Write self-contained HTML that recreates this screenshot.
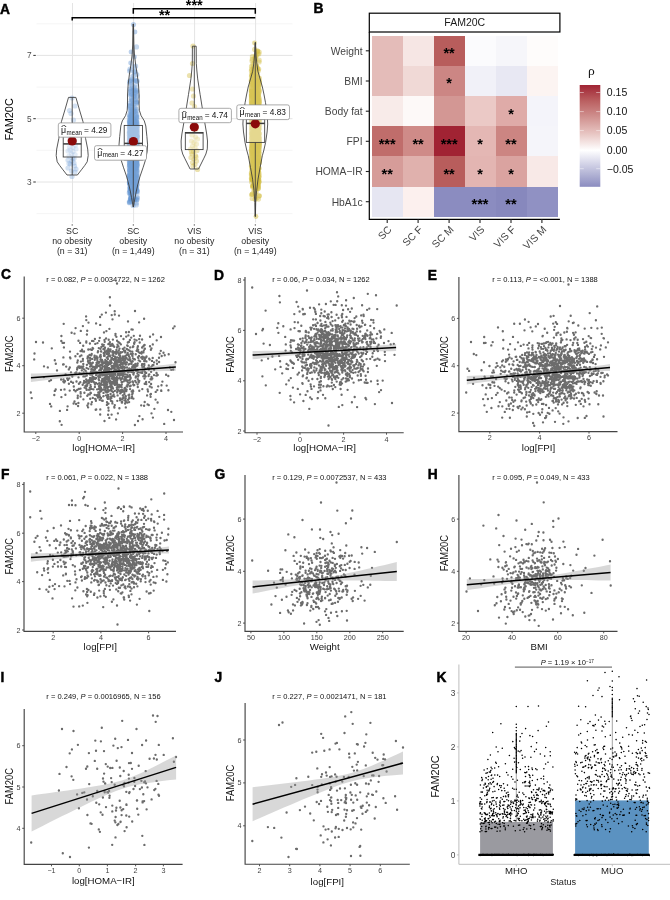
<!DOCTYPE html>
<html lang="en"><head><meta charset="utf-8"><title>FAM20C figure</title>
<style>html,body{margin:0;padding:0;background:#fff}svg{display:block;font-family:'Liberation Sans', sans-serif}</style></head>
<body><svg width="670" height="900" viewBox="0 0 670 900">
<rect width="670" height="900" fill="#fff"/>
<g id="panelA">
<text x="0" y="13.9" font-size="13.8" font-weight="bold" stroke="#000" stroke-width="0.45">A</text>
<line x1="36.5" y1="23.8" x2="292.5" y2="23.8" stroke="#f0f0f0" stroke-width="0.7"/>
<line x1="36.5" y1="87.1" x2="292.5" y2="87.1" stroke="#f0f0f0" stroke-width="0.7"/>
<line x1="36.5" y1="150.3" x2="292.5" y2="150.3" stroke="#f0f0f0" stroke-width="0.7"/>
<line x1="36.5" y1="213.6" x2="292.5" y2="213.6" stroke="#f0f0f0" stroke-width="0.7"/>
<line x1="36.5" y1="55.4" x2="292.5" y2="55.4" stroke="#e4e4e4" stroke-width="1"/>
<line x1="36.5" y1="118.7" x2="292.5" y2="118.7" stroke="#e4e4e4" stroke-width="1"/>
<line x1="36.5" y1="182" x2="292.5" y2="182" stroke="#e4e4e4" stroke-width="1"/>
<line x1="72.5" y1="3" x2="72.5" y2="222.6" stroke="#e4e4e4" stroke-width="1"/>
<line x1="133.6" y1="3" x2="133.6" y2="222.6" stroke="#e4e4e4" stroke-width="1"/>
<line x1="194.6" y1="3" x2="194.6" y2="222.6" stroke="#e4e4e4" stroke-width="1"/>
<line x1="255.6" y1="3" x2="255.6" y2="222.6" stroke="#e4e4e4" stroke-width="1"/>
<line x1="33.3" y1="55.4" x2="35.8" y2="55.4" stroke="#333" stroke-width="1"/>
<text x="31.7" y="58.4" font-size="8.3" fill="#4d4d4d" text-anchor="end">7</text>
<line x1="33.3" y1="118.7" x2="35.8" y2="118.7" stroke="#333" stroke-width="1"/>
<text x="31.7" y="121.7" font-size="8.3" fill="#4d4d4d" text-anchor="end">5</text>
<line x1="33.3" y1="182" x2="35.8" y2="182" stroke="#333" stroke-width="1"/>
<text x="31.7" y="185" font-size="8.3" fill="#4d4d4d" text-anchor="end">3</text>
<text x="13.2" y="119.4" font-size="10.9" text-anchor="middle" transform="rotate(-90 13.2 119.4)">FAM20C</text>
<line x1="72.2" y1="224.3" x2="72.2" y2="225.6" stroke="#333" stroke-width="0.9"/>
<text x="72.2" y="234.2" font-size="8.8" fill="#262626" text-anchor="middle">SC</text>
<text x="72.2" y="244.3" font-size="8.8" fill="#262626" text-anchor="middle">no obesity</text>
<text x="72.2" y="254.3" font-size="8.8" fill="#262626" text-anchor="middle">(n = 31)</text>
<line x1="133.3" y1="224.3" x2="133.3" y2="225.6" stroke="#333" stroke-width="0.9"/>
<text x="133.3" y="234.2" font-size="8.8" fill="#262626" text-anchor="middle">SC</text>
<text x="133.3" y="244.3" font-size="8.8" fill="#262626" text-anchor="middle">obesity</text>
<text x="133.3" y="254.3" font-size="8.8" fill="#262626" text-anchor="middle">(n = 1,449)</text>
<line x1="194.3" y1="224.3" x2="194.3" y2="225.6" stroke="#333" stroke-width="0.9"/>
<text x="194.3" y="234.2" font-size="8.8" fill="#262626" text-anchor="middle">VIS</text>
<text x="194.3" y="244.3" font-size="8.8" fill="#262626" text-anchor="middle">no obesity</text>
<text x="194.3" y="254.3" font-size="8.8" fill="#262626" text-anchor="middle">(n = 31)</text>
<line x1="255.3" y1="224.3" x2="255.3" y2="225.6" stroke="#333" stroke-width="0.9"/>
<text x="255.3" y="234.2" font-size="8.8" fill="#262626" text-anchor="middle">VIS</text>
<text x="255.3" y="244.3" font-size="8.8" fill="#262626" text-anchor="middle">obesity</text>
<text x="255.3" y="254.3" font-size="8.8" fill="#262626" text-anchor="middle">(n = 1,449)</text>
<g fill="#5b8fd0" fill-opacity="0.3">
<circle cx="72" cy="98" r="2.6"/>
<circle cx="69.5" cy="110.5" r="2.6"/>
<circle cx="71" cy="113.5" r="2.6"/>
<circle cx="75" cy="106" r="2.6"/>
<circle cx="73.5" cy="120" r="2.6"/>
<circle cx="70" cy="139" r="2.6"/>
<circle cx="74.5" cy="140.5" r="2.6"/>
<circle cx="68" cy="151" r="2.6"/>
<circle cx="76" cy="149" r="2.6"/>
<circle cx="71.5" cy="154" r="2.6"/>
<circle cx="75" cy="154.5" r="2.6"/>
<circle cx="73" cy="151.5" r="2.6"/>
<circle cx="69" cy="156" r="2.6"/>
<circle cx="72.5" cy="158" r="2.6"/>
<circle cx="68" cy="160" r="2.6"/>
<circle cx="74" cy="163" r="2.6"/>
<circle cx="70.5" cy="164" r="2.6"/>
<circle cx="68" cy="168" r="2.6"/>
<circle cx="76" cy="169" r="2.6"/>
<circle cx="71.5" cy="171" r="2.6"/>
<circle cx="72" cy="176.5" r="2.6"/>
<circle cx="74.5" cy="166" r="2.6"/>
<circle cx="69.5" cy="147" r="2.6"/>
<circle cx="75.5" cy="145" r="2.6"/>
<circle cx="71" cy="143" r="2.6"/>
<circle cx="73" cy="147.5" r="2.6"/>
<circle cx="70" cy="150" r="2.6"/>
<circle cx="74" cy="158.5" r="2.6"/>
<circle cx="72" cy="161" r="2.6"/>
<circle cx="69" cy="163.5" r="2.6"/>
<circle cx="75" cy="172" r="2.6"/>
</g>
<path d="M129.8 156.1h0M132.6 136.1h0M134.7 128.3h0M130.9 148.7h0M136.2 133h0M134.5 138.1h0M133.9 155h0M130.9 159h0M134.1 128h0M130.7 95.1h0M132.7 191.7h0M132.5 164.8h0M137.2 81h0M131.6 187.4h0M130.4 165h0M133.2 132.8h0M135.3 128.1h0M129.3 146.5h0M133.6 181.4h0M133.6 127.7h0M131.1 169.4h0M129.4 137.8h0M132.7 177.1h0M136.6 137.1h0M136.1 140.4h0M133.3 139.8h0M134.6 111.1h0M136.2 155.2h0M135.7 159.4h0M135.9 121.9h0M129.4 157.2h0M134.7 150.1h0M136.9 199.7h0M130.7 153.5h0M133 136.6h0M133.1 129.1h0M129.3 133.2h0M135.8 121.3h0M135.9 95.4h0M133.2 162h0M135.1 136.7h0M135.9 161.1h0M135.3 151.2h0M134.7 163.8h0M133.4 153.4h0M136 145.8h0M133 146.2h0M136.2 92.5h0M129.3 134.8h0M134.5 141.8h0M131.3 143.3h0M132.5 160.7h0M134.3 141h0M130.7 131.9h0M132.1 182.5h0M131.6 143.5h0M131.5 146.8h0M132.6 170.5h0M134.6 188.6h0M137.2 159.5h0M129.5 174.6h0M132.5 180.2h0M130 128.9h0M135.9 151.4h0M136.4 135h0M131.3 161.8h0M130 129.9h0M132.4 149.5h0M134.3 71.5h0M137.1 137.1h0M133.9 151.4h0M130.2 171.9h0M131.7 119.1h0M133.9 127.4h0M133 138.6h0M134.5 144.9h0M136.3 139.3h0M132.1 177.7h0M136.9 160.9h0M131.8 186.4h0M129.4 201.6h0M132.9 186.6h0M133.1 122.1h0M129.4 165.4h0M131.2 91.7h0M136.4 191.4h0M129.8 149.2h0M133 137.5h0M133.1 178.9h0M130.5 122.1h0M135.9 132.1h0M131.2 160.6h0M130.5 143.4h0M132.2 135.7h0M135.9 147.9h0M129.8 151.9h0M131.4 143.5h0M134 124.8h0M129.7 137.9h0M134.6 154.8h0M131.4 174.2h0M129.4 182.2h0M130.9 158.6h0M135.1 148.3h0M135.8 125h0M133.9 122.5h0M136.5 163.2h0M135.8 149.4h0M135.1 187h0M130.2 135.4h0M136.3 175.7h0M134.1 123.6h0M130.9 165.7h0M130.2 132.8h0M136.6 148.4h0M129.7 142.5h0M129.7 170.5h0M129.4 114.8h0M130.4 148.2h0M131.7 114.5h0M129.7 114.2h0M134.6 166.1h0M133 163.5h0M129.8 139.8h0M136.4 96.7h0M134.7 178.9h0M136.2 163.3h0M136 155.6h0M133.6 130.6h0M136.9 150.8h0M134.3 136.2h0M133.3 135.9h0M136.9 165.3h0M131.6 161h0M131.7 138.3h0M132.3 179.8h0M134.9 137.3h0M133 170.1h0M134.7 157.9h0M136.6 167.7h0M131.6 147.2h0M136.3 164h0M132.2 138.5h0M130.2 188.2h0M131.9 136.2h0" stroke="#5b8fd0" stroke-width="5.2" stroke-linecap="round" fill="none" stroke-opacity="0.34"/>
<path d="M132.3 178.8h0M135.9 134h0M130.1 124.4h0M132.3 130.7h0M136.4 176.2h0M131.9 153.4h0M135.1 157.2h0M135.8 134.7h0M134 184.2h0M131.7 176.9h0M134.9 158.5h0M135.5 181.2h0M134.7 155.8h0M137.2 150.7h0M136.6 153h0M132.8 169.5h0M135.9 182.1h0M129.7 156.2h0M131.8 169h0M129.8 152.1h0M136.6 158.4h0M130 136h0M134.7 127.2h0M131 163.6h0M131.1 131.8h0M134.3 150h0M137.1 165.1h0M134.5 125.9h0M132.8 138.9h0M129.6 127.3h0M130.4 126.8h0M134.6 141.6h0M134.3 123.3h0M133.1 144.1h0M135.8 137.2h0M133 121h0M135.5 150.2h0M134.2 119h0M130.1 135.6h0M135.1 173.1h0M135.5 185.9h0M130.9 156.6h0M136.9 165.7h0M136.6 114.4h0M134.3 130.8h0M137.2 156.8h0M135.6 164.3h0M130.8 141.6h0M134.4 134.6h0M133.6 133.7h0M136.6 172.5h0M131.4 166.1h0M129.4 155.7h0M132.1 108.3h0M136 158.7h0M131.7 157.4h0M130.9 80.4h0M136.6 124.9h0M131.2 177.9h0M130 152.7h0M134.8 166h0M133.6 158.8h0M131.9 132.5h0M136.9 173.4h0M134 166.3h0M129.8 128h0M134.5 134.4h0M131.7 110.8h0M131.9 149.8h0M133.7 95.9h0M135.6 165.4h0M134.4 121.8h0M132.7 171.1h0M129.5 146.3h0M131.6 195.9h0M132 157.8h0M130.2 154.3h0M131.6 182.1h0M132 146.7h0M132.9 90.7h0M129.8 125.2h0M135.3 140.1h0M130.8 105.7h0M134.2 140.5h0M134.2 141h0M135 127.4h0M129.6 154h0M136.3 109.2h0M130.2 157.1h0M134.9 179.9h0M131.3 152.7h0M134.6 169.5h0M129.9 136.3h0M134.5 133.6h0M133.3 144.1h0M133.6 129.8h0M131.4 158.7h0M135.8 181.3h0M129.8 154.4h0M129.4 117.7h0M132.2 176.8h0M136.4 122.9h0M134.4 134.9h0M136.5 175.7h0M130 129.4h0M136.6 150.7h0M136.9 132.4h0M131.2 176.8h0M130.5 91.3h0M131.1 153.9h0M133.7 158.4h0M132.8 147.8h0M130.5 117.3h0M130.6 136.5h0M136.8 165.3h0M134.9 153.4h0M134 147.9h0M134.5 167.2h0M135.1 130.8h0M136.9 149h0M133.7 162h0M131.5 105.8h0M131.4 123.6h0M131.5 136.6h0M135.8 117.5h0M131.3 121.1h0M131.7 137.7h0M130.9 198.6h0M134.8 123.9h0M129.6 145.8h0M136.5 162h0M131.2 157.2h0M133.2 140h0M129.8 140.7h0M131.2 154.6h0M134.8 139.7h0M129.5 132.9h0M130.8 164.6h0M136 128.8h0M131.1 130.1h0M130.3 131.2h0M136.1 160.1h0M130 142.5h0M131.8 114.7h0M130.3 135.6h0" stroke="#5b8fd0" stroke-width="5.2" stroke-linecap="round" fill="none" stroke-opacity="0.34"/>
<path d="M135.5 166.1h0M129.4 132.2h0M135.2 155.3h0M132.2 79.2h0M129.4 148.3h0M131 105.3h0M134.9 158.7h0M135.1 175.7h0M129.9 152h0M136.3 146.5h0M131.5 142.9h0M132 125.7h0M133.7 167.8h0M132.5 137.9h0M135.7 142.7h0M136.5 158.4h0M133.2 172.3h0M130.1 155.8h0M129.3 176.7h0M132.1 94.4h0M133.4 154.5h0M134.4 120h0M131.2 153.6h0M131.2 175.5h0M131 144.9h0M129.7 128.8h0M135.7 121.4h0M134.8 143.4h0M135.4 107.5h0M133.8 168.5h0M132.2 165.6h0M129.3 149.9h0M136.1 161.2h0M131.3 164.4h0M135.9 162.5h0M136.6 91.4h0M135.2 133.9h0M130.4 194.5h0M132.5 155.2h0M131.8 159.3h0M130.4 124.6h0M130.2 187.8h0M129.6 107.2h0M136.3 152.6h0M135.1 127.4h0M137.2 170.5h0M136.4 148.2h0M136.1 175.7h0M134.7 143.6h0M135.3 177.8h0M132.7 170.7h0M136.6 102.3h0M132.4 132.4h0M133.2 143.1h0M133.8 156.3h0M130.5 121.7h0M137.2 145.6h0M137.1 184.6h0M131 119.3h0M136.2 188.2h0M134 138.1h0M131.9 173.2h0M132.7 185.8h0M131.4 114.7h0M132.8 156h0M136.8 162.5h0M135.6 125.1h0M135.4 119.9h0M137.2 140h0M131.6 141h0M136.4 153.8h0M135.9 150.6h0M130.3 183.4h0M137 182.8h0M132.6 164.4h0M136.8 147.8h0M133.3 134.2h0M132.8 136.9h0M134.4 123.2h0M131.8 182.3h0M130.1 171.3h0M130 184.6h0M130.9 166.2h0M131.4 137.4h0M132.6 152.2h0M130.7 132.1h0M130.9 160.5h0M135.4 90.2h0M136.2 116.5h0M132.7 136.7h0M131.1 188.7h0M135 167.2h0M133.6 148.6h0M131.4 184.8h0M133.6 188.5h0M130.5 171.1h0M129.4 103.3h0M134.3 189.1h0M135.6 183.7h0M136.3 158.8h0M130.6 155h0M131.2 80.1h0M136.8 142h0M131.5 159.5h0M133.5 114.4h0M132.3 154.8h0M130.6 199.4h0M133.6 146.1h0M130.5 201.3h0M135.5 169.5h0M130.9 135h0M130.4 134.4h0M129.4 175.7h0M133.3 154.2h0M133.9 158.6h0M131.1 152.5h0M135.2 190.6h0M135.2 107.9h0M133 142.2h0M130.7 181.7h0M132.8 133.9h0M130.5 161.7h0M136.6 141.2h0M134 122.1h0M131.9 147.5h0M129.7 149.9h0M133.5 110.9h0M133.2 160.4h0M135.2 144.2h0M129.9 156.9h0M130.2 132.4h0M132.8 113.6h0M131 115.3h0M136.1 136.4h0M132.2 145.2h0M136.5 118h0M134.9 161.2h0M130.4 121.9h0M134.8 140.1h0M130 158.1h0M135.2 168.5h0M136.3 171h0M129.8 174.4h0M130.8 165.2h0M130.4 198.7h0" stroke="#5b8fd0" stroke-width="5.2" stroke-linecap="round" fill="none" stroke-opacity="0.34"/>
<path d="M133.7 129h0M129.4 145h0M133.6 96h0M136.5 126.7h0M133.1 173.8h0M136.6 140.5h0M133.2 123.4h0M136.5 157.6h0M134.1 126.6h0M130.3 151.7h0M130.6 150.8h0M136 183.7h0M136.1 148.8h0M131.1 132.7h0M131.3 176.6h0M133.8 161.9h0M131.1 120.1h0M136.4 126.6h0M134 148.9h0M134.2 153.8h0M130.7 127.1h0M132.8 156.5h0M131.4 156.6h0M136.4 178.8h0M135.3 158h0M130.8 132.3h0M134.5 121.9h0M131.5 177h0M130.6 148.9h0M132.7 158.1h0M130.7 164.1h0M136.3 163.1h0M133.1 172h0M136.4 126.2h0M130.9 144.4h0M136.6 148.4h0M132.4 148.6h0M132.6 185.9h0M130.8 107.1h0M130.6 164.7h0M135.4 148.4h0M132.1 143.9h0M133.9 163.8h0M132.8 151.9h0M133.9 177.3h0M133.3 160.1h0M132.3 137.7h0M131.5 152.5h0M136.3 204.9h0M135.8 147.8h0M133.2 146.9h0M136.1 163.2h0M134.9 146.2h0M136.5 165.4h0M134 165.9h0M134.1 122.5h0M130 125.2h0M136.6 179h0M130.4 136.5h0M131.7 154.7h0M131.5 112.9h0M131.3 142.2h0M131.4 132.3h0M130.7 134.2h0M137.1 164h0M137.3 133h0M129.8 106.1h0M136 177.5h0M130.8 165.2h0M130.4 123.8h0M135.4 168.8h0M129.9 163.4h0M131.9 117.5h0M130.9 110.4h0M132.4 119.2h0M130.1 124.1h0M135.4 92.1h0M136 163.2h0M134.6 192.3h0M132 155.2h0M136.6 143h0M136.7 142.3h0M136.2 152.1h0M131.3 157.3h0M131.8 132.9h0M136.9 127.8h0M133.9 137.6h0M133.3 183.9h0M133.7 136h0M134.7 137.6h0M132.1 170.4h0M132.4 146.1h0M136.8 74.6h0M129.9 148.8h0M135 187.9h0M136.1 80.6h0M134.7 131.8h0M133.4 147.8h0M136.8 101.5h0M131.3 190.1h0M132 150h0M130.1 133.6h0M130 145.7h0M136.7 117.2h0M131 146.1h0M130.8 143.3h0M133.9 162.9h0M134 146.8h0M135.2 153.6h0M131.4 185.5h0M130.4 166.4h0M133.1 150.7h0M136 153.9h0M131.6 156.4h0M137.2 135.6h0M136.4 188.7h0M130.2 134.4h0M132.6 190.9h0M133.4 156.9h0M133.5 142.4h0M132.5 179.8h0M129.9 181.6h0M129.4 202.7h0M131.5 182h0M133.9 99.9h0M132.7 100.5h0M132.8 161.2h0M133.7 140.6h0M131.1 134.4h0M130.9 191h0M135.9 148.8h0M129.8 158.5h0M137.1 150.1h0M133.2 146.1h0M135.2 152.2h0M131.3 156.7h0M131.1 197.9h0M133.2 133.8h0M133.3 156.5h0M133.4 159.5h0M133.1 169.8h0M131.1 135.1h0M135.5 160.4h0M129.8 175.7h0M132.6 136.8h0" stroke="#5b8fd0" stroke-width="5.2" stroke-linecap="round" fill="none" stroke-opacity="0.34"/>
<path d="M130.6 136h0M133.5 147.9h0M134.8 92.7h0M133.5 158.8h0M130.3 157h0M129.6 137.3h0M131.8 144.4h0M136.7 121.4h0M131.2 178.5h0M136.9 136.6h0M132.8 176.9h0M135 71.3h0M132.7 162.4h0M133.7 187.7h0M133.1 143.1h0M132.7 156.4h0M134.4 155.3h0M132.4 105.3h0M131.4 182h0M131.5 125.9h0M133.9 153h0M130 168.1h0M136.3 154.3h0M131.5 123.9h0M135.9 118.3h0M130.2 136.8h0M132.3 121.3h0M131.2 140.1h0M134.5 164.9h0M134.2 162.3h0M131.2 162.6h0M130.6 140.4h0M129.9 183.6h0M130.7 180.8h0M136.5 103.4h0M132.1 120.8h0M131.3 156.5h0M133.2 130.4h0M136.4 130.8h0M132.2 135.4h0M136.9 115.8h0M134.3 142.1h0M130.8 81.7h0M134.8 184.8h0M132.2 127.4h0M132.3 156.2h0M133.4 169.9h0M133.6 151.9h0M130.9 138.2h0M129.3 161.3h0M134.9 165.7h0M135 170.3h0M132.2 149.9h0M135.4 162.1h0M131.3 163.8h0M135.5 126.1h0M132 133.2h0M132.6 157.4h0M136.8 91.1h0M136.9 137.2h0M129.4 121.7h0M135.6 66.2h0M136 160.4h0M135.6 165.8h0M134.6 140.4h0M134.1 147.1h0M131.8 146.6h0M136.3 146.4h0M133.8 110.9h0M135.7 113.8h0M133.2 151.7h0M134.2 142.2h0M130.4 131.1h0M132.1 126h0M131.6 169.2h0M135.7 122.2h0M130 136.5h0M133.4 131.8h0M130 161h0M133.2 107.8h0M132.6 167.8h0M133.1 140.2h0M133.9 158.7h0M133.3 126h0M133.3 139.5h0M131.3 199h0M132.7 137.4h0M132.2 144.3h0M130.1 88.9h0M133.1 115.6h0M135.6 157.4h0M130.5 126h0M129.7 143.8h0M130.8 117.8h0M136.1 121.5h0M130.1 160.2h0M129.9 83.2h0M131.8 146.3h0M129.7 169.6h0M133.7 195.2h0M134.9 127.8h0M134.5 122.5h0M132.4 180.4h0M135.3 122.6h0M135.4 153.2h0M131.6 175h0M134.7 143.6h0M131.9 134.3h0M132.4 111.1h0M133.7 138.4h0M131.9 135.1h0M136.6 163.7h0M129.3 178.3h0M132.9 184h0M131.2 114.7h0M131 137.6h0M132.7 120.7h0M133.3 175.7h0M131.7 182.1h0M133.6 131.7h0M133.6 179.2h0M131.4 192h0M131.9 151.2h0M129.7 126.9h0M131.4 148.8h0M130.9 187.6h0M129.9 192.3h0M135.6 163.6h0M132.8 172.7h0M131.6 121.9h0M129.3 159.8h0M132.2 152.6h0M133.1 154.5h0M134.1 149.3h0M130.6 82.7h0M135.8 121.3h0M132.9 140.1h0M133 170.4h0M130.4 183h0M135.7 145.9h0M134.5 186.3h0M133.8 159h0M129.3 159.7h0M136.6 148.9h0M136 129.8h0" stroke="#5b8fd0" stroke-width="5.2" stroke-linecap="round" fill="none" stroke-opacity="0.34"/>
<path d="M135.8 177.6h0M131.7 151.2h0M135.2 148.1h0M129.8 129.5h0M133.5 164.8h0M131.3 123.4h0M129.4 131.1h0M131.2 172.8h0M132.4 156.7h0M132.7 165.2h0M130 138.8h0M129.6 165.2h0M129.4 130.7h0M132.1 145.6h0M134.3 183.6h0M137.1 193.3h0M136.6 147.3h0M134.8 141.2h0M131.5 97.4h0M137.2 158.2h0M135.1 94.6h0M136.3 135.9h0M130.9 116.8h0M131.9 88.2h0M131.1 139.8h0M131.5 146.5h0M132.5 113.6h0M131.1 162.1h0M129.6 127.3h0M136.4 202.9h0M134.7 145h0M130.7 172.2h0M129.4 120.3h0M137 129.9h0M129.6 202.3h0M131.6 126.8h0M133.6 149.4h0M136.9 191.1h0M133.7 146.1h0M130.6 125.3h0M133.8 191.2h0M132.2 160.8h0M135.7 190.2h0M130.8 95.3h0M136.1 144.9h0M135.2 142.6h0M133.4 140.9h0M135 158.5h0M130.3 144.3h0M136.8 111h0M134.8 146.6h0M130.6 144.4h0M135.8 155.8h0M129.3 127.7h0M135.5 137.9h0M130.3 134.8h0M134.2 169.2h0M135.3 99.1h0M130.3 171.4h0M135.3 149.5h0M136.8 126.5h0M131.5 166.2h0M132.1 121.9h0M131.8 155.7h0M136.9 162.2h0M130.5 174.1h0M131.7 129.1h0M130.7 170.2h0M134.7 132.9h0M136.1 152.8h0M130.7 127.9h0M131.4 133.3h0M131.4 125.4h0M133.5 147.9h0M134.1 135.7h0M132.7 134.3h0M133.6 164.1h0M134 122.1h0M129.9 121.8h0M134.8 152.4h0M136.1 177.6h0M132.2 165h0M132.7 168.8h0M134.1 119.6h0M134.9 155.4h0M134.8 134.5h0M130 69.2h0M131 127.7h0M131.9 128.8h0M133.3 168.7h0M136.1 149h0M134.2 92.6h0M134.4 127.2h0M131.5 99.9h0M134 124h0M134.6 127.6h0M130.9 150.2h0M133.4 173.9h0M129.5 150.1h0M132.1 178.4h0M137.2 148.7h0M135 127.2h0M132.1 131.1h0M134.5 200.2h0M133.9 136.1h0M131.3 141.1h0M130.5 142.9h0M136.7 181.3h0M136.2 147.6h0M136 151.2h0M130.4 178.6h0M134 174.5h0M131.3 167.7h0M134.8 79.9h0M131.7 146.5h0M131.7 142.2h0M129.8 171.5h0M131.3 135h0M130.6 168.6h0M133.3 151.5h0M134.3 185.4h0M130.3 161.7h0M133.9 148.3h0M133.9 75.8h0M130.9 164.2h0M134.8 126.2h0M129.5 81.5h0M129.5 146.7h0M131.7 172.9h0M136.2 191.5h0M135.2 128.3h0M132.6 154.8h0M132.8 182.3h0M136.4 159.9h0M137.3 147.2h0M131.8 178.3h0M134.7 168.8h0M134.5 200.8h0M136.2 134.7h0M132.5 126.6h0M131.2 171.6h0M130 149.8h0M137.2 197h0M136.6 168.1h0M129.9 184.3h0" stroke="#5b8fd0" stroke-width="5.2" stroke-linecap="round" fill="none" stroke-opacity="0.34"/>
<path d="M129.6 71h0M132.5 200.9h0M137.2 146.4h0M135 140.6h0M130 116.3h0M131.9 169.7h0M133.6 142.6h0M136.7 187h0M132.3 152.7h0M132.4 86.8h0M132.9 153.4h0M132.4 169.8h0M131.5 127.4h0M130.2 194.5h0M131.8 108.6h0M132.1 137.3h0M131.8 153.7h0M134.9 165.7h0M136.3 89.9h0M135.7 84.6h0M134.1 169.1h0M132.2 175.6h0M132.4 158.1h0M136.4 157.7h0M130.9 121.5h0M130.8 114h0M131.7 179h0M136.6 117.5h0M137 133.5h0M135.1 185.1h0M137 140.1h0M133.4 182h0M134.4 115.2h0M136.2 165.9h0M129.3 177.7h0M134.5 175.3h0M131.7 140.2h0M131.9 128.9h0M131 178h0M136.1 166.7h0M134.5 152.8h0M137 172.1h0M131.2 145.8h0M130.1 145.3h0M132.3 165.7h0M137 151.8h0M130.1 173.4h0M130.5 159.5h0M135.8 140.1h0M136.3 175.3h0M134.8 139.9h0M129.7 105.4h0M136.6 127.9h0M129.8 122.4h0M131 131.7h0M133.6 190h0M132.5 127.4h0M136.1 158.2h0M136.6 180.8h0M131.4 84h0M130.3 135.6h0M132 132h0M132.7 170h0M131.1 135.5h0M134.8 160.2h0M130.3 145.6h0M133.6 164.8h0M130.9 107.5h0M135.8 169.4h0M133.9 188.6h0M134.9 151.5h0M137.3 140.9h0M133.9 173.5h0M134.3 149.9h0M133.4 167.5h0M132.5 100.8h0M137.2 131h0M130.2 144.7h0M132.8 179.6h0M129.6 146.1h0M134.9 199.6h0M134.9 145.6h0M135.5 130.8h0M132.8 160.7h0M136.6 154.4h0M134.9 154.4h0M130.9 93.5h0M131.6 162.1h0M131.3 87.9h0M131.8 158.8h0M133.8 81.1h0M131 174.8h0M129.5 162h0M130.6 199.8h0M129.6 142.8h0M134.9 145.9h0M130 141.1h0M137.2 134.2h0M129.4 140.6h0M132 170.9h0M130.9 134.6h0M136.5 153.9h0M129.9 161h0M130.9 90.7h0M136.9 118.9h0M130.5 148.4h0M133.6 167.2h0M132 137.3h0M131.2 100.7h0M134.2 72.3h0M135.5 112.9h0M133 104.7h0M134 175h0M131.9 127.3h0M132.9 177.1h0M130.4 153.2h0M129.4 135.8h0M131.3 122.7h0M135.7 124.1h0M135.5 136.4h0M134.9 132.7h0M134.8 174h0M130.7 188.4h0M131.7 179.1h0M130.9 158.6h0M131.1 142.8h0M136 165.9h0M132.2 142.7h0M132.4 138.5h0M136 157.9h0M133.2 104.3h0M129.3 144.3h0M132.3 177.7h0M133.3 156.4h0M131.2 129.3h0M132.6 120.6h0M130.7 121.9h0M136.2 154.7h0M131.6 142h0M136 142h0M135.2 156.8h0M132.7 137.5h0M136.5 129.1h0M135.4 145.2h0M132.7 123.3h0" stroke="#5b8fd0" stroke-width="5.2" stroke-linecap="round" fill="none" stroke-opacity="0.34"/>
<path d="M136.7 170.4h0M133.6 167.8h0M130.2 183.1h0M133.3 66.9h0M136.4 151.9h0M134 140.4h0M134.3 118.7h0M132.5 180h0M137.1 141.8h0M133.4 139.7h0M133.3 159.9h0M135.4 123.4h0M134.1 140.2h0M135 148.1h0M130.2 143.8h0M135.1 141.5h0M129.5 159.5h0M132.8 170.2h0M132.2 85.5h0M133.3 135.5h0M129.7 190.8h0M136.4 168.3h0M135.3 156.8h0M131.9 128.7h0M131.2 158.4h0M136.8 164.7h0M135.7 133.2h0M135.7 162.5h0M136.3 150.3h0M131 172.9h0M133 143.3h0M134 140.7h0M132.7 198.6h0M132.4 109.5h0M133.2 181.6h0M130.9 146h0M135.9 168.7h0M132.9 147.5h0M130 165.1h0M130.1 125.5h0M131.9 168.4h0M135.6 137h0M135.2 141.7h0M135 156.5h0M136.5 161.2h0M134.3 142.6h0M129.3 167.4h0M136.9 153.2h0M131.4 152.9h0M136.8 136.3h0M134.3 150.9h0M136.7 159.3h0M130.4 189.6h0M137.3 137.1h0M130.4 143.2h0M133.6 87.8h0M129.4 155.2h0M130.9 153.4h0M130.6 198.3h0M133.4 162.8h0M131.9 144.9h0M133.2 123.1h0M133.1 120h0M129.9 155.8h0M134.9 141.1h0M132.9 134.6h0M134.1 182.7h0M133 153.7h0M135.8 146.7h0M132.4 153.4h0M136 147.4h0M132.2 149.9h0M131.7 181.9h0M132 165.6h0M132.6 78.3h0M136 128.5h0M131.2 142.4h0M129.8 153.5h0M130.3 118.3h0M137.3 152h0M130 132.4h0M131.5 145.8h0M136.6 130.1h0M135 164.9h0M136.8 123.6h0M136.6 199.8h0M133.9 149.9h0M132.1 76.7h0M130.5 121.3h0M132.7 150.9h0M132.2 178.4h0M132.2 194.9h0M133.7 148.5h0M130.9 152.4h0M133 173h0M131.5 193.9h0M135.7 148.1h0M133.9 168.7h0M133.9 139.1h0M132.5 126h0M136.2 121.3h0M133.3 143.9h0M134.1 135.7h0M131.5 134.4h0M135.1 169h0M132.1 120.4h0M130.9 126h0M131.9 160.5h0M131.2 150.3h0M135.3 139.8h0M133.8 121.5h0M134.2 153.4h0M133.3 103.7h0M134.6 139h0M133.4 154.3h0M131.7 178.6h0M132.3 173.8h0M129.7 176.7h0M130.3 147.1h0M129.7 182.8h0M136.5 46.9h0M134.8 174.2h0M136.1 135.2h0M136.1 154.4h0M130.2 154.5h0M133.8 150.4h0M132 126.4h0M133.1 139h0M132.2 155.2h0M136.8 167.8h0M136.6 169.1h0M133.1 130.7h0M136.4 103h0M131.5 159.4h0M131.5 142.2h0M130.3 139.6h0M133.5 153.4h0M135 175.8h0M132.5 86.5h0M132.5 163.9h0M137.2 126.2h0M133.9 137.6h0M137.2 148h0M131.3 138.9h0M132.1 190h0" stroke="#5b8fd0" stroke-width="5.2" stroke-linecap="round" fill="none" stroke-opacity="0.34"/>
<path d="M134.5 169h0M129.7 154.6h0M137.3 156.4h0M135.8 171.8h0M130.8 147.8h0M132.3 194.4h0M132.8 192.1h0M134.7 152.2h0M134.4 141.7h0M132.8 90.1h0M135.6 139.1h0M133.5 142.1h0M136.9 125.4h0M134.8 150h0M136 149.1h0M131.2 128h0M130.8 136h0M135.2 162.9h0M130.1 131.6h0M136.6 185h0M129.6 174.2h0M134.2 121.8h0M131.9 170.9h0M137.3 150.6h0M130.4 171.8h0M132.3 153.2h0M135.7 134.8h0M136.5 166.3h0M130.6 165.1h0M133.7 167.2h0M134.5 90.4h0M135.3 123.9h0M132.8 121h0M135.5 146.5h0M131.7 132.2h0M132.5 126.8h0M134 175.8h0M137.1 147.2h0M132.7 172.3h0M135.2 182.1h0M130.7 134.2h0M136.6 157.8h0M132 162.9h0M136.6 151.1h0M135.7 150.6h0M129.5 163.6h0M133.5 143.8h0M137 143.3h0M129.8 187.4h0M135.4 148h0M133.4 128.5h0M136.8 131.1h0M134.8 135.1h0M133.8 167h0M134.1 147.4h0M130.2 126.1h0M136.2 142.3h0M137.1 165.8h0M131.9 155.4h0M130.6 159.4h0M129.5 183h0M131.5 168.3h0M135.9 150.2h0M134.2 144.3h0M134.9 87.2h0M132.4 135.4h0M132.6 133.7h0M137 175.7h0M132.4 144.3h0M134.6 156.9h0M137 124.4h0M130 160.9h0M134.6 96.5h0M132.8 143.1h0M135 176.6h0M134.5 121.5h0M130.2 164.5h0M136.9 184.6h0M131.7 116.1h0M132.7 163.8h0M132.2 144.7h0M135 140.3h0M130.6 134.7h0M136.9 135.2h0M135.9 161.3h0M134.6 188h0M132.5 111.5h0M132.2 130.8h0M133.1 156.4h0M133.1 155.4h0M134.5 107.9h0M133.7 131.4h0M130.3 175.6h0M133.7 101.7h0M129.6 155.3h0M134 150.4h0M133.5 135.3h0M133.1 133.8h0M130.4 109h0M129.3 192.7h0M134.2 121.3h0M131.8 144.7h0M137.2 177.7h0M130.1 190.4h0M130.1 168.4h0M131.3 151.8h0M132.2 157.4h0M134.8 141.7h0M136.2 125.3h0M137.1 191.6h0M129.7 164.3h0M133.7 196.8h0M136.5 161.8h0M129.5 170.4h0M135.9 101.9h0M134.1 161.8h0M131.6 153.8h0M136.5 147h0M131.7 148h0M133.7 114.6h0M134.6 140.1h0M134.2 139.4h0M133.1 205.4h0M134.8 159.5h0M131.2 98.5h0M130.7 161.9h0M134.8 145.6h0M134 147.6h0M136.9 179.3h0M132.4 156.5h0M136.3 169.8h0M136.5 162.5h0M130.3 166.5h0M133.5 140.3h0M130.3 110.4h0M136.4 147.8h0M136 144h0M132 197h0M136.4 160.2h0M135.8 127h0M129.9 171.3h0M131.4 124.5h0M135.6 115.8h0M136.1 148.3h0M136.4 174.4h0" stroke="#5b8fd0" stroke-width="5.2" stroke-linecap="round" fill="none" stroke-opacity="0.34"/>
<path d="M133.7 145.8h0M137.2 198.2h0M133.1 148.5h0M129.7 123.8h0M134.6 176.4h0M130.2 153.4h0M137 128.8h0M136.9 122.3h0M135.1 131.8h0M133.1 120.6h0M130.2 149.4h0M134.7 170.5h0M134.2 138.7h0M137.1 179h0M130.6 187.6h0M135.4 99.4h0M136.8 190h0M133 118.8h0M134.3 131.2h0M129.6 150h0M132.6 100h0M134.3 165.2h0M132.2 170.2h0M135.9 187.1h0M132.7 140.4h0M130.4 134.3h0M133.2 171.3h0M135.9 170.7h0M135.4 179h0M133.8 140.7h0M135.4 173.5h0M131.6 164.9h0M131.9 126.6h0M133.9 91h0M132.7 141.6h0M135 159.2h0M131.8 126h0M132.7 182h0M130.1 165h0M132 154.6h0M135.3 167.8h0M134.1 127.7h0M134.5 149.8h0M135.3 111.4h0M135.6 169h0M129.6 140.9h0M133.3 162.7h0M137.1 127.3h0M130 177.7h0M132.4 128.3h0M135.4 137.3h0M131.5 157.1h0M132.3 135.7h0M134.2 146.7h0M136 122.2h0M133.5 125.8h0M131.2 142.1h0M130.1 128.6h0M131 157.7h0M132.6 142.7h0M132.4 134.4h0M135.1 161.3h0M131 93.3h0M136.8 174.7h0M130.3 190.7h0M130.9 111.5h0M136.2 151.6h0M134.3 176.3h0M131.5 192.7h0M137.1 137.1h0M130.5 156.1h0M135.6 150.9h0M136.5 137.7h0M134.3 123.8h0M135.8 125h0M137.1 145.5h0M131.6 142.4h0M132.1 122.6h0M130.9 137h0M136.7 159.9h0M132 186.7h0M132.6 143.1h0M137.3 136.5h0M130.7 156.2h0M132.1 113.2h0M137.2 96.2h0M135.4 127.7h0M130.7 190.7h0M130.8 117.7h0M132 117.7h0M135.9 122.1h0M137 175.1h0M134.6 178.7h0M132.8 146.6h0M134.1 162.9h0M131.9 103.5h0M133 157.5h0M136.4 161.5h0M133.8 132.2h0M132.7 128.2h0M130.1 169h0M131.8 129.1h0M131.5 141.5h0M136.5 81.3h0M132.3 152.2h0M133.4 165.9h0M131.9 162.8h0M133.2 184.7h0M132.2 139.7h0M131.7 120.5h0M136.3 144.3h0M134.3 145.9h0M131 127.9h0M133.7 150.5h0M132.9 144.4h0M131.4 146.5h0M136.3 148.9h0M129.5 121.6h0M135.3 199h0M135.6 128.4h0M137.3 190.4h0M132.4 118h0M132.3 181.3h0M135.1 162.4h0M131.1 130h0M133.2 184.6h0M132.6 149.8h0M130.4 132.7h0M129.4 139.5h0M129.4 176.2h0M129.7 158.4h0M129.8 145.2h0M131 132.8h0M133.3 158.9h0M132.4 158.4h0M132.3 120.2h0M130.6 135.3h0M133.2 164.6h0M131 143.1h0M130.2 115.4h0M131.9 162.9h0M132.7 147.4h0M129.3 142.1h0M135.9 128.4h0" stroke="#5b8fd0" stroke-width="5.2" stroke-linecap="round" fill="none" stroke-opacity="0.34"/>
<g fill="#d2bb3d" fill-opacity="0.42">
<circle cx="193" cy="46" r="2.6"/>
<circle cx="192.5" cy="63.5" r="2.6"/>
<circle cx="189.5" cy="75.5" r="2.6"/>
<circle cx="192.5" cy="89" r="2.6"/>
<circle cx="193.5" cy="96" r="2.6"/>
<circle cx="192" cy="103" r="2.6"/>
<circle cx="194.5" cy="106.5" r="2.6"/>
<circle cx="193" cy="126" r="2.6"/>
<circle cx="196" cy="129" r="2.6"/>
<circle cx="192" cy="135" r="2.6"/>
<circle cx="195.5" cy="137" r="2.6"/>
<circle cx="197.5" cy="139" r="2.6"/>
<circle cx="191.5" cy="141" r="2.6"/>
<circle cx="194" cy="142.5" r="2.6"/>
<circle cx="196.5" cy="144" r="2.6"/>
<circle cx="192.5" cy="146" r="2.6"/>
<circle cx="195" cy="147.5" r="2.6"/>
<circle cx="190.5" cy="149" r="2.6"/>
<circle cx="197" cy="150.5" r="2.6"/>
<circle cx="193.5" cy="151.5" r="2.6"/>
<circle cx="192" cy="154" r="2.6"/>
<circle cx="195.5" cy="155.5" r="2.6"/>
<circle cx="191" cy="157.5" r="2.6"/>
<circle cx="194" cy="159" r="2.6"/>
<circle cx="196.5" cy="161" r="2.6"/>
<circle cx="192.5" cy="162.5" r="2.6"/>
<circle cx="195" cy="164.5" r="2.6"/>
<circle cx="193" cy="166" r="2.6"/>
<circle cx="197.5" cy="169.5" r="2.6"/>
<circle cx="191.5" cy="152" r="2.6"/>
<circle cx="196" cy="157" r="2.6"/>
</g>
<path d="M257.2 94.4h0M252.8 104.1h0M255 154.1h0M257.3 90.8h0M255.1 174.2h0M252.8 84.7h0M258.2 107.7h0M253 129.7h0M254 109.6h0M253.9 154h0M257.3 133.1h0M259.1 181.8h0M255.9 187h0M259.1 109h0M258.5 185h0M252.9 162.8h0M257.7 112h0M258.8 141h0M258.5 158.6h0M252 128.2h0M252.2 127.8h0M254.4 111.4h0M254.3 128.2h0M255.5 151h0M257.6 146.1h0M257.3 156.9h0M258.7 152.8h0M252.3 100.5h0M253.4 91.1h0M256.6 73.5h0M259.1 113.1h0M258.6 161.7h0M256 102.3h0M258.6 179.4h0M257.6 81.2h0M256.1 72h0M256.1 91h0M255.8 109.9h0M255.1 144h0M252.2 168.6h0M255.4 95h0M254.2 120.2h0M254.9 106.4h0M257.3 168.8h0M258.9 132.5h0M251.5 82.1h0M258.3 149.8h0M256 120.7h0M255.1 124.6h0M258.5 80.1h0M258.7 69.1h0M252.4 166.1h0M258.5 82.7h0M253.5 89.6h0M255.1 199.3h0M258.9 127.5h0M251.8 148.6h0M253.9 95.8h0M258.4 80.8h0M256.1 82.6h0M257.3 143.1h0M256.6 146.4h0M255 118.9h0M252.8 122.4h0M253.8 85.6h0M253.3 88.5h0M255.6 164.5h0M256.2 186.5h0M253.5 107.9h0M253.5 138.4h0M253.3 126.3h0M255.8 160.3h0M254.6 136.6h0M255.7 127.1h0M254.1 70.3h0M255.8 139.5h0M256.5 150.7h0M258.9 156.5h0M252.4 136h0M257.2 99.6h0M257.1 118.2h0M255.1 156.4h0M256.9 162.4h0M251.5 133.8h0M255.3 91h0M255.2 108.7h0M253 101.8h0M258.2 188.4h0M256.4 125.1h0M255.2 134.2h0M252.1 87.2h0M256.7 112.1h0M252.6 111.6h0M251.7 95.6h0M253.8 155.2h0M251.4 166.2h0M251.9 164.7h0M254.6 49.4h0M255.3 115.7h0M254.4 145.1h0M259.2 128.4h0M254.3 142.2h0M259.1 81.9h0M251.3 90.6h0M255.2 142.4h0M256.7 153.3h0M259.3 78.2h0M257.6 106.9h0M252.2 166.1h0M252.9 138.4h0M252.9 133.6h0M252.6 75.2h0M251.9 165.8h0M256.9 154.2h0M258.3 86.3h0M257.5 97.3h0M253.4 151.9h0M259.3 106.8h0M251.9 149.6h0M257.8 107.1h0M254.8 105.3h0M252.5 100.9h0M252.7 94.8h0M258.7 121.8h0M251.3 108.9h0M254.3 159.6h0M255.1 170.7h0M253.3 173.9h0M257.5 93.2h0M257.9 158.4h0M252.9 138.1h0M251.6 179.7h0M258.5 157h0M259.3 90.2h0M255.2 123h0M254.8 138.7h0M257.4 95.6h0M257.2 127.2h0M258.2 162.9h0M258.9 143.5h0M259.3 133.4h0M253.6 142.3h0M254.1 135.9h0M254.3 97.2h0M255.4 186h0" stroke="#d2bb3d" stroke-width="5.2" stroke-linecap="round" fill="none" stroke-opacity="0.4"/>
<path d="M253.7 137.6h0M258.5 90.3h0M256.1 107.6h0M257.6 81.8h0M255.8 77.4h0M256 163.4h0M252.9 85.1h0M259.2 101.8h0M254.9 106.7h0M253.8 77.7h0M256.6 98h0M251.7 112h0M256.6 135.2h0M255.1 114.3h0M257.3 95.1h0M259.2 107.6h0M256.9 173.2h0M255.6 115.4h0M257.2 171.9h0M253.8 144.4h0M252.3 144.5h0M259.3 160.8h0M257.5 112.4h0M256.9 164.3h0M255.6 160.4h0M255.3 138.9h0M251.3 108.9h0M254.5 78.9h0M257.7 105.6h0M252.4 128h0M257.6 142.9h0M254.1 105.8h0M256.1 112h0M256.9 101h0M257.9 183.5h0M259 86.1h0M256.7 92.3h0M253.7 112.8h0M253.4 147.2h0M257.5 160.4h0M252.7 150.7h0M252.8 137.5h0M253.4 185.6h0M256.4 122h0M256.1 134.9h0M254.7 89.8h0M254.9 103.6h0M252.6 136.2h0M257.9 170.7h0M252 118.7h0M258.3 100.1h0M258.8 120.8h0M258.4 138.8h0M252.3 138.1h0M256.8 149h0M257.2 138.6h0M255.7 159.5h0M251.3 158h0M257 51.5h0M257.8 135.8h0M257.6 134.5h0M256.9 91.3h0M256 129.2h0M257.7 137.1h0M253.4 169.9h0M254.6 91.4h0M256.7 145.8h0M258.9 159.4h0M257.9 180.7h0M254 96.6h0M252.7 161.1h0M251.9 89.4h0M252.8 137.1h0M254.1 89.6h0M259.1 162.9h0M254.5 94.5h0M254 150.2h0M252.9 75.5h0M256.3 85h0M252.1 156.1h0M257.1 86.8h0M253.7 142.1h0M254 121.9h0M258.9 158.8h0M253.1 71.3h0M252.3 59.3h0M256.3 186.6h0M253.2 114h0M258.9 157.2h0M258.6 78h0M258 145h0M259.3 153.3h0M256.5 81.5h0M258.9 116.3h0M254.5 136.3h0M253.9 120.6h0M256.9 158.2h0M257.2 85h0M253.6 148.4h0M259.1 157.3h0M258.3 80.6h0M257.5 91.8h0M256.1 126.8h0M253.8 177.7h0M252.9 115.3h0M251.4 174.7h0M258.7 140.1h0M257.6 118.3h0M252.3 150.8h0M253.2 71.9h0M253.6 174.9h0M258.2 147h0M257.8 131.7h0M258 85.4h0M256.3 100.1h0M255 77.4h0M252.8 137.2h0M252.1 95h0M255.8 107.5h0M257.5 117.7h0M258.2 102.8h0M254.8 150.4h0M258.5 87.7h0M255.6 135.4h0M251.8 153.5h0M253 102.9h0M256.8 173.7h0M253.2 113.6h0M258.9 138.9h0M252.8 179.8h0M255.7 130.6h0M258.5 155.3h0M253 109h0M257.7 155.4h0M258.3 159.7h0M256.8 85.7h0M258.2 166.8h0M251.5 74.9h0M254.5 112.9h0M253.6 70h0M253.9 147h0M251.3 115.7h0M252.5 125.6h0M252.2 140.4h0M253.2 117.5h0" stroke="#d2bb3d" stroke-width="5.2" stroke-linecap="round" fill="none" stroke-opacity="0.4"/>
<path d="M253.6 111.6h0M257.3 150.1h0M252.2 149.6h0M255 113h0M255.8 123.1h0M254.7 152.7h0M256.7 137.3h0M258.8 137.5h0M251.3 91.3h0M256.7 97.1h0M253.1 126.8h0M254.9 150.4h0M258.5 130.4h0M253.5 84.4h0M251.4 105.6h0M255.8 127.4h0M253.2 122.1h0M257 156.1h0M254.4 112.2h0M259.1 163h0M256.4 155.7h0M253.8 116h0M257.4 124.1h0M258.9 85.2h0M254.4 108.4h0M254.3 156.7h0M257.5 90h0M255.8 94.1h0M253 139h0M253.5 134.9h0M258.9 114.8h0M253.9 120h0M256.1 83.8h0M255.4 154.4h0M251.7 104.5h0M253 77h0M258.4 154.4h0M255.6 171.6h0M251.9 149.3h0M255.5 147.1h0M257 164.9h0M258.5 144.8h0M254.4 66.3h0M258.5 153.4h0M253.8 171.8h0M253.6 144.7h0M254.2 183.5h0M258.6 129.2h0M255 106.8h0M255.2 140.8h0M257.7 104.9h0M251.7 110.1h0M259.2 109.9h0M252.2 164.7h0M258.7 89.8h0M257.2 182.1h0M258.7 168.4h0M256.6 165.1h0M251.4 103h0M255 193.2h0M257.7 117.7h0M256.7 77.8h0M256.9 167.7h0M254.4 129.9h0M256.4 154.5h0M257.6 117h0M252.9 65.4h0M257.4 80.4h0M256.2 102.4h0M255 160.9h0M257 83.7h0M259.1 62h0M252.7 161h0M257.3 119.5h0M251.6 118.6h0M256.8 68h0M258.1 135.4h0M258.5 120.2h0M254 158.1h0M256.8 112.1h0M254.1 123.1h0M253.3 103.1h0M258.8 138.8h0M257.1 155.5h0M258.5 199.1h0M252.3 75.1h0M256.9 177.4h0M259.2 81h0M252.2 133.6h0M251.4 172.8h0M257.5 166.5h0M255.1 137.2h0M254.6 118.7h0M256.8 113.8h0M258.8 141h0M255.1 116.8h0M253.6 113.1h0M256 120.1h0M255.8 55.5h0M257.6 180.3h0M254.6 128h0M251.4 116.7h0M252.2 152.7h0M254 162.2h0M257.6 158.2h0M252.6 146.9h0M258.4 86.3h0M258.7 149.8h0M253.1 116h0M251.4 118.6h0M252.4 173.9h0M252.9 64.2h0M258.5 161.4h0M254 91.3h0M256 64.2h0M258.6 97.9h0M252.2 106.4h0M258.7 93h0M251.6 121.6h0M255.8 90.3h0M253.3 134.9h0M254.2 159h0M252.6 146.3h0M255.6 99.1h0M252.9 115h0M251.9 104.1h0M254.2 105.5h0M255.5 67h0M255.6 116.1h0M259.1 143.3h0M258.3 152.4h0M252.7 122.5h0M258.5 159.7h0M253 97.4h0M252 93h0M252.8 94.7h0M253.8 169.8h0M258 112.8h0M253.5 147.7h0M254.1 106.5h0M256.8 125.6h0M257.1 125.5h0M252 96.2h0M256 136.1h0M253 135.8h0" stroke="#d2bb3d" stroke-width="5.2" stroke-linecap="round" fill="none" stroke-opacity="0.4"/>
<path d="M251.8 137.1h0M252.2 77.7h0M257.7 68.8h0M258.3 129.1h0M258.8 102.7h0M254.5 106h0M253.4 99.6h0M255.1 115.3h0M253.6 108.5h0M255.2 176.9h0M256.9 121.2h0M252 103.8h0M254.8 134.5h0M253.9 170.9h0M259 146h0M251.8 116.9h0M252 133.6h0M256.1 127.6h0M254.1 82.3h0M256.5 131.6h0M256.4 131h0M253.2 146.1h0M252.5 179.8h0M256.2 170.4h0M255.4 89.3h0M253.2 150.5h0M255 145.4h0M255.1 112.6h0M251.8 118.2h0M254.6 104.1h0M255.7 117.5h0M253.5 131.2h0M253.7 168.5h0M257 105.9h0M259.3 112.6h0M256 110.6h0M258 103.6h0M257.3 167.8h0M257.9 116.3h0M254.9 131.6h0M252.8 94.2h0M251.6 141.4h0M254.4 164.2h0M255.7 131.4h0M257.8 119.5h0M254.1 113.5h0M251.4 107.2h0M255.3 138.3h0M259.1 168.3h0M253.8 107.6h0M254.5 140.6h0M259.1 100.8h0M254.2 137.8h0M251.5 66.3h0M258.2 117.4h0M258 186.6h0M259.2 107.3h0M252.9 148h0M253.7 153.4h0M254.6 82.3h0M258.1 150.1h0M253.2 73.7h0M253.1 132.6h0M254 129.7h0M252.8 186.1h0M255.3 127.7h0M259.1 136.4h0M253.8 137.1h0M257.3 118.6h0M254.7 132.8h0M253.5 139.3h0M252.4 108.6h0M258.2 108.2h0M254.6 113.3h0M253.5 86h0M255.5 96.6h0M254.2 152.4h0M251.7 131.8h0M251.5 76.7h0M258.2 107.9h0M251.9 96.3h0M254.1 145.8h0M253.7 165.7h0M255.7 144.4h0M252.1 96h0M252.6 80.6h0M256.2 119.3h0M251.4 110.3h0M258.7 148.1h0M255.9 139.8h0M258 135.5h0M254.2 88.9h0M258.3 171.8h0M254.7 107.5h0M257.7 149.7h0M251.9 91.4h0M258.6 125.4h0M256.1 113.7h0M252.3 122.6h0M254.2 140.1h0M254.4 118.5h0M258.1 100.1h0M259.1 148.4h0M256.5 87h0M252.2 110.2h0M256.9 89.5h0M258.4 150.8h0M256.7 161.1h0M258.2 150.3h0M258.7 161.7h0M253.9 129.2h0M258.6 129.9h0M259 160.5h0M252.2 136.3h0M251.4 93.7h0M254.1 176.2h0M254.9 108.7h0M254.5 145h0M252.1 107.9h0M255.4 101.5h0M254.8 117.4h0M254 182.9h0M253.5 135.2h0M256 115.3h0M258.5 115.3h0M254.4 128h0M252.4 169.2h0M254.3 88.6h0M253.8 129.9h0M253.7 115h0M254.3 125.1h0M255.7 121.4h0M255 182.8h0M259.1 140.3h0M256.4 107.3h0M259.2 52h0M256.6 185.6h0M257 143.4h0M254.2 165h0M254.3 98.9h0M253.9 100.4h0M255.7 124.6h0M254 147.5h0M257.5 129.4h0M256.6 91.4h0" stroke="#d2bb3d" stroke-width="5.2" stroke-linecap="round" fill="none" stroke-opacity="0.4"/>
<path d="M251.7 155h0M251.7 98.7h0M257.5 74.3h0M256.8 104.3h0M252.9 112.2h0M258.4 140.9h0M255.5 118.7h0M253.5 129.4h0M259.2 112.2h0M253.5 78.6h0M252.7 158.8h0M255.6 175.9h0M258.6 119.2h0M258.5 106.3h0M254.9 110.8h0M255.6 139.5h0M258.1 171.5h0M252 141.4h0M256.9 157h0M258.2 174.9h0M258.1 168.5h0M258.3 103.7h0M253.7 163.6h0M258.1 187.2h0M255.5 154.6h0M257.7 163.7h0M258.1 140.8h0M251.4 86.1h0M254.2 130.6h0M253.5 79.7h0M252.6 92.3h0M255.6 95.9h0M253.4 155.1h0M254.9 137.7h0M256 103.5h0M256.1 188.5h0M259.1 99.3h0M251.8 97h0M253.3 96.5h0M251.9 103h0M252.7 160.7h0M257.6 113h0M254.5 147.8h0M253.8 115.3h0M254.5 154.4h0M252 166.9h0M251.9 159.2h0M256.9 141h0M255.8 94.6h0M259 176.8h0M255.2 114.1h0M253 161.7h0M255.1 101.4h0M257.3 111.5h0M258.4 127.4h0M258.3 157.2h0M251.6 110.9h0M257.1 108.8h0M257.1 139.1h0M256.9 197.8h0M254.2 134.5h0M251.5 133.9h0M252 108.7h0M252.6 145.3h0M258.6 121.6h0M258 136.5h0M259.1 91.3h0M257.3 159.3h0M257.2 122.9h0M253.6 91.1h0M252.1 115.3h0M258.6 106.7h0M259.1 195.8h0M255.3 84.4h0M254 108h0M254.1 109.1h0M254.8 115.5h0M258.2 155.3h0M252.7 103.7h0M259.3 142h0M252.4 84.4h0M254.2 142.5h0M252.8 134.7h0M258.9 142.4h0M257.8 131.3h0M252.5 145.8h0M259.2 151.1h0M257.7 82.2h0M255.5 83.7h0M256.8 133.5h0M257.9 96.1h0M256.3 103h0M256.2 143.8h0M256.7 161.4h0M254.4 147.9h0M256.5 184.8h0M256.2 174.8h0M253.5 179.4h0M259 111.6h0M252.6 105.4h0M255.7 58.4h0M256.9 128.6h0M259 140.6h0M252.1 154.6h0M257.5 100.3h0M252 94.8h0M251.9 135.1h0M258.3 158.5h0M254 178.7h0M252.9 108.5h0M258 100h0M255.6 113.7h0M256.5 143h0M259.2 144.1h0M254.7 71.8h0M252.4 153.1h0M256.9 96.1h0M253.6 110.9h0M256.2 123.7h0M255.9 117.8h0M257.3 156.6h0M257.9 89.3h0M257.6 51.1h0M255.7 136.2h0M253.8 126.3h0M252.9 168h0M256.4 65.6h0M259.1 147.3h0M256.7 195.8h0M252.4 118h0M255.4 138.4h0M257 118.6h0M258.8 139.4h0M252 94.8h0M252.6 168.9h0M251.5 88.3h0M251.5 69.3h0M257.6 99.7h0M256.8 108.1h0M254.2 157.8h0M257.7 169.5h0M256.4 82.3h0M255.9 151.6h0M251.6 123.7h0M254.5 129.8h0" stroke="#d2bb3d" stroke-width="5.2" stroke-linecap="round" fill="none" stroke-opacity="0.4"/>
<path d="M255.9 155.2h0M252 150.8h0M256.7 134.2h0M254.8 97.6h0M256.8 72.8h0M252 176.7h0M255.7 171.4h0M257 118.2h0M257.5 97.2h0M255.5 83.6h0M252.4 82.5h0M255.9 100.2h0M252.7 163h0M254.8 128h0M252.7 162h0M251.4 100.8h0M258.4 116.3h0M251.9 113.5h0M254.1 120h0M258.7 117.9h0M253.7 150h0M258.3 135.6h0M253.4 109.3h0M255.5 104.1h0M251.4 70.9h0M258.7 106.2h0M256.1 106.5h0M252.5 100.1h0M254.9 144.5h0M256.5 122.9h0M254.3 97.4h0M258.9 120.1h0M253.9 82.2h0M251.7 119.3h0M256 137.6h0M251.6 92.8h0M259.1 175.1h0M258.3 143.9h0M258.8 53.9h0M254.7 147.2h0M253.6 136.9h0M259 111.3h0M251.4 111.1h0M251.6 182.1h0M251.4 150.3h0M254.5 84h0M254.3 123.5h0M252.8 105.4h0M258.4 140.8h0M257.6 51.1h0M255.9 144.3h0M252.9 142.5h0M251.5 113.3h0M255.6 94.9h0M252.8 165.1h0M257.5 131h0M256.8 98.4h0M258.9 116.4h0M251.7 123.1h0M255 86.3h0M254.3 102.2h0M258.9 119.9h0M259 139h0M256 91.6h0M256.5 163.6h0M252.2 129.6h0M253.2 124.5h0M254.9 106.3h0M258.5 140.3h0M253.7 158h0M257.9 128.6h0M256.6 148.2h0M254.6 97.2h0M252.8 133.9h0M256.4 105.4h0M251.4 95.4h0M254.8 146.3h0M256.4 80.4h0M252.7 111.7h0M257 85.1h0M256.7 67.4h0M253.1 126.5h0M251.7 94.4h0M255.5 114.8h0M252.9 79.6h0M258.8 127.2h0M259.1 144.2h0M255.3 190.6h0M257 85.3h0M254.5 157.4h0M253.4 169.6h0M256.3 152.9h0M257.8 100.8h0M252.4 146.2h0M259.1 161.9h0M258.1 140h0M258.5 125.7h0M255.4 196.6h0M254.6 105.5h0M254.4 130.9h0M256.7 106h0M252.5 153.7h0M252 61.1h0M253.5 80.9h0M256.6 92.5h0M258.1 84.1h0M251.5 97.5h0M252 129.4h0M258.2 94.4h0M256.3 183.1h0M259 125.3h0M259.2 138.1h0M256 110.6h0M251.6 83.7h0M252.3 113.9h0M254.1 129.9h0M253.7 129.1h0M251.6 130.3h0M255.5 109.1h0M254.6 130.9h0M254.4 60.9h0M258.5 94.3h0M252.4 131.4h0M256 146.9h0M256.1 129.3h0M251.5 115.8h0M254.5 143.3h0M252.9 91.1h0M256.8 140.8h0M254.2 59.6h0M253.3 123.9h0M253.9 121.3h0M252 181.1h0M252.3 147.7h0M255.4 156h0M252.9 71.9h0M258.4 131.7h0M252.6 148.4h0M252.4 56.7h0M253.4 133.2h0M254.4 104.2h0M255.9 85h0M256 138.8h0M255.5 148.3h0M258.7 133.8h0" stroke="#d2bb3d" stroke-width="5.2" stroke-linecap="round" fill="none" stroke-opacity="0.4"/>
<path d="M252.4 157.2h0M257.2 147.5h0M253.2 141.2h0M256.8 121.4h0M254.9 85.4h0M255.8 89.1h0M251.9 111.8h0M251.7 84.8h0M251.8 105.4h0M256.4 127.1h0M255.3 103.3h0M255.2 57.1h0M254.9 142.8h0M252.9 81.9h0M258.6 102.8h0M259.1 156.4h0M254.1 175.7h0M252.5 132.7h0M257.4 182.1h0M253.4 115.8h0M257.4 159.5h0M252.6 166.5h0M256.8 140.7h0M253.1 136.4h0M253.9 102.7h0M257.1 113h0M251.4 79.6h0M256.7 119.3h0M253 137.9h0M252.4 95.5h0M257.5 149.4h0M255.6 107.4h0M251.5 126.4h0M256.8 127.1h0M256.2 188.5h0M256.3 128.4h0M256.9 98.9h0M251.6 91.4h0M256.2 120.5h0M251.4 117.6h0M259.1 134.3h0M252 147.5h0M253.5 140.3h0M257.1 98.4h0M251.9 160.6h0M257.4 95.6h0M252.2 173.1h0M255.1 60.4h0M251.6 173.9h0M252.9 106.9h0M257.8 120.9h0M254.7 140.7h0M254.4 139.5h0M255.5 178h0M258.9 146h0M251.9 110.6h0M252.4 127.5h0M255.1 131.9h0M258.2 118.3h0M253.8 108.9h0M258 124.2h0M258.5 156.4h0M258.1 111.7h0M256.2 147.7h0M257.6 161.1h0M253.6 162.8h0M252.4 193.9h0M259.1 141.3h0M258 183.2h0M253.8 127.4h0M254.8 134.6h0M257.4 129.6h0M257.1 77.2h0M259.1 121.4h0M256 76.3h0M253.8 132.5h0M258.5 127h0M256.8 139.4h0M252.8 80.9h0M256.2 56.3h0M253.8 116.6h0M253.1 103.5h0M253.4 111h0M252.7 81.2h0M256.4 187.3h0M255.8 165.2h0M258 106.4h0M257.8 108h0M256.6 113.9h0M251.9 102.5h0M256.3 87.7h0M254.6 151.3h0M257.8 158.2h0M256.4 124.5h0M251.6 112.8h0M258.6 180.3h0M251.7 151.5h0M254.9 91.7h0M251.4 107.6h0M254.3 120.5h0M258.1 183h0M253.3 103.2h0M256.6 119.8h0M252.7 111.7h0M252.6 135.8h0M254.3 112.8h0M254.5 141.6h0M251.5 162h0M258.8 137.4h0M253.6 123.1h0M251.4 109.2h0M255.3 131.7h0M252.9 124.8h0M253.5 73h0M254.4 146.7h0M258.3 135.7h0M258.9 181.8h0M253.1 109.5h0M258.5 111h0M255.8 127.8h0M258.1 128.5h0M257.3 84.4h0M259 97.9h0M256.7 166.5h0M253.8 112.2h0M258.4 123.1h0M258.3 70.7h0M258.8 80.4h0M251.6 127.4h0M254.1 103.2h0M255 113h0M258.7 101.8h0M258.1 144.8h0M251.4 178.3h0M254 167.4h0M256.4 115.5h0M256.7 135.3h0M257.5 98.8h0M252.6 126.5h0M257.6 138.6h0M251.5 95.9h0M254.3 113.7h0M257.1 140.7h0M252.3 145.1h0M258.6 147.8h0" stroke="#d2bb3d" stroke-width="5.2" stroke-linecap="round" fill="none" stroke-opacity="0.4"/>
<path d="M259 108.7h0M257.3 184.4h0M253 130.5h0M251.9 117.5h0M253.2 74.8h0M254.6 129.9h0M257.8 108.7h0M258.2 163.9h0M258.3 107.7h0M253.8 108.8h0M252.7 130.2h0M251.6 81.6h0M252.7 119.2h0M258 129.3h0M254.7 109.9h0M256.6 142.7h0M254.4 107.8h0M255.3 139.9h0M257.1 148.7h0M257.7 137.2h0M253.4 68.8h0M254 160.4h0M252.4 176.2h0M254.7 86h0M255.9 103.2h0M253.1 135.8h0M256.8 69.6h0M255.7 159.1h0M258.9 159.7h0M256.5 98.1h0M252.4 119.9h0M257.2 153.7h0M252.6 115.6h0M256.9 126.9h0M253.5 118h0M254.4 99.7h0M253.5 156.8h0M255.2 108.3h0M254.1 173.6h0M257.4 141.7h0M257.8 104.2h0M258.2 184.9h0M253.6 114.8h0M255.8 166.5h0M259 120.1h0M255.5 156.6h0M259.1 108.6h0M257 144.2h0M256.4 94.4h0M252.3 112.6h0M251.3 112.5h0M256.4 152.6h0M254.1 174.4h0M254.6 91.2h0M257.9 80.3h0M253 94.5h0M258.2 176h0M255.1 169h0M258.6 105.3h0M253.4 185.5h0M252.7 142h0M255.3 183.5h0M252.7 129.1h0M255.4 136.4h0M254 129.1h0M251.6 153.3h0M256.5 84h0M255.1 104.7h0M256.5 136.1h0M252.8 124.7h0M257.7 154.2h0M253 116h0M256.9 154.3h0M251.9 95.2h0M257 111h0M254.9 163.2h0M256.1 145.8h0M254.4 112.7h0M254.9 170.9h0M259 172.9h0M258.9 104.5h0M259.1 100.7h0M251.8 170.5h0M257.5 136.5h0M256.8 66.5h0M253.3 135.4h0M255 98.6h0M255.5 157.6h0M254.4 161.9h0M257.6 134.6h0M255 102.2h0M256.5 83h0M253 138.4h0M258.7 179.7h0M256.6 113.6h0M252.5 135.9h0M256.1 126.1h0M258.6 156.1h0M253.7 118.3h0M258.5 103.6h0M257.8 131.5h0M253.8 92.1h0M256.6 103.3h0M251.7 195h0M254.3 129.7h0M251.6 147.5h0M254.7 112.6h0M254.9 92.8h0M257.5 54h0M255.6 97.1h0M258.1 109.4h0M252.3 123.7h0M259 84.3h0M255.2 111.1h0M254.4 138h0M254.2 146.7h0M251.4 150.2h0M254.4 189h0M258.5 95.1h0M258.4 114.3h0M255.6 112h0M257.4 111.9h0M258.8 108.4h0M258.9 103.1h0M259.2 60.2h0M254 117.7h0M253.9 118.5h0M254 98.7h0M252.2 198.5h0M251.8 149.2h0M253.8 147.1h0M254 153.1h0M259.1 142h0M256 136h0M253.5 127.3h0M252.4 134.9h0M258.5 127.6h0M255.8 119.5h0M256.5 103h0M253.6 84.6h0M255.5 137.8h0M255 58.3h0M256.6 104.3h0M257.5 132.4h0M258.1 181.9h0" stroke="#d2bb3d" stroke-width="5.2" stroke-linecap="round" fill="none" stroke-opacity="0.4"/>
<path d="M251.5 106.7h0M256.4 116.5h0M259.1 128.8h0M254.5 106.1h0M251.7 91.1h0M252.5 121.5h0M254.3 171.1h0M251.3 141.3h0M255 159.4h0M257.9 99h0M252.3 72.9h0M256.9 121.9h0M254.3 107h0M255.4 137.8h0M256.8 139.8h0M254.3 96.4h0M254.5 63.1h0M256.3 115.4h0M252.3 115.1h0M254.3 117.6h0M253.8 65.8h0M255.4 114.6h0M259.2 114.7h0M256.2 132.2h0M257 148.3h0M256.9 130.7h0M255.6 104.2h0M257.2 161.5h0M253.2 84.4h0M252.2 115.7h0M256.6 106.8h0M255.5 86.9h0M253.6 134h0M256.5 135.8h0M253.7 111.3h0M254.7 74.4h0M255.6 107.8h0M253 82h0M251.8 120.9h0M257 100.9h0M254.5 112.3h0M257.5 101h0M256.5 136.9h0M252.6 187h0M252 138.3h0M252.4 119.4h0M256.5 170.7h0M254.4 133.2h0M255.4 148.1h0M251.5 115h0M252.8 94.3h0M259.1 103.1h0M252.3 112.1h0M259 81.3h0M253.9 120.9h0M252.3 95.7h0M251.5 146.2h0M259.3 104h0M257.4 149.1h0M254.8 183.3h0M256.9 135.9h0M256.6 89.6h0M257.9 86.2h0M252.1 140.8h0M254.7 165.6h0M258.6 87.6h0M255.4 154.6h0M251.4 99.4h0M253.9 158.9h0M256 84.1h0M253.9 170.6h0M258.4 151.4h0M255.3 97.3h0M257 150.7h0M258.2 95.3h0M254 155.1h0M259 145.1h0M254.4 76.5h0M258.6 181.7h0M252.3 112.9h0M252.3 112.3h0M254.7 118.6h0M256.3 77.3h0M258.9 82.6h0M257.4 140.2h0M255.2 133h0M257.4 146.4h0M258 103h0M255.5 167.2h0M257.3 139.9h0M254.4 159.2h0M256.6 127.2h0M251.9 107.4h0M251.3 139.8h0M255.4 104.4h0M255.4 125.2h0M254.7 156.4h0M258.3 125.4h0M258.9 123.8h0M255.6 111.7h0M253.8 81.4h0M255.4 92h0M256.6 126.7h0M255.1 174.7h0M254.4 166.4h0M257.4 92.5h0M254.6 128.2h0M258.4 188.3h0M258.7 138.6h0M254.8 172.6h0M257.2 110.1h0M256.1 149.2h0M257.2 143.6h0M251.6 112.2h0M254.7 133.3h0M257.9 154.8h0M257.6 95.1h0M258.8 133.2h0M252.6 179.8h0M254.1 139.1h0M252.1 100h0M258.4 168.1h0M251.3 87.6h0M252 102.8h0M252.8 145.5h0M251.4 89.5h0M253.1 117.9h0M255.2 185.9h0M258.9 125.8h0M258.1 123.6h0M257.9 81.7h0M252.9 162.9h0M257 122.9h0M254.5 76.9h0M251.4 139.2h0M253.4 160.2h0M253 97.5h0M252.5 108h0M258.5 162.2h0M254.6 109.7h0M254 85.8h0M255.1 96.3h0M252 156.6h0M255.8 82.4h0M254.6 121.7h0" stroke="#d2bb3d" stroke-width="5.2" stroke-linecap="round" fill="none" stroke-opacity="0.4"/>
<path d="M253.8 89.5h0M255.2 77.8h0M258.9 133.3h0M258.1 171.5h0M256.2 138.1h0M254.5 110h0M253 132.5h0M251.7 178.5h0M259.2 120.9h0M257.3 133.9h0M256 157.5h0M255.4 75.5h0M258.5 92.3h0M254.7 84.6h0M257.3 160.2h0M257.7 110.1h0M253.5 88.8h0M259.3 125.2h0M257.7 158.6h0M251.8 142.5h0M256.5 135.9h0M251.8 124.2h0M252.2 158.2h0M255.5 142.3h0M254.7 121.2h0M255.3 148.3h0M253.2 106.8h0M254.6 117.2h0M252.3 109.3h0M255.9 176.6h0M253.9 191.2h0M252 194.3h0M255.4 110.7h0M258.1 82.6h0M258.3 112.9h0M252.8 156.6h0M252 130.3h0M251.6 137.5h0M258.1 134.9h0M252.4 174.8h0M257.7 102.5h0M251.6 118.5h0M256.9 119.2h0M255.4 158.4h0M257.6 87h0M257.7 101.6h0M253.8 108.5h0M251.8 129.6h0M254.2 106.4h0M252.7 108.5h0M256 102.1h0M255.1 145.1h0M258 96h0M254.3 149.8h0M257.7 150.4h0M255 137.2h0M252.1 121.5h0M253.8 118.2h0M257.8 122.7h0M254.4 97.8h0M255.5 127.4h0M252 115h0M257.8 130.7h0M257.7 117.7h0M253.3 154.3h0M251.8 111.4h0M256.1 123.4h0M258.6 112h0M255.3 90.7h0M252 167h0M254.1 95.8h0M255.6 172.3h0M255.1 112h0M256.6 117.5h0M251.5 101.4h0M254.3 122.6h0M251.3 81.1h0M252.6 112.7h0M256 165.9h0M257.6 151.2h0M257.8 180.1h0M256.3 107h0M255.9 101.2h0M251.8 150.8h0M251.7 157.1h0M251.7 99.2h0M253.3 180.7h0M257 180.1h0M259.1 143.2h0M254.4 147.2h0M254.6 131.6h0M257.3 143.1h0M257.4 106h0M258.8 176.9h0M258.4 170.4h0M259.2 146.5h0M252.2 81.8h0M254.8 157.3h0M253.8 126.7h0M258.7 102.4h0M257.2 131.6h0M258.5 134.7h0M257.1 93.8h0M252.9 122.2h0M254.9 92.8h0M253.3 121.1h0M256.1 129.4h0M254.4 77.3h0M253.3 80.7h0M257.1 94.4h0M251.9 99.3h0M254.9 130.6h0M256.6 137h0M253.8 79.7h0M253.8 122.6h0M256.8 102.8h0M252.7 89.9h0M259 92.1h0M256.4 100.4h0M254.8 146.4h0M254.2 160.7h0M258.6 137h0M256.4 191.7h0M253.2 118.9h0M254.5 89.5h0M256.2 108.3h0M252.8 119.8h0M259 121h0M257.1 121.3h0M258.3 158.2h0M252.6 185.8h0M251.8 125.8h0M252.4 79.9h0M252 144.6h0M255.9 172.4h0M255.3 117.3h0M255.3 170.2h0M252.4 91.4h0M256.7 95.3h0M255.1 165.2h0M253.4 149h0M258.6 114h0M254.4 131.9h0M251.8 103.1h0" stroke="#d2bb3d" stroke-width="5.2" stroke-linecap="round" fill="none" stroke-opacity="0.4"/>
<g fill="#5b8fd0" fill-opacity="0.4"><circle cx="133.5" cy="24.5" r="2.6"/><circle cx="135" cy="32" r="2.4"/><circle cx="131" cy="52" r="2.4"/><circle cx="134.5" cy="57" r="2.4"/><circle cx="130.6" cy="63" r="2.4"/></g>
<g fill="#d2bb3d" fill-opacity="0.5"><circle cx="256" cy="216.5" r="2.4"/><circle cx="254.5" cy="43" r="2.4"/><circle cx="259.5" cy="196" r="2.4"/></g>
<path d="M68.5 97.4 L64.9 110 L61.4 121.7 L60 130 L58.8 138.6 L56.7 149.1 L56.2 155.5 L57.2 161.8 L59.7 165.5 L62.5 169.2 L64.7 172 L67 175 L77.4 175 L79.7 172 L81.9 169.2 L84.7 165.5 L87.2 161.8 L88.2 155.5 L87.7 149.1 L85.6 138.6 L84.4 130 L83 121.7 L79.5 110 L75.9 97.4 Z" fill="#fff" fill-opacity="0.12" stroke="#3a3a3a" stroke-width="0.85" stroke-linejoin="round"/>
<line x1="72.2" y1="97.4" x2="72.2" y2="133.5" stroke="#3a3a3a" stroke-width="0.85"/>
<line x1="72.2" y1="157" x2="72.2" y2="175" stroke="#3a3a3a" stroke-width="0.85"/>
<rect x="63.2" y="133.5" width="18" height="23.5" fill="#fff" fill-opacity="0.35" stroke="#3a3a3a" stroke-width="0.85"/>
<line x1="63.2" y1="143.9" x2="81.2" y2="143.9" stroke="#3a3a3a" stroke-width="1.5"/>
<path d="M133.1 24 L132.7 45 L132.1 55 L130.9 65 L129.3 75 L128.1 85 L127.5 95 L127.5 105 L127.2 110.4 L125.5 115.7 L122.3 120.9 L120.8 126 L119.7 136.6 L119 144.9 L119.5 152 L121.3 160.6 L123.4 167.2 L126.8 177 L128.9 185 L130.5 192 L131.5 197.5 L132.5 203 L133.2 207 L133.4 207 L134.1 203 L135.1 197.5 L136.1 192 L137.7 185 L139.8 177 L143.2 167.2 L145.3 160.6 L147.1 152 L147.6 144.9 L146.9 136.6 L145.8 126 L144.3 120.9 L141.1 115.7 L139.4 110.4 L139.1 105 L139.1 95 L138.5 85 L137.3 75 L135.7 65 L134.5 55 L133.9 45 L133.5 24 Z" fill="#fff" fill-opacity="0.12" stroke="#3a3a3a" stroke-width="0.85" stroke-linejoin="round"/>
<line x1="133.3" y1="24" x2="133.3" y2="125.4" stroke="#3a3a3a" stroke-width="0.85"/>
<line x1="133.3" y1="160" x2="133.3" y2="207" stroke="#3a3a3a" stroke-width="0.85"/>
<rect x="124.2" y="125.4" width="18.3" height="34.6" fill="#fff" fill-opacity="0.35" stroke="#3a3a3a" stroke-width="0.85"/>
<line x1="124.2" y1="143.4" x2="142.5" y2="143.4" stroke="#3a3a3a" stroke-width="1.5"/>
<path d="M192.4 46.2 L192.3 63.3 L191.8 70 L190.9 78.9 L189.8 86 L188.5 94.4 L186.5 106.9 L184.8 117 L183.1 127 L181.9 134 L181.1 141 L181.3 148.9 L182.7 154 L184.7 158.2 L187.1 163 L190.1 169 L198.5 169 L201.5 163 L203.9 158.2 L205.9 154 L207.3 148.9 L207.5 141 L206.7 134 L205.5 127 L203.8 117 L202.1 106.9 L200.1 94.4 L198.8 86 L197.7 78.9 L196.8 70 L196.3 63.3 L196.2 46.2 Z" fill="#fff" fill-opacity="0.12" stroke="#3a3a3a" stroke-width="0.85" stroke-linejoin="round"/>
<line x1="194.3" y1="46.2" x2="194.3" y2="132.5" stroke="#3a3a3a" stroke-width="0.85"/>
<line x1="194.3" y1="149.6" x2="194.3" y2="169" stroke="#3a3a3a" stroke-width="0.85"/>
<rect x="185.3" y="132.5" width="17.8" height="17.1" fill="#fff" fill-opacity="0.35" stroke="#3a3a3a" stroke-width="0.85"/>
<line x1="185.3" y1="132.9" x2="203.1" y2="132.9" stroke="#3a3a3a" stroke-width="1.5"/>
<path d="M255.1 42.5 L254.5 56 L253.7 64 L252.7 71.3 L250.5 79 L248.2 87 L246.5 95 L245.1 102.7 L244 110 L243.2 118 L242.9 124 L243.5 132 L245 142.4 L246.7 150 L248.3 155.8 L250.5 167.5 L252.6 179.2 L254 190.8 L254.9 202.5 L255.2 216.5 L255.4 216.5 L255.7 202.5 L256.6 190.8 L258 179.2 L260.1 167.5 L262.3 155.8 L263.9 150 L265.6 142.4 L267.1 132 L267.7 124 L267.4 118 L266.6 110 L265.5 102.7 L264.1 95 L262.4 87 L260.1 79 L257.9 71.3 L256.9 64 L256.1 56 L255.5 42.5 Z" fill="#fff" fill-opacity="0.12" stroke="#3a3a3a" stroke-width="0.85" stroke-linejoin="round"/>
<line x1="255.3" y1="42.5" x2="255.3" y2="119" stroke="#3a3a3a" stroke-width="0.85"/>
<line x1="255.3" y1="142.4" x2="255.3" y2="216.5" stroke="#3a3a3a" stroke-width="0.85"/>
<rect x="246.3" y="119" width="18.4" height="23.4" fill="#fff" fill-opacity="0.35" stroke="#3a3a3a" stroke-width="0.85"/>
<line x1="246.3" y1="123.4" x2="264.7" y2="123.4" stroke="#3a3a3a" stroke-width="1.5"/>
<circle cx="72.2" cy="141" r="4.6" fill="#8b0a0a"/>
<circle cx="133.4" cy="141.6" r="4.6" fill="#8b0a0a"/>
<circle cx="194.3" cy="127" r="4.6" fill="#8b0a0a"/>
<circle cx="255.3" cy="123.8" r="4.6" fill="#8b0a0a"/>
<rect x="58.3" y="122.9" width="52.6" height="14.3" rx="2" fill="#fff" stroke="#8f8f8f" stroke-width="0.75"/>
<text font-size="8.3" fill="#111"><tspan x="61.1" y="132.8" font-size="8.8">μ</tspan><tspan x="66.6" y="134.5" font-size="7" textLength="15.4" lengthAdjust="spacingAndGlyphs">mean</tspan><tspan x="84.1" y="132.8">= 4.29</tspan></text>
<text transform="translate(61 129.2) scale(1.2 0.55)" font-size="10" fill="#111">^</text>
<rect x="94.5" y="145.7" width="52" height="14.5" rx="2" fill="#fff" stroke="#8f8f8f" stroke-width="0.75"/>
<text font-size="8.3" fill="#111"><tspan x="97.3" y="155.6" font-size="8.8">μ</tspan><tspan x="102.8" y="157.3" font-size="7" textLength="15.4" lengthAdjust="spacingAndGlyphs">mean</tspan><tspan x="120.3" y="155.6">= 4.27</tspan></text>
<text transform="translate(97.2 152) scale(1.2 0.55)" font-size="10" fill="#111">^</text>
<rect x="178.9" y="108.3" width="52.5" height="14.4" rx="2" fill="#fff" stroke="#8f8f8f" stroke-width="0.75"/>
<text font-size="8.3" fill="#111"><tspan x="181.7" y="118.2" font-size="8.8">μ</tspan><tspan x="187.2" y="119.9" font-size="7" textLength="15.4" lengthAdjust="spacingAndGlyphs">mean</tspan><tspan x="204.7" y="118.2">= 4.74</tspan></text>
<text transform="translate(181.6 114.6) scale(1.2 0.55)" font-size="10" fill="#111">^</text>
<rect x="236.8" y="104.9" width="52.7" height="14.7" rx="2" fill="#fff" stroke="#8f8f8f" stroke-width="0.75"/>
<text font-size="8.3" fill="#111"><tspan x="239.6" y="114.8" font-size="8.8">μ</tspan><tspan x="245.1" y="116.5" font-size="7" textLength="15.4" lengthAdjust="spacingAndGlyphs">mean</tspan><tspan x="262.6" y="114.8">= 4.83</tspan></text>
<text transform="translate(239.5 111.2) scale(1.2 0.55)" font-size="10" fill="#111">^</text>
<path d="M133.3 13.8V8.75H255.3V13.8" fill="none" stroke="#000" stroke-width="1.5"/>
<path d="M72.2 20.6V17.75H255.3" fill="none" stroke="#000" stroke-width="1.5"/>
<text x="194.3" y="9.6" font-size="14.5" text-anchor="middle" font-weight="bold">***</text>
<text x="164.6" y="19.6" font-size="14.5" text-anchor="middle" font-weight="bold">**</text>
</g>
<g id="panelB">
<text x="313.6" y="13.1" font-size="13.8" font-weight="bold" stroke="#000" stroke-width="0.45">B</text>
<g shape-rendering="crispEdges">
<rect x="371.7" y="35.8" width="31.2" height="30.5" fill="#e4bcb9"/>
<rect x="402.6" y="35.8" width="31.2" height="30.5" fill="#f6e6e4"/>
<rect x="433.6" y="35.8" width="31.2" height="30.5" fill="#b85d5c"/>
<rect x="464.5" y="35.8" width="31.2" height="30.5" fill="#fbfbfd"/>
<rect x="495.5" y="35.8" width="31.2" height="30.5" fill="#f6f6fa"/>
<rect x="526.5" y="35.8" width="31.2" height="30.5" fill="#fefcfb"/>
<rect x="371.7" y="65.9" width="31.2" height="30.5" fill="#e4bcb9"/>
<rect x="402.6" y="65.9" width="31.2" height="30.5" fill="#f0d9d6"/>
<rect x="433.6" y="65.9" width="31.2" height="30.5" fill="#cc8684"/>
<rect x="464.5" y="65.9" width="31.2" height="30.5" fill="#f1f1f8"/>
<rect x="495.5" y="65.9" width="31.2" height="30.5" fill="#e8e8f3"/>
<rect x="526.5" y="65.9" width="31.2" height="30.5" fill="#fcf4f2"/>
<rect x="371.7" y="96.1" width="31.2" height="30.5" fill="#f8ebe9"/>
<rect x="402.6" y="96.1" width="31.2" height="30.5" fill="#fdf9f8"/>
<rect x="433.6" y="96.1" width="31.2" height="30.5" fill="#d39794"/>
<rect x="464.5" y="96.1" width="31.2" height="30.5" fill="#ebc9c6"/>
<rect x="495.5" y="96.1" width="31.2" height="30.5" fill="#dfaba8"/>
<rect x="526.5" y="96.1" width="31.2" height="30.5" fill="#f4f4fa"/>
<rect x="371.7" y="126.3" width="31.2" height="30.5" fill="#c06d6b"/>
<rect x="402.6" y="126.3" width="31.2" height="30.5" fill="#cf8b88"/>
<rect x="433.6" y="126.3" width="31.2" height="30.5" fill="#a12333"/>
<rect x="464.5" y="126.3" width="31.2" height="30.5" fill="#e4b7b4"/>
<rect x="495.5" y="126.3" width="31.2" height="30.5" fill="#cc8582"/>
<rect x="526.5" y="126.3" width="31.2" height="30.5" fill="#f5f5fa"/>
<rect x="371.7" y="156.4" width="31.2" height="30.5" fill="#d69c99"/>
<rect x="402.6" y="156.4" width="31.2" height="30.5" fill="#e0b1ad"/>
<rect x="433.6" y="156.4" width="31.2" height="30.5" fill="#b85d5c"/>
<rect x="464.5" y="156.4" width="31.2" height="30.5" fill="#e3b5b2"/>
<rect x="495.5" y="156.4" width="31.2" height="30.5" fill="#daa3a0"/>
<rect x="526.5" y="156.4" width="31.2" height="30.5" fill="#f8e9e7"/>
<rect x="371.7" y="186.6" width="31.2" height="30.5" fill="#e6e6f2"/>
<rect x="402.6" y="186.6" width="31.2" height="30.5" fill="#fcf0ee"/>
<rect x="433.6" y="186.6" width="31.2" height="30.5" fill="#8b8cc0"/>
<rect x="464.5" y="186.6" width="31.2" height="30.5" fill="#8b8cc0"/>
<rect x="495.5" y="186.6" width="31.2" height="30.5" fill="#8788bd"/>
<rect x="526.5" y="186.6" width="31.2" height="30.5" fill="#9091c3"/>
</g>
<text x="449.1" y="58.1" font-size="14.5" text-anchor="middle" font-weight="bold">**</text>
<text x="449.1" y="88.3" font-size="14.5" text-anchor="middle" font-weight="bold">*</text>
<text x="511" y="118.5" font-size="14.5" text-anchor="middle" font-weight="bold">*</text>
<text x="387.2" y="148.6" font-size="14.5" text-anchor="middle" font-weight="bold">***</text>
<text x="418.1" y="148.6" font-size="14.5" text-anchor="middle" font-weight="bold">**</text>
<text x="449.1" y="148.6" font-size="14.5" text-anchor="middle" font-weight="bold">***</text>
<text x="480" y="148.6" font-size="14.5" text-anchor="middle" font-weight="bold">*</text>
<text x="511" y="148.6" font-size="14.5" text-anchor="middle" font-weight="bold">**</text>
<text x="387.2" y="178.8" font-size="14.5" text-anchor="middle" font-weight="bold">**</text>
<text x="449.1" y="178.8" font-size="14.5" text-anchor="middle" font-weight="bold">**</text>
<text x="480" y="178.8" font-size="14.5" text-anchor="middle" font-weight="bold">*</text>
<text x="511" y="178.8" font-size="14.5" text-anchor="middle" font-weight="bold">*</text>
<text x="480" y="209" font-size="14.5" text-anchor="middle" font-weight="bold">***</text>
<text x="511" y="209" font-size="14.5" text-anchor="middle" font-weight="bold">**</text>
<rect x="369.3" y="13.2" width="190.6" height="18.8" fill="#fff" stroke="#000" stroke-width="1.2"/>
<text x="464.8" y="26.3" font-size="10.5" fill="#1a1a1a" text-anchor="middle">FAM20C</text>
<path d="M369.3 32V219.3H559.9" fill="none" stroke="#000" stroke-width="1.2"/>
<line x1="365.8" y1="50.8" x2="369.3" y2="50.8" stroke="#222" stroke-width="1.1"/>
<text x="362.6" y="54.6" font-size="10.3" fill="#454545" text-anchor="end">Weight</text>
<line x1="365.8" y1="81" x2="369.3" y2="81" stroke="#222" stroke-width="1.1"/>
<text x="362.6" y="84.8" font-size="10.3" fill="#454545" text-anchor="end">BMI</text>
<line x1="365.8" y1="111.2" x2="369.3" y2="111.2" stroke="#222" stroke-width="1.1"/>
<text x="362.6" y="115" font-size="10.3" fill="#454545" text-anchor="end">Body fat</text>
<line x1="365.8" y1="141.3" x2="369.3" y2="141.3" stroke="#222" stroke-width="1.1"/>
<text x="362.6" y="145.1" font-size="10.3" fill="#454545" text-anchor="end">FPI</text>
<line x1="365.8" y1="171.5" x2="369.3" y2="171.5" stroke="#222" stroke-width="1.1"/>
<text x="362.6" y="175.3" font-size="10.3" fill="#454545" text-anchor="end">HOMA−IR</text>
<line x1="365.8" y1="201.7" x2="369.3" y2="201.7" stroke="#222" stroke-width="1.1"/>
<text x="362.6" y="205.5" font-size="10.3" fill="#454545" text-anchor="end">HbA1c</text>
<line x1="387.2" y1="219.3" x2="387.2" y2="223" stroke="#222" stroke-width="1.1"/>
<text x="392.4" y="230.2" font-size="10.3" fill="#454545" text-anchor="end" transform="rotate(-45 392.4 230.2)">SC</text>
<line x1="418.1" y1="219.3" x2="418.1" y2="223" stroke="#222" stroke-width="1.1"/>
<text x="423.3" y="230.2" font-size="10.3" fill="#454545" text-anchor="end" transform="rotate(-45 423.3 230.2)">SC F</text>
<line x1="449.1" y1="219.3" x2="449.1" y2="223" stroke="#222" stroke-width="1.1"/>
<text x="454.3" y="230.2" font-size="10.3" fill="#454545" text-anchor="end" transform="rotate(-45 454.3 230.2)">SC M</text>
<line x1="480" y1="219.3" x2="480" y2="223" stroke="#222" stroke-width="1.1"/>
<text x="485.2" y="230.2" font-size="10.3" fill="#454545" text-anchor="end" transform="rotate(-45 485.2 230.2)">VIS</text>
<line x1="511" y1="219.3" x2="511" y2="223" stroke="#222" stroke-width="1.1"/>
<text x="516.2" y="230.2" font-size="10.3" fill="#454545" text-anchor="end" transform="rotate(-45 516.2 230.2)">VIS F</text>
<line x1="541.9" y1="219.3" x2="541.9" y2="223" stroke="#222" stroke-width="1.1"/>
<text x="547.1" y="230.2" font-size="10.3" fill="#454545" text-anchor="end" transform="rotate(-45 547.1 230.2)">VIS M</text>
<defs><linearGradient id="lg" x1="0" y1="0" x2="0" y2="1"><stop offset="0" stop-color="#a02434"/><stop offset="0.16" stop-color="#bb6162"/><stop offset="0.32" stop-color="#d19391"/><stop offset="0.48" stop-color="#e8c6c3"/><stop offset="0.641" stop-color="#ffffff"/><stop offset="0.76" stop-color="#d8d8ea"/><stop offset="0.88" stop-color="#b1b2d4"/><stop offset="1" stop-color="#8b8cc0"/></linearGradient></defs>
<rect x="579.7" y="85" width="20.6" height="101.8" fill="url(#lg)"/>
<text x="591.4" y="75.3" font-size="13.5" fill="#111" text-anchor="middle" font-family='"Liberation Serif", serif'>ρ</text>
<line x1="579.7" y1="92.5" x2="583.8" y2="92.5" stroke="#fff" stroke-width="0.6" stroke-opacity="0.8"/>
<line x1="596.2" y1="92.5" x2="600.3" y2="92.5" stroke="#fff" stroke-width="0.6" stroke-opacity="0.8"/>
<text x="606.8" y="96.3" font-size="10.5" fill="#111">0.15</text>
<line x1="579.7" y1="111.6" x2="583.8" y2="111.6" stroke="#fff" stroke-width="0.6" stroke-opacity="0.8"/>
<line x1="596.2" y1="111.6" x2="600.3" y2="111.6" stroke="#fff" stroke-width="0.6" stroke-opacity="0.8"/>
<text x="606.8" y="115.4" font-size="10.5" fill="#111">0.10</text>
<line x1="579.7" y1="130.6" x2="583.8" y2="130.6" stroke="#fff" stroke-width="0.6" stroke-opacity="0.8"/>
<line x1="596.2" y1="130.6" x2="600.3" y2="130.6" stroke="#fff" stroke-width="0.6" stroke-opacity="0.8"/>
<text x="606.8" y="134.4" font-size="10.5" fill="#111">0.05</text>
<line x1="579.7" y1="149.7" x2="583.8" y2="149.7" stroke="#fff" stroke-width="0.6" stroke-opacity="0.8"/>
<line x1="596.2" y1="149.7" x2="600.3" y2="149.7" stroke="#fff" stroke-width="0.6" stroke-opacity="0.8"/>
<text x="606.8" y="153.5" font-size="10.5" fill="#111">0.00</text>
<line x1="579.7" y1="168.7" x2="583.8" y2="168.7" stroke="#fff" stroke-width="0.6" stroke-opacity="0.8"/>
<line x1="596.2" y1="168.7" x2="600.3" y2="168.7" stroke="#fff" stroke-width="0.6" stroke-opacity="0.8"/>
<text x="606.8" y="172.5" font-size="10.5" fill="#111">−0.05</text>
</g>
<g id="panelC">
<text x="0.9" y="279.4" font-size="13.8" font-weight="bold" stroke="#000" stroke-width="0.45">C</text>
<path d="M54.8 360.2h0M124.5 347.6h0M151.5 379.4h0M109.7 383.2h0M160.8 350.8h0M144.6 344.9h0M100.7 365.6h0M104 355.8h0M90.1 374.5h0M122.4 372.3h0M125.5 363.3h0M131.4 370.5h0M90.5 387.1h0M98.9 396h0M86.9 364.8h0M83.7 383h0M88.4 368.8h0M63.9 347.4h0M107 402.2h0M125.7 378.8h0M131.9 372.1h0M112.2 375.6h0M100.5 368.9h0M112.4 355.2h0M122.8 395.3h0M103.5 392.9h0M113.5 374.1h0M107.1 384.7h0M103.1 389.6h0M113.2 367.5h0M92.5 380.3h0M144.9 359.6h0M84.5 381.8h0M120.8 366.1h0M88.1 407.3h0M159 357.7h0M139.3 380.8h0M87.6 383.3h0M98.7 362.7h0M77.8 395.7h0M111.5 369.3h0M125.2 358.8h0M88 361.4h0M150.6 396.8h0M102.1 380.2h0M117.4 384.2h0M128.2 349.8h0M122.2 373.6h0M120.1 358.8h0M106.5 372.6h0M112.2 401.5h0M115.2 373.9h0M134 366.3h0M86.2 388.5h0M97.4 396.1h0M90.2 398.7h0M82.9 326.1h0M98.2 376.2h0M146.2 357.2h0M154.1 369.8h0M91.3 355.2h0M114.8 314.5h0M92.2 358.9h0M126.2 362.5h0M151.5 413.3h0M123 359.2h0M139.2 339.1h0M109.9 342.1h0M77.3 367.9h0M77.1 369.5h0M110.7 372.7h0M122.8 348.8h0M151.5 348.3h0M101.8 314.6h0M113.8 372.7h0M117.1 347.4h0M131.5 329.4h0M110.3 398.9h0M92.9 379.1h0M145.7 376.3h0M125.1 377.7h0M119.3 355h0M89.8 387.6h0M112.3 344h0M59.8 421.2h0M51 380.1h0M108.3 344.1h0M99.1 392.5h0M122.6 398.1h0M156.7 360.5h0M111.4 396.5h0M144.4 365h0M102 362.1h0M126.1 332.2h0M73.6 403.5h0M114.8 363.8h0M106.8 376.3h0M108.8 354.3h0M123 356.5h0M78.8 389h0M114.6 364.7h0M98 365.7h0M114.6 352.1h0M119.5 373h0M105.9 382.2h0M105.8 364.3h0M91.9 369.2h0M122.3 352.1h0M100.5 391.6h0M120.4 360.9h0M68.8 369.4h0M154.4 408.8h0M81.2 366.7h0M133.1 346.5h0M98.8 348.1h0M129.2 360h0M108.1 414.7h0M133.3 374.1h0M112.6 367.2h0M135.2 380.8h0M124.5 388.5h0M124.7 358.6h0M142.3 389.1h0M100.1 383.9h0M152.3 378.4h0M114.7 311.2h0M67.2 378.4h0M121 390.1h0M106.2 363.9h0M164.2 423.9h0M103.7 372.3h0M113.4 355.8h0M116.7 378.9h0M78.5 377.3h0M121.6 382h0M94.8 368.7h0M155.6 399.6h0M163.5 352.7h0M112.3 372.5h0M64 342.8h0M115.7 358.8h0M117.9 375h0M125.3 360.1h0M107.2 364.5h0M91.3 369.2h0M110 374.5h0M96 383h0M166.7 385.6h0M99.9 386.5h0M92.5 377h0M111.7 362.8h0M74.5 333.6h0M104.6 366.2h0M108.4 350.8h0M103.8 344.8h0M108 395h0M134.6 342.2h0M120.2 375.3h0M88.6 380.5h0M99.4 365.5h0M125.8 407.4h0M92.6 372.4h0M114 359.4h0M111.6 414.6h0M121.9 358.3h0M109.3 350h0M110 356.2h0M97.2 362.4h0M118.9 370.9h0M84.1 381h0M143.4 346.2h0M112.1 375.8h0M108.5 403.6h0M136.6 350.8h0M111 368.9h0M114.1 380.7h0M110.9 400.8h0M99.6 361.9h0M96.1 357.8h0M100 356.8h0M147.1 395.4h0M101.3 384.7h0M100.1 317h0M104.5 340h0M124.9 351.7h0M173.1 328.3h0M96 377.9h0M122.3 373.2h0M116.1 419.4h0M107.1 382.7h0M127.9 372.4h0M89.9 389.6h0M137.9 346.2h0M116.4 349.9h0M94.7 372.5h0M161.2 390.5h0M127.7 345.9h0M133.2 382.3h0M86.6 385.2h0M107.7 363.7h0M103.2 373.8h0M131.6 362.2h0M136.6 370.1h0M54.3 395h0M112.9 358.9h0M110.3 386.1h0M130.3 382.1h0M111.8 384h0M89.9 343.5h0M109 343.6h0M94.1 382.2h0M98.7 363.1h0M113.8 353h0M97.8 352.3h0M121 336.1h0M66.2 366.6h0M134.9 359.4h0M125.3 376.8h0M89.5 355h0M74.1 390h0M86.1 316.4h0M108.4 407.7h0M135.7 377.5h0M103.2 384.7h0M149.4 367.6h0M149.8 386.4h0M113 367.7h0M134.1 343.2h0M122.6 378.4h0M100.9 388.3h0M91.6 364.1h0M110.3 345.9h0M130.2 360.5h0M71.1 381.7h0M63.3 381.6h0M129.3 397.1h0M64.2 382.4h0M144.9 375.7h0M104.7 341.8h0M134.9 425h0M145.6 369h0M86.7 385.2h0M93.8 367h0M152.4 365.5h0M103.8 372.6h0M108.6 410.5h0M119.4 408.2h0M144.7 383.7h0M152.9 417.6h0M115.9 360.3h0M106.5 378.8h0M111.4 359.1h0M121.8 402.5h0M135.8 369.6h0M114.9 384.9h0M168 410h0M86.3 320.1h0M122 402h0M166.1 374.7h0M135.4 364.4h0M118.4 342.1h0M96.8 367.5h0M99.8 337.8h0M109.7 372.3h0M118 367.9h0M108.1 398h0M86.6 367.9h0M99.4 387.6h0M121.7 387.3h0M138 421h0M69.8 367.5h0M101.4 390.8h0M61.4 336h0M95.3 343.9h0M175.5 362.2h0M114.4 370h0M106.4 353.3h0M102 365.5h0M75.6 391.2h0M79.5 366.5h0M111.8 368.6h0M107.6 358.1h0M157.6 402.5h0M83.4 399.3h0M120.2 373.3h0M153.4 364.9h0M77.7 398h0M132.6 381.5h0M63.4 357.4h0M128.4 335.4h0M138.7 360.3h0M112.4 403.4h0M117.6 361.8h0M100.2 414.5h0M117.6 370.5h0M132.6 366.2h0M106.9 404.9h0M108.2 364.9h0M124.4 379.6h0M127.1 354.5h0M62.6 342.9h0M113.6 359.9h0M91.6 378.1h0M127.7 352.9h0M144.1 318.7h0M122 382.3h0M135.5 366.8h0M94.9 368.1h0M100 356.2h0M94.9 338.9h0M113.6 394.4h0M114.2 363.7h0M109 379h0M90.9 393.1h0M111.1 387.8h0M104.7 374.5h0M131 369.8h0M104.3 379.3h0M148 391.4h0M119.6 385.1h0M55.8 363.7h0M109.4 377.9h0M68.9 383.7h0M129.7 380h0M138 372.1h0M112 391.3h0M120.4 373.4h0M86.8 386h0M43.9 377.1h0M102.6 363.2h0M104.7 347.5h0M85.6 370.6h0M115.3 384.4h0M122.1 402.5h0M132.2 367.2h0M140.1 361.3h0M126.9 362.4h0M106 390.6h0M114.4 372.4h0M123.2 362.8h0M80.6 392.1h0M153.1 334.4h0M128.6 371.5h0M108.5 370.6h0M101.2 369.8h0M127.5 384.4h0M129.3 394.7h0M144.6 349h0M130 371.5h0M116.3 380.3h0M125.1 403.5h0M96.3 366h0M125.3 356h0M65.6 374.3h0M120.1 400.2h0M122.5 371.3h0M65 381.2h0M171.3 411.8h0M92.1 340.9h0M131.2 337.6h0M96.6 395.2h0M122.2 390h0M100.9 351.3h0M157 375.4h0M144.3 369.7h0M144.9 371.8h0M126.6 358.1h0M125.1 363.4h0M115.4 357.8h0M108.5 372h0M131.5 363.7h0M117.9 413.3h0M110.1 380.5h0M88.3 349.5h0M103.7 382.2h0M123.6 391.4h0M98.7 379.2h0M123.7 397.8h0M108.7 370.4h0M94.5 382.7h0M96.8 358.3h0M90.5 392.6h0M107.7 351h0M108.2 390.4h0M132.8 347.1h0M93.5 341.1h0M76.5 381.5h0M125.1 367.5h0M99.3 374.9h0M109.6 382.1h0M139 356h0M123.4 373.3h0M129.8 374.9h0M115.1 378.1h0M142.6 419.2h0M102.1 360.9h0M100.3 372.9h0M99 386.2h0M161.7 356h0M161 337h0M102.2 363.4h0M133.7 385.2h0M108.5 364.4h0M146.3 384.1h0M103.7 353h0M130.1 376.3h0M111.1 361.1h0M107.9 358.9h0M112.7 372.7h0M115.9 371.5h0M95.7 409.7h0M71.6 332.7h0M143.3 376.3h0M106.1 395.3h0M80.7 393.5h0M44 366.3h0M63.1 364.5h0M94.8 359.7h0M137.4 373.6h0M63.5 379.4h0M107.4 376.5h0M80.3 382.2h0M132.8 353.7h0M119.7 353.8h0M123.5 339h0M137.3 349.3h0M142.5 367.3h0M145.2 376.5h0M89.5 380.6h0M81.6 373.7h0M59.9 410.9h0M145.4 357.7h0M109.8 376.2h0M117.6 395.4h0M116.7 382.3h0M149.3 374.3h0M103.1 366.5h0M150 336.7h0M123 366.3h0M110.5 362.3h0M78.9 383.7h0M141.9 365.4h0M90.9 386.8h0M105 347.7h0M117.3 385.1h0M114.9 358.2h0M133.3 346.4h0M101.2 351.5h0M118.8 354.6h0M118.2 387.2h0M113.7 381.5h0M134.6 339.6h0M108.7 372.6h0M134.8 367.8h0M100.5 348.7h0M87.5 358.2h0M112.5 319.3h0M150 346.2h0M104 332.4h0M102 360h0M107 357.6h0M118.8 350.3h0M108.4 350.4h0M118.8 387.6h0M82.5 368h0M140.1 372.5h0M123.7 381.3h0M87.3 395.7h0M137.8 379.2h0M121.3 362.2h0M139.6 352.8h0M77.6 353.8h0M164.7 355.2h0M114.1 371h0M76.4 372.4h0M126.7 386.2h0M107.8 369.8h0M95.1 398.8h0M107.2 397.5h0M78.5 366.4h0M131.7 391.4h0M109.4 328.8h0M108.4 391.6h0M138.6 375.2h0M113.9 376.8h0M101.4 346.9h0M96.2 409.4h0M112.2 367.3h0M132.3 367.4h0M95.9 400.7h0M94.7 369.4h0M142.1 347.3h0M114.3 380.6h0M113 345.3h0M150.6 379.2h0M91.5 374.6h0M116.8 387.3h0M81.4 355.4h0M107.9 389.7h0M123.8 374.5h0M133.4 398.6h0M90.5 363h0M139.4 416.1h0M137.8 387h0M111 382.8h0M113.2 379.2h0M86.7 389.9h0M126.8 348.9h0M79.9 356.3h0M141.2 357.5h0M144.1 405.7h0M106.1 373.8h0M132.6 393.2h0M130.2 377h0M173.2 369.5h0M94.8 377.9h0M90.1 366.6h0M51.2 406.4h0M107.9 373.9h0M85.1 376.3h0M110.1 350.7h0M120.6 375h0M105.3 361.6h0M96.3 364.8h0M150.4 394.5h0M109.6 355.1h0M117.4 367.7h0M130.3 379h0M89.9 389.6h0M96.7 364.5h0M110.4 375.4h0M94.6 355.7h0M108.7 339.7h0M96.1 323.4h0M91.2 381.4h0M101.2 374.4h0M112.9 351.2h0M113.3 354.7h0M122.8 364.3h0M82.2 367.9h0M86.4 372.5h0M127.3 402.5h0M105.3 360h0M151.1 371.8h0M118.7 359.2h0M70.4 358.2h0M130.2 347.4h0M95.1 368.9h0M117.9 362.4h0M151.5 377h0M112 357.9h0M125.7 398.3h0M118.6 353.3h0M127.4 375.1h0M67.6 406.3h0M106.3 360.9h0M118.4 390.1h0M121.6 391.3h0M90.6 381.2h0M139.1 322.3h0M147.6 404.4h0M114.5 372.2h0M106.8 357.6h0M106.8 390.2h0M115.7 360.1h0M134.3 385.1h0M159.7 353.6h0M104.8 379.5h0M96.6 356.3h0M89.4 362.6h0M143.9 345.5h0M120.5 352.4h0M122.9 374.9h0M121.8 367.8h0M119.9 373.2h0M111 390h0M81.8 370.3h0M102.2 344.3h0M115.4 366.5h0M120.2 371.6h0M106.6 386.4h0M101 398h0M155.7 391.9h0M99.5 366.2h0M117.2 380.2h0M107.5 350.1h0M87.4 405.5h0M86.2 379.4h0M103.6 379.1h0M88.6 363.1h0M128.3 370.7h0M92.8 362.6h0M105.9 379.8h0M133.8 335.8h0M111.2 385.4h0M122 378.3h0M128.1 399.7h0M83.7 372.5h0M105.9 370.1h0M96.1 375h0M137.2 369.7h0M111.1 369.5h0M128.9 341.9h0M143.4 352.4h0M106.9 363.1h0M114.5 366.6h0M120.5 352.9h0M108.5 354.2h0M152 360.9h0M127.7 380.8h0M144.3 363.8h0M114.1 380.9h0M103.3 396.3h0M106.9 382.7h0M102.6 361.1h0M63.7 364.3h0M119.6 343h0M138.5 351.8h0M113 377.9h0M104.4 355.6h0M114.8 405.1h0M117.2 391.8h0M123.7 360.8h0M168.4 390.2h0M98 351.2h0M119.6 355h0M125.4 364.6h0M114.6 371h0M106.6 366.7h0M82.6 351.4h0M102.7 400.7h0M125.7 374.3h0M157.7 374.9h0M101.6 381.8h0M121.5 372.9h0M129.4 363.9h0M131 361.4h0M117.5 346.5h0M121 392.4h0M129 356.2h0M92.6 347.9h0M114 359h0M82 349.6h0M78.4 402.9h0M98.7 377.4h0M67.1 409.9h0M122.1 391.7h0M130.7 378h0M104.4 386.1h0M110.7 360.5h0M109 370h0M108.5 362.4h0M115.5 371.4h0M119.3 360.2h0M105 390.2h0M99.3 383.2h0M104 370.1h0M127.2 345.3h0M105.7 381.6h0M157.3 390.1h0M108.9 370.3h0M137.1 350.6h0M92.2 378.9h0M100.9 387.3h0M128 321.4h0M121.7 378.7h0M110.4 344.4h0M148.9 369.5h0M114.4 396.6h0M118.2 371.9h0M103.1 378.8h0M142.1 364.1h0M128.1 369.8h0M84.4 392.7h0M124.5 362.2h0M99.5 362.3h0M120 370.7h0M129.1 402.1h0M100 375h0M120 398.5h0M128.5 364.5h0M115.9 352h0M107.3 390.9h0M94.6 371.2h0M101.4 360.3h0M75.4 356.2h0M130.3 359.8h0M114.9 361.9h0M91.8 349.9h0M113 388.6h0M90.5 378.2h0M55.7 389.5h0M149.7 359.6h0M133.5 374.6h0M69.3 378.4h0M91.9 402.1h0M119.6 391h0M106.4 376.7h0M87.8 356.4h0M104.1 354h0M106.2 351.3h0M103.4 362.4h0M116.7 362.8h0M109 353.1h0M99.8 396.3h0M113.5 374.9h0M63.7 323.8h0M156.7 340.3h0M61.3 341h0M111.6 374.6h0M123.6 397.1h0M120.2 356h0M121.2 386h0M135 365.3h0M93.4 389.3h0M111.8 391.1h0M117.8 378.4h0M104.4 382.1h0M95.6 372.2h0M135.4 363.8h0M100.6 354.8h0M99 380.2h0M108.2 370.3h0M107 361.7h0M115.8 369.6h0M107.1 366.7h0M119.5 355.3h0M117.4 357.4h0M121.3 387.1h0M136.8 365.8h0M98.3 392.5h0M141.6 352h0M105.1 351.7h0M124.5 372h0M118.1 390.1h0M104.4 355.1h0M54.8 390.9h0M161.3 390.9h0M99.8 387.6h0M99.2 370.3h0M131.4 368.9h0M114.2 346.7h0M169.9 367.4h0M142.1 372.9h0M125.2 390.7h0M117.3 352.1h0M126.1 357.6h0M90.1 358h0M115.9 383.9h0M115.5 333.8h0M104.7 355.8h0M117.3 400.8h0M69.7 390.6h0M140 335.7h0M151.5 366.6h0M90.5 385h0M117.5 384.4h0M159.1 362h0M120.1 358.9h0M95 384.4h0M83.8 372.9h0M127.6 381.7h0M144.6 374.5h0M80.9 361.6h0M114.3 407h0M90.1 360.2h0M107.9 377.6h0M118.2 361.4h0M112.1 367.7h0M101 368.2h0M149.2 358.7h0M108.4 377.3h0M107.7 404.1h0M132 396.7h0M113.1 391.9h0M109.4 368.7h0M141.2 405.3h0M95 378.4h0M125.8 396.2h0M130.6 351.3h0M124.3 391.7h0M107.8 356.4h0M112.7 387.8h0M83.2 366.4h0M110.6 384.4h0M117.8 366.5h0M127.8 342.5h0M115.3 356.7h0M106.1 368h0M98.4 372.4h0M111.7 315.1h0M117.1 340.7h0M133.7 358.8h0M113.3 365.7h0M104.2 374.8h0M109.9 350.7h0M104.5 349.5h0M106.1 379h0M47.8 367.4h0M85.4 385.9h0M77.8 360.4h0M120.8 379.8h0M111.5 358.1h0M115.4 374.7h0M132.8 370.8h0M94.9 378.8h0M132.5 356h0M124.4 367.1h0M100.5 359.5h0M157 363.7h0M88.3 381.8h0M109.2 371.8h0M125 387.9h0M109.5 372.9h0M50 403.9h0M107.7 378.1h0M110.5 397.2h0M156.5 373h0M114.9 390.8h0M80.8 330.9h0M118.7 374.9h0M92.8 373.6h0M119 315.6h0M119.1 358h0M101.2 360.4h0M120.4 352.2h0M107.1 373.3h0M103 345.7h0M158.2 386.3h0M130.1 389.1h0M107.5 376.5h0M90.4 364.5h0M115.8 370.9h0M129.7 358.3h0M127.4 386.6h0M138.1 376.5h0M120.7 399.4h0M93.6 367.1h0M147.6 389.5h0M132.7 361.2h0M127 367.5h0M135.7 354.2h0M87.2 380.5h0M106.4 370.7h0M104 380.7h0M133.2 391.2h0M92.5 371.7h0M103.5 381.3h0M138.8 382.2h0M123.9 369.4h0M106.2 363.6h0M168.3 376h0M73.8 386.5h0M126.3 389.5h0M106.2 392.3h0M121.5 360.8h0M108 377.9h0M88.3 403.5h0M116.4 364.1h0M90.1 378h0M128.5 354.6h0M107.3 373.9h0M128.5 395.1h0M105.1 374.2h0M93.1 348.6h0M119.6 375.6h0M133.9 372.7h0M77.2 389.8h0M116.4 336.8h0M123.4 357h0M71 372.3h0M86.9 334.5h0M131.8 398h0M88.5 322.6h0M101.8 359.9h0M142.1 347.6h0M96.5 362.8h0M97.9 383.8h0M73 382.7h0M80.6 396.5h0M91.6 381.4h0M142.1 339.5h0M148.6 376h0M75.6 328.1h0M146.4 361.4h0M125.9 364.5h0M107.5 358.1h0M126.5 377.2h0M124 350.3h0M99.6 397.1h0M61 389.8h0M97.1 389.3h0M112.6 382.1h0M106.6 384.5h0M91 371.7h0M129.4 398.3h0M94.4 357.2h0M127.9 376.7h0M98.6 372.3h0M114.5 367.7h0M93.4 377.1h0M112.5 352.6h0M89.7 394.4h0M82.7 384.7h0M112.3 372.5h0M111.8 381.8h0M126.8 355h0M117.5 344.6h0M82.9 359h0M102.1 368.5h0M79.8 367.9h0M150.9 394h0M138.6 381.4h0M125.7 400.7h0M117.8 372.4h0M130 386.2h0M121 367.7h0M82.9 360.8h0M97.6 357.7h0M132.9 358.3h0M132.9 390.3h0M119.8 377.8h0M107.3 369.3h0M106 371.9h0M103.3 363.6h0M96.7 371.8h0M79.5 373h0M117.1 387.1h0M99.4 394.8h0M106.4 331.1h0M142 372.3h0M122.8 390.3h0M100.5 357.3h0M122.6 366.8h0M86.8 375.5h0M130.7 385.7h0M117.1 379.4h0M109.3 368.2h0M122.4 377.6h0M137.6 384.3h0M104.6 377.4h0M95.6 399.2h0M148.9 374.6h0M113.1 345.2h0M138.3 357.9h0M101 370.1h0M119.1 367.7h0M101.6 380.9h0M123.5 375.5h0M107.8 396.3h0M101.1 383.7h0M139.3 390.7h0M118.4 359.7h0M77.7 367.5h0M108.5 381.4h0M96.8 373.7h0M91.6 381.8h0M95.4 378.8h0M104.3 362.8h0M113.1 395.8h0M98.9 388.7h0M80.5 351.1h0M96.8 357.2h0M127.7 370.4h0M89 382.7h0M123.2 369.4h0M126.2 336.6h0M99.3 392.9h0M117.9 367.8h0M99.6 389.5h0M105.6 376.1h0M94.9 387h0M126.3 391.1h0M136.2 382.3h0M100.8 364.8h0M133.2 384.6h0M49.3 381.1h0M86.3 342.5h0M95.1 366.9h0M142.3 364.2h0M102.3 378.8h0M126 380.2h0M51.8 348.3h0M114.5 381.6h0M129.3 368.7h0M111.4 345.5h0M31.7 398.1h0M117.8 352.3h0M136.6 340.3h0M151.7 387.4h0M124.4 392.9h0M83.3 364h0M108.9 386.8h0M128.2 384.6h0M88.2 360.5h0M122.3 399.4h0M104.2 371.1h0M114.1 374.5h0M135 311h0M91.5 388.9h0M117 382.2h0M118.5 346.3h0M99.7 389h0M114.4 407.5h0M107.9 398.9h0M87.2 330.7h0M85.9 381.8h0M121.1 379.6h0M109.9 297.2h0M34.2 359.4h0M75.3 372.9h0M107.1 392.3h0M110.5 351.3h0M123.1 373.7h0M75.6 373.1h0M122.8 376h0M107.2 366.1h0M97.4 395h0M108.3 396.2h0M129.6 350.7h0M129.1 398.4h0M128 359.6h0M100.5 368.5h0M107.6 388.1h0M92.3 374.5h0M102.9 380.6h0M105.6 383.4h0M104.4 380.8h0M124.9 362.9h0M119.9 357.4h0M125.7 380.5h0M114.7 382.4h0M144.5 378.6h0M114.5 368.8h0M129.3 382.8h0M121.2 370.6h0M125.3 351h0M111.3 375.8h0M91 380.5h0M87.4 384.7h0M146.5 356.4h0M119.2 360.4h0M125.7 379.5h0M107.5 361.6h0M104.5 371.4h0M162.4 381.6h0M93 378.9h0M111.4 398.1h0M111.6 376h0M92.8 397.9h0M74.5 401.5h0M100.3 409.4h0M102.2 373.7h0M104.1 371.3h0M126.6 389.7h0M77.3 362.5h0M119.5 364.8h0M156.3 375.6h0M128 376.3h0M78.5 340.7h0M61.1 379.5h0M137.7 363.4h0M121.1 371.1h0M102.3 375.4h0M134.8 367.8h0M105.5 388.1h0M114.4 379h0M94.4 370.8h0M118 372.9h0M99.7 399.7h0M103.7 384.2h0M144.7 402h0M118.9 369.4h0M67.9 379.9h0M124.5 400.3h0M137.5 370.6h0M98 397.5h0M105.7 385h0M113.4 366.2h0M108.2 352.7h0M114.7 381.4h0M131.9 354.7h0M103.9 362.9h0M174.6 326.3h0M91.3 404.2h0M103.1 374.6h0M171.3 369.8h0M154 375.1h0M113.2 375.9h0M109.2 374.1h0M80.5 388.6h0M132.4 367.1h0M115.5 335.3h0M97.8 384.1h0M119.6 378.1h0M136.3 371.1h0M124.4 394.4h0M150.9 349.7h0M132.7 329.6h0M120.2 393.3h0M111.9 378.5h0M128.9 332h0M133.7 365.1h0M127.4 380.3h0M130.8 353.8h0M119.2 386.7h0M125.8 401.9h0M148.8 405.1h0M109.6 372.3h0M90 378.8h0M142.5 356.7h0M129.9 375.6h0M104.9 368.3h0M119.5 348.6h0M108.2 353.6h0M61.6 424.8h0M109.3 374h0M70 351.6h0M116 366.2h0M110.6 394h0M132.2 394.3h0M110.4 363.8h0M119 374.8h0M103.6 396.1h0M105.9 368h0M88.2 357.4h0M129.7 357.3h0M115.5 372.4h0M102.4 362.2h0M116.1 353.7h0M105.3 369.6h0M99.9 386.8h0M116.8 382h0M148.8 365.3h0M104.5 421h0M70 357.3h0M101.8 372.2h0M143.8 350.6h0M88.3 394.4h0M148 367.9h0M108.3 348.7h0M125.4 359.7h0M109.3 417.9h0M65.4 394.7h0M100.2 377.1h0M149.2 382.1h0M110.2 349.7h0M122.3 359.9h0M106.7 353.9h0M110.2 360.7h0M118.1 366.5h0M120.7 379.4h0M151.1 384h0M112.2 386.5h0M92.8 362.7h0M89.7 373.8h0M64.5 389.4h0M132.3 351.6h0M57 370.4h0M137 376.4h0M138.2 349.8h0M107.4 379.5h0M78.1 406h0M113.4 345.9h0M112.9 339.6h0M146.2 372.9h0M90.4 349.3h0M106 375.3h0M111.6 366h0M107.7 377h0M101.7 389.3h0M61.4 397.1h0M84 369.3h0M100.8 356.4h0M105.9 312.6h0M129.9 339.9h0M152.7 357.9h0M142.4 371.4h0M119.4 362h0M168.7 354.2h0M110.5 349.4h0M103.4 349.1h0M152.8 344.4h0M94 382.3h0M100.2 324.9h0M104.8 389.8h0M137.9 357.1h0M102.2 380.2h0M135.9 376.5h0M100.5 391.6h0M76.1 404h0M116.7 360.1h0M115.5 357.4h0M92.5 366.7h0M97.5 361.5h0M89 389.7h0M129.3 368.5h0M126.4 370.7h0M116.7 377h0M121.1 363.9h0M104.3 387.6h0M120.9 344.3h0M94.6 378.4h0M89.4 380h0M91.7 353.9h0M116.3 360.9h0M114.2 384h0M144.2 361h0M83.2 345.7h0M106.1 338.4h0M119.5 385h0M84 351.5h0M116.9 389.5h0M105.5 391.2h0M93 369.6h0M146.1 382h0M88.5 360.9h0M142.5 358.9h0M105.4 361.5h0M84.6 387.6h0M86.3 341.3h0M99.8 370h0M97.9 372.8h0M117.3 378h0M80.1 342.9h0M134.2 343.7h0M137.6 347.4h0M154.1 362.3h0M83.4 376.4h0M72.3 376.6h0M101.8 400.6h0M107.7 387.3h0M121.8 384.6h0M97.3 359.9h0M110.2 390.2h0M115.2 380.6h0M85.7 382.4h0M144 366.9h0M93.1 381.2h0M117.2 392.4h0M144.9 348.7h0M99.1 340.8h0M112.7 382.6h0M161.5 385.2h0M107.8 367.9h0M144 357.5h0M116.7 363.8h0M125.2 352.4h0M108.7 364.2h0M109.1 378.2h0M141.5 353.5h0M117.2 364.9h0M121.4 374.5h0M91.9 366.1h0M113 372.6h0M133.8 368.6h0M139.7 342.5h0M118.7 371.3h0M97.5 343.1h0M94.6 394.8h0M120.4 356.8h0M137.4 365.5h0M117 283.5h0M30.8 392.5h0M36 342h0M43 342.5h0M34.5 353.5h0M174 420h0M110 305.5h0" stroke="#6c6c6c" stroke-width="2.35" stroke-linecap="round" fill="none"/>
<path d="M30.9 373.5 L36.9 373.4 L43 373.2 L49 373 L55 372.9 L61.1 372.7 L67.1 372.5 L73.2 372.3 L79.2 372.1 L85.2 371.9 L91.3 371.6 L97.3 371.3 L103.3 370.9 L109.4 370.5 L115.4 370 L121.5 369.4 L127.5 368.8 L133.5 368.2 L139.6 367.6 L145.6 366.9 L151.7 366.3 L157.7 365.6 L163.7 364.9 L169.8 364.2 L175.8 363.5 L175.8 370.7 L169.8 370.9 L163.7 371.1 L157.7 371.3 L151.7 371.5 L145.6 371.7 L139.6 371.9 L133.5 372.2 L127.5 372.4 L121.5 372.7 L115.4 373.1 L109.4 373.5 L103.3 373.9 L97.3 374.4 L91.3 375 L85.2 375.6 L79.2 376.2 L73.2 376.9 L67.1 377.6 L61.1 378.3 L55 379 L49 379.7 L43 380.4 L36.9 381.2 L30.9 381.9 Z" fill="#999" fill-opacity="0.38"/>
<line x1="30.9" y1="377.7" x2="175.8" y2="367.1" stroke="#000" stroke-width="1.5"/>
<path d="M24.2 276.6V432H183" fill="none" stroke="#444" stroke-width="1.15"/>
<line x1="22.2" y1="318.2" x2="24.2" y2="318.2" stroke="#444" stroke-width="0.9"/>
<text x="20.6" y="320.7" font-size="7.2" fill="#424242" text-anchor="end">6</text>
<line x1="22.2" y1="365.7" x2="24.2" y2="365.7" stroke="#444" stroke-width="0.9"/>
<text x="20.6" y="368.2" font-size="7.2" fill="#424242" text-anchor="end">4</text>
<line x1="22.2" y1="413.2" x2="24.2" y2="413.2" stroke="#444" stroke-width="0.9"/>
<text x="20.6" y="415.7" font-size="7.2" fill="#424242" text-anchor="end">2</text>
<line x1="35.8" y1="432" x2="35.8" y2="434" stroke="#444" stroke-width="0.9"/>
<text x="35.8" y="440.8" font-size="7.2" fill="#424242" text-anchor="middle">−2</text>
<line x1="79.2" y1="432" x2="79.2" y2="434" stroke="#444" stroke-width="0.9"/>
<text x="79.2" y="440.8" font-size="7.2" fill="#424242" text-anchor="middle">0</text>
<line x1="122.6" y1="432" x2="122.6" y2="434" stroke="#444" stroke-width="0.9"/>
<text x="122.6" y="440.8" font-size="7.2" fill="#424242" text-anchor="middle">2</text>
<line x1="166" y1="432" x2="166" y2="434" stroke="#444" stroke-width="0.9"/>
<text x="166" y="440.8" font-size="7.2" fill="#424242" text-anchor="middle">4</text>
<text x="46.3" y="282.2" font-size="7.55" fill="#111">r = 0.082, <tspan font-style="italic">P</tspan> = 0.0034722, N = 1262</text>
<text x="103.7" y="451.4" font-size="9.7" fill="#111" text-anchor="middle">log[HOMA−IR]</text>
<text x="13.3" y="353.8" font-size="10.1" fill="#111" text-anchor="middle" transform="rotate(-90 13.3 353.8)" textLength="36.4" lengthAdjust="spacingAndGlyphs">FAM20C</text>
</g>
<g id="panelD">
<text x="214" y="279.5" font-size="13.8" font-weight="bold" stroke="#000" stroke-width="0.45">D</text>
<path d="M313.1 349h0M332.2 366.2h0M336.5 370.9h0M328.9 349.1h0M318.4 373h0M310.4 338.1h0M328.2 357.5h0M320.7 335.6h0M324.7 356.6h0M314.3 339.2h0M372.7 353.2h0M340.8 362.2h0M365 335.7h0M324.1 325.4h0M334 349.9h0M328.7 361.2h0M333.6 360.5h0M328.6 338.5h0M330.1 366.1h0M298.9 349.9h0M324.9 375.5h0M353.5 329.1h0M275.2 369.3h0M327 371.6h0M349.9 335.2h0M370.5 344.2h0M331.5 362.5h0M340.9 360.5h0M385 361.1h0M355.4 349.5h0M325.2 328.2h0M322.5 353h0M350.6 331.2h0M336.8 353.7h0M323.6 316h0M329 375.5h0M342.3 405.1h0M329.5 359.7h0M325.4 331.3h0M326 346.1h0M288.8 380.4h0M363 361.3h0M354.1 340.3h0M377.8 384.1h0M330.7 364.1h0M336.7 368.2h0M350 343.4h0M347.2 351.7h0M301.4 342.9h0M343.5 358.4h0M315.7 342.9h0M331.7 371h0M313.3 355.9h0M362.4 354.2h0M342.3 357.2h0M332.5 357.5h0M357.1 328.7h0M331.8 372.7h0M320.5 354.6h0M327.5 339.2h0M326.7 337.5h0M334.4 335.2h0M357.9 335.9h0M331 352.7h0M331.9 338.9h0M350.5 353.2h0M338 354.4h0M349.4 340.6h0M335.3 387.1h0M310.5 351.7h0M313.6 358.7h0M304.4 355.6h0M366.7 347.5h0M345.3 371.2h0M324.8 374.5h0M303.7 353.1h0M339.2 338.4h0M330.7 361h0M338.5 318h0M308 359h0M300.2 350.1h0M379.5 359.7h0M304.8 314h0M332.3 341.5h0M356.1 334.7h0M301.4 345.3h0M345.1 360.7h0M334.2 348.9h0M330.5 342.7h0M341 384.6h0M297.9 355.2h0M294.7 322.1h0M365.6 333.7h0M328.1 358.6h0M359.3 363.2h0M352.1 354.2h0M341.5 359.2h0M340.9 337.1h0M354.1 348.8h0M360.2 331.5h0M347.5 329h0M370.3 325.8h0M328 338.6h0M325.7 346.5h0M334.5 347.8h0M339.9 338.4h0M348.9 380.2h0M366.5 342.4h0M347.5 374.7h0M334.1 366.9h0M367.2 330.4h0M338.7 364.8h0M339.2 328.9h0M347.6 389.8h0M323.2 360.8h0M314.3 336.5h0M337 292.2h0M327.7 345h0M318.2 330.5h0M335.1 368h0M327.2 317.9h0M322.8 347.7h0M280.6 366.9h0M328.1 351.5h0M363.3 353.2h0M348.3 346h0M351.6 361h0M332.4 325.7h0M351.2 358.6h0M313.2 319.3h0M325.2 353.8h0M342 332.2h0M291 347.4h0M334 359.7h0M342 383.3h0M362.1 320.7h0M321 339.1h0M345.5 323.6h0M321.8 370.1h0M323.7 337.4h0M286.6 363.9h0M305.4 338h0M367.1 309.8h0M342 351.7h0M335.8 332.4h0M375.5 359.6h0M342.4 362.9h0M311.8 372.4h0M329.6 334.6h0M332.1 375.1h0M360.7 364.1h0M317.6 323h0M340.3 384.7h0M349.9 375.9h0M319.1 334.8h0M334.6 355.4h0M298.5 331.1h0M336.1 346.4h0M268.1 358.6h0M321.7 367.5h0M362.7 335.8h0M345.2 348.8h0M334 335.6h0M337.6 360.3h0M370.2 358.8h0M342.6 350.9h0M351 367.4h0M320.3 371.2h0M325.6 356.5h0M302.3 383.1h0M328 316.9h0M312.6 350.3h0M350 321.6h0M344.1 349.4h0M331.1 343h0M323.8 363.8h0M315.7 333.8h0M338.3 348.5h0M344.4 347.6h0M280.1 361.2h0M262.3 330.3h0M335.8 326.6h0M302.7 308.8h0M329.4 368.6h0M325 330.9h0M343.2 342.5h0M278.3 323.2h0M323.3 364.7h0M349.3 340.6h0M336.7 369.4h0M308.7 332.5h0M346.5 357.5h0M338 362h0M306.9 377.7h0M345 330.9h0M344.7 343.9h0M329.3 348.3h0M349.3 320.7h0M313 362.6h0M346.2 355.8h0M329.8 358.5h0M317 329.3h0M322.9 353.8h0M353.2 356.2h0M323.6 367.1h0M322.9 336.7h0M321.8 361.6h0M319.5 382h0M349.6 342.7h0M371.1 341.9h0M356.1 344.1h0M348.1 309.2h0M346.1 344h0M323 394.8h0M324.6 336.2h0M312.9 348.4h0M357.8 367.9h0M323.2 366.2h0M312 357.7h0M322.2 345.7h0M336.4 348.4h0M323.7 351.1h0M333.4 361.2h0M336 351.5h0M356.1 364h0M296.6 302h0M338.2 363.1h0M321.2 342.8h0M320.5 351.4h0M381 336.5h0M343.9 360h0M326.5 349h0M341.6 359.9h0M332.6 328.8h0M366 353.9h0M324.8 370.2h0M341.5 367.6h0M329.6 345.1h0M333.6 354.3h0M330.5 344.8h0M322.5 349.2h0M335 350.7h0M350 368.6h0M322.7 360.2h0M326.5 373.8h0M339.5 374.3h0M320.2 331.3h0M348.1 354.6h0M345.3 342.9h0M265.6 310.6h0M321.9 334.2h0M314.6 343.6h0M347.4 376h0M349.3 351h0M298 347.4h0M313.1 350.9h0M330.9 330.5h0M322.4 355.8h0M345.5 348.5h0M362.1 305.2h0M343.3 341.7h0M351.9 402.2h0M360.9 366.1h0M331.2 348.1h0M325.7 361.4h0M320.5 336h0M357.4 351.8h0M348.5 363.5h0M350.6 324.5h0M323.7 331.4h0M321.8 340.5h0M341.1 342.6h0M370.2 335h0M343.8 357.4h0M337.1 366.3h0M319 356.7h0M340.8 366.2h0M342.4 366.4h0M316.9 342.1h0M363.3 353.2h0M306.3 342.1h0M349.1 360h0M329.7 345.3h0M336 347.6h0M310.2 397.4h0M323.6 348.4h0M345.2 325.7h0M327.7 354.2h0M327.4 355.6h0M348.4 341.9h0M345.4 351.1h0M338.3 377.8h0M337.2 342.3h0M384 343h0M328.5 332.1h0M344.9 359h0M345.9 346.7h0M309.3 337.5h0M300.1 350h0M335.4 379h0M348.1 323.3h0M336.7 328.9h0M324.1 356.4h0M322 329.7h0M347.2 380.3h0M324.7 311.5h0M305.7 331.8h0M344.9 342.1h0M337.3 367.2h0M339.8 362.8h0M364 364.4h0M372.3 356.7h0M342.8 370.4h0M330.3 322.6h0M297 356.9h0M338.3 372.7h0M330.7 334.2h0M355.8 354.5h0M355.1 368.6h0M341.4 369.7h0M356.7 347.3h0M332 379.7h0M332.5 358.6h0M308.6 380.7h0M327.9 334.4h0M336.9 338.8h0M351.4 337.9h0M311.8 399.1h0M373.3 320.1h0M310.2 364.3h0M325.8 355.2h0M333.6 304.8h0M362.9 338.8h0M367.3 344.2h0M354.4 368.4h0M332.6 321.1h0M318.7 343.3h0M332.3 367.3h0M332.3 371.2h0M340.5 326.1h0M317.9 347.1h0M359.3 326.5h0M320.9 372.5h0M344.9 343.5h0M339.7 384.4h0M314.5 364.1h0M334.4 337h0M334 347.1h0M330 361h0M357.1 361.5h0M325.1 374.8h0M376.8 365.8h0M352.6 354.8h0M317.5 362.3h0M290.5 342.1h0M354.7 340.5h0M337.5 359.9h0M334.6 356h0M316.5 334.6h0M308.5 350.9h0M278.4 332.8h0M360.7 369.4h0M323.7 336.8h0M365.4 339.1h0M301.4 361.3h0M345.2 351.4h0M345.3 352.9h0M318.4 329.4h0M319.8 351.2h0M315.2 346.1h0M333.9 338.4h0M372 334.3h0M362.6 341.9h0M340.3 363.5h0M366.2 399.3h0M302.4 354.3h0M367.9 372h0M331.7 354.4h0M294.3 314.1h0M326.5 352.3h0M314 386.3h0M334.7 372.5h0M342.4 327.6h0M292.9 387.6h0M354.8 338.5h0M384.3 329.4h0M315.2 343.9h0M358.5 372h0M354.8 356.1h0M350.6 364.2h0M361.2 315.4h0M292 352.3h0M345.6 348.7h0M315.6 362.8h0M374 341.7h0M316.3 370.4h0M311.9 341.6h0M352.5 328.6h0M343.8 325.3h0M333.9 385h0M335.4 362.7h0M343.7 338.5h0M362.9 366.6h0M320.7 349.2h0M323.4 349.8h0M315.9 313.9h0M331.8 342.8h0M333.3 352.8h0M310.8 355.5h0M338.3 342.3h0M311.1 367.7h0M327.7 373.6h0M328.7 339h0M328.8 357.6h0M377.2 309.1h0M361.4 356.1h0M365.2 324.6h0M360.5 347.4h0M328.1 354.2h0M375 343.1h0M332.1 367.4h0M339.8 330.9h0M341.2 339h0M309.8 357.5h0M322.4 351.3h0M330.3 355.3h0M339.4 347.7h0M330.8 339h0M318.2 362.3h0M298.5 355.7h0M333.3 375.6h0M297.8 388.9h0M297.9 344.4h0M331.2 340h0M338.3 339.6h0M308.3 336.1h0M279.9 302.3h0M341.6 394.7h0M357.4 361.4h0M326.5 343.1h0M292.6 362.6h0M348.7 354.7h0M300.3 351.9h0M345.5 365.7h0M322.8 352h0M328.8 350.2h0M329.7 354h0M279.4 296h0M380.8 337.8h0M305.8 341.5h0M334.9 376.6h0M308.8 368.7h0M328.9 363.6h0M356.9 359.8h0M300.6 350.2h0M330.5 376.8h0M341.6 347.8h0M336.6 314.7h0M339.9 360.7h0M310.6 384.3h0M304.5 354.5h0M293.9 363.7h0M320.8 378h0M345.9 374.2h0M334.4 360.3h0M360.9 375.7h0M334.8 355.8h0M338.8 406.9h0M336.5 330.2h0M302.9 367.5h0M343 355.3h0M299.9 357.1h0M326.4 332.2h0M296.1 349h0M335.1 336.1h0M341.7 335.1h0M335.2 347.8h0M333.1 353h0M323.3 338.1h0M367.6 335.5h0M298.1 359.7h0M315.2 351.3h0M358.8 380.2h0M342.5 344.5h0M310.2 372.9h0M317.4 379h0M325.6 347.3h0M341.6 355.7h0M315.1 353.2h0M337.1 375.8h0M322.1 336.9h0M359.1 340.9h0M341.8 305.2h0M370.6 347h0M335.8 366.4h0M368.5 345.7h0M340.2 363.7h0M337.9 339.6h0M302.6 383.8h0M325.7 350.1h0M339.8 343.8h0M324.4 377h0M332.7 367.2h0M310.3 356.5h0M362.5 369.1h0M317.2 356.2h0M340.1 332.7h0M331.4 355.9h0M311.5 365.8h0M374.4 360.1h0M335.7 346h0M365.5 398h0M322.9 333.6h0M308.2 354.6h0M311.4 355.8h0M324 335.4h0M329.8 333.4h0M334 361.5h0M341.9 361.3h0M311.4 354.7h0M337 326.7h0M311.8 348.1h0M321.1 355.7h0M377.6 358.6h0M371 381.3h0M322.2 364.6h0M364.2 364.5h0M357.7 375.5h0M358.5 365.2h0M328.7 345h0M329.3 364.9h0M318.1 355.4h0M343.1 335.3h0M311.2 338.8h0M324.2 358.5h0M341 348.3h0M324.2 363h0M343.4 341.4h0M364.7 382.5h0M303.6 346.9h0M374.9 404.1h0M321.1 340.4h0M316.8 360.8h0M336.9 368.4h0M363.7 316.1h0M311.7 327.8h0M311.3 363.8h0M325.4 369.3h0M311.5 388.9h0M336.3 359.7h0M320.6 368h0M325.4 321.9h0M339.2 344.6h0M320.5 390.4h0M367.4 335.7h0M312.8 346.7h0M310 307.7h0M393.8 343.8h0M359.2 325.7h0M334.2 356.8h0M347.4 373h0M338.9 355.8h0M324.1 354.4h0M353.2 340.4h0M342.1 365.8h0M355.3 333.2h0M301 346h0M357.1 407.1h0M335.9 331.3h0M321.1 343.3h0M320.2 316h0M320.9 384.7h0M310 348.9h0M315.9 319.4h0M346.6 331.4h0M306.6 369.5h0M326.5 361.8h0M262.4 376.3h0M323 350.8h0M339.8 364.5h0M331.5 386.1h0M333.8 361.3h0M299.6 311.5h0M342.9 320.6h0M317.3 329.7h0M360.1 357.1h0M336.7 328.1h0M321.5 323.8h0M377.3 350h0M321.2 329.1h0M350.8 330.6h0M336.1 376.3h0M333 364.2h0M362.9 370.3h0M346.1 374.7h0M332.8 389h0M330.9 350.4h0M339.3 345.9h0M335.6 304.9h0M323.3 345.2h0M315 342.6h0M288 369.1h0M331.1 361.1h0M328.8 373.5h0M354.1 366.3h0M346.4 381.2h0M352.9 357.7h0M384.8 351.8h0M329.8 341h0M318.4 351.2h0M347.2 335.4h0M322.7 357.2h0M325.4 348.9h0M376 295.2h0M352.1 338.4h0M292.8 340.5h0M333.6 345.9h0M366.5 382.7h0M310.7 342.1h0M336.5 330.9h0M340.1 356h0M292.9 367.9h0M360.8 374.1h0M320.6 335.7h0M330.6 346.8h0M362.2 342.4h0M279.7 392.8h0M341.1 360.7h0M325.3 351.2h0M334.4 369.3h0M308.6 342.3h0M373.8 342.9h0M313.6 350.9h0M343.9 336.7h0M342.5 346.1h0M330.3 359.7h0M328.3 354.3h0M328.4 373.2h0M363.6 371.2h0M346.6 347.6h0M331.6 317h0M314.1 328.8h0M335.8 342.5h0M342.3 344h0M332.5 330.4h0M358.1 343.2h0M299.8 353.8h0M376.4 338.3h0M329.9 348.3h0M313.2 349.9h0M302.7 341.1h0M359 326.1h0M343 347.7h0M329.3 354.4h0M332.2 334.4h0M338.2 296.4h0M320.5 325.6h0M353.1 356.8h0M344 325h0M331 364.3h0M304.6 342.7h0M374 350.9h0M318.9 330.4h0M302.2 366.5h0M355.5 349.6h0M341.8 355.2h0M298 322.4h0M304.2 362.5h0M326.2 324.9h0M311.2 346.1h0M330.4 358h0M378.6 344.7h0M384.9 354.8h0M332.4 352.6h0M347 350.6h0M359.8 327.2h0M331 365.3h0M307.4 368.3h0M365.3 334h0M327.9 326.6h0M346.8 354.2h0M345.5 337.9h0M319.1 352.8h0M362.5 360.8h0M334.5 359.9h0M337.1 372.1h0M325.6 357.3h0M354.5 321.4h0M350.8 336.1h0M323.5 358.5h0M343.3 378.2h0M325.6 345h0M311.7 337.3h0M323.4 386.2h0M343.8 347.5h0M349.8 366.6h0M365.6 375.7h0M313.1 325.2h0M324.2 340.8h0M335.5 335h0M351.9 362.2h0M329.8 366.6h0M316.6 343.3h0M306.2 359.7h0M353.7 322h0M351.8 354.2h0M321.6 355.7h0M359 348.6h0M331.4 312.2h0M341.1 348h0M371.1 319.8h0M319 387.6h0M319.7 346.3h0M302.9 348.4h0M338.5 347.9h0M346.9 362.6h0M348.3 350.2h0M351.5 362.3h0M336.6 325.4h0M353.3 365.4h0M302.7 338.4h0M340.1 360.9h0M342.2 353h0M329.8 377.2h0M363.4 347.2h0M340.9 327.4h0M356.8 331.4h0M348.9 345.7h0M330.1 370.8h0M367 341.8h0M366.7 349.1h0M333.6 368.6h0M331.2 341.6h0M302.5 359h0M330.6 354.2h0M326.4 334.4h0M339.8 355h0M320.8 377h0M343.3 365h0M331.8 344.9h0M305.7 394.9h0M324.4 355.6h0M317.6 346.6h0M311 340.3h0M328.9 335.4h0M360.9 369h0M313.8 307.8h0M298.3 349.4h0M328.7 314.4h0M323 349.9h0M341.7 315.5h0M326.1 335.5h0M348.3 368h0M358.5 340.3h0M330.5 349.9h0M354 344.1h0M314.4 363.3h0M337 367.9h0M311.2 364.8h0M336.6 358h0M322.6 358.8h0M337.5 331.9h0M313.8 370.5h0M337.4 341.3h0M335.3 336.5h0M323.4 344.8h0M319.3 338.7h0M312.7 357.1h0M321.8 368.6h0M345.7 381.6h0M331 348.6h0M336.1 340.8h0M355.5 344.5h0M327.8 332.7h0M342.5 330.1h0M347.9 378.9h0M349.1 328.8h0M340.2 342.7h0M334.8 359.2h0M367.1 351.9h0M332.1 361.4h0M326.7 337.3h0M351.4 321.1h0M382.7 380.6h0M358.1 338.4h0M334 348.4h0M358.7 353.5h0M342.2 321.8h0M336 344.4h0M344.8 339.5h0M352.3 361.9h0M335.9 345.1h0M363.5 314.7h0M326.9 362h0M370.1 341.8h0M370.3 337.5h0M342 333.3h0M330.3 349.8h0M305.6 365.5h0M332.4 336.9h0M306.1 362.4h0M306.5 358.9h0M348.1 359.8h0M352.3 357h0M301.6 347.9h0M332 336.9h0M339.4 342.5h0M307 364.8h0M350.2 371.3h0M294.1 402.3h0M353.2 333.3h0M337 346.1h0M321.3 350.6h0M305.4 348.9h0M327.5 333.3h0M331.8 382.6h0M331.2 372.6h0M316 346.2h0M329.8 343.3h0M348.6 348.9h0M317.6 332.6h0M329.8 345h0M347.5 368.6h0M333 374.7h0M359.6 370.9h0M360.5 367.9h0M327.2 334.4h0M337.2 301.2h0M282.2 373.3h0M327.3 353h0M353.8 346.3h0M300.1 394.3h0M373.5 322.6h0M277.3 327.8h0M374.1 328.2h0M318.2 392h0M303.1 375.5h0M319.1 304.3h0M328.7 375.1h0M315.6 351.1h0M292.2 362.7h0M324.2 338.8h0M349.9 377.3h0M340.4 356.1h0M356.8 368.5h0M315.3 324.7h0M327.1 360.8h0M327.5 351.6h0M335.8 346.4h0M347.4 327.7h0M364 337.7h0M354.6 318.1h0M336.2 339.7h0M357 348.3h0M310.1 365.8h0M310.4 327.6h0M353.5 321.6h0M336.2 340.5h0M335.4 325.1h0M361.4 340.5h0M327.4 346.2h0M330.1 344.7h0M344.8 359.5h0M344.6 363.5h0M350.4 361.1h0M337 356.5h0M337.9 358.6h0M291 340.1h0M354.6 334.5h0M286.4 368.7h0M332.5 358.5h0M377.5 380.7h0M323.6 344.1h0M305.6 336.4h0M361.3 352.8h0M316.8 338.7h0M328.5 326.6h0M330.3 370.7h0M346 378.4h0M346.8 354.8h0M331 340.1h0M352.6 352.7h0M317.5 349.9h0M345 328.3h0M314.7 372.2h0M354.2 357.3h0M321.5 369.5h0M325.5 341.9h0M377.4 346.7h0M313.6 349.2h0M298.2 306.6h0M328.5 318.5h0M320.4 320.5h0M330.7 344.7h0M396.7 305.5h0M302.3 362.2h0M325.1 337.9h0M336 351h0M316.7 354.4h0M332.2 351.7h0M347.7 351.5h0M317.3 348.6h0M366.6 359.1h0M299 372.6h0M330.6 346.3h0M343.2 337.6h0M388.5 341.1h0M302.6 356.4h0M338 344.3h0M315.3 311.5h0M352 378.5h0M336.8 331.2h0M290.4 396h0M344.9 370.1h0M306.5 378.2h0M334.6 354.1h0M288.3 365.3h0M354.9 356.5h0M291 361.5h0M328 372.3h0M355.5 372.3h0M342 334.7h0M322.7 363.5h0M329 375.2h0M320.4 387.4h0M380.3 332.2h0M331.5 358.6h0M332.6 357.7h0M320.3 354.9h0M324.8 316.4h0M351.3 372.1h0M314.8 309.2h0M319 384.7h0M316.6 368.6h0M322.5 348.5h0M336 360.1h0M318.5 355.1h0M327.3 336.9h0M320 349.8h0M354.5 354.8h0M335.7 329.4h0M327.5 361.8h0M341.7 379.6h0M331.7 379h0M286.2 384.3h0M327.6 385.3h0M361.7 360h0M341.8 370.3h0M353.5 350.6h0M321.3 357.6h0M307.2 373.9h0M320.9 381.2h0M373.3 339.5h0M303.2 314.2h0M309.3 408.8h0M366 379.7h0M328.6 379.1h0M329.5 364.9h0M339.6 354.1h0M334.5 340.9h0M327.7 336.3h0M340.6 389h0M320.6 366.6h0M331.7 359.5h0M344.4 333h0M314.6 343.7h0M329.3 341.4h0M298.9 344.8h0M346 305.6h0M343.7 353.7h0M349.4 374.1h0M351 341.5h0M363.6 350.1h0M345.5 354.4h0M319.5 336.1h0M349.3 356.6h0M305.8 330.9h0M373.6 341.9h0M338 354.5h0M350.7 348.6h0M296.2 355.6h0M365 324.9h0M368 368.5h0M305.7 335.5h0M323.3 364.4h0M319 339h0M321.7 333.1h0M357 348.2h0M370.6 332.5h0M314.5 343.6h0M351.2 347.5h0M328.4 363.2h0M356.8 361.9h0M290.4 360.5h0M325.4 346.8h0M369.3 308.6h0M310.3 346.3h0M353.7 344.8h0M324.1 349.3h0M366.9 335.2h0M343.1 342.2h0M325.7 363.7h0M319.7 330.8h0M327.9 351.6h0M367.6 382.8h0M332.7 330.6h0M321.4 336.1h0M390.7 344.3h0M285.8 344.4h0M326.1 358.4h0M342.4 371.4h0M314.8 349.8h0M332.6 366h0M325.6 342.2h0M307.2 344.6h0M346.5 358.2h0M313.1 341.5h0M319.8 370.2h0M369.7 338.3h0M299.5 348.5h0M343.4 334.1h0M353.5 343h0M362.6 322.8h0M346.9 337.3h0M325.9 304h0M308.5 351.9h0M335.4 377.8h0M346.1 300.2h0M317.6 398.2h0M315.7 349.8h0M348 363.8h0M301.3 325.7h0M340.6 382h0M324.5 334.5h0M303.5 351.1h0M381 390.1h0M343.5 330.3h0M342.3 313.9h0M308.2 350.9h0M330.6 338.9h0M337.7 335.3h0M319.8 337.2h0M361.5 326.3h0M297.6 374.5h0M353.6 382.6h0M299.8 331.2h0M285.6 350.6h0M294.1 340.6h0M342.6 367.5h0M311 329.5h0M320.9 376.8h0M316.7 351.6h0M306.7 339.8h0M316.8 350.2h0M315.3 342.5h0M326.8 386.5h0M325.7 353.4h0M290.5 345.4h0M321 352.8h0M353.3 372.8h0M323.9 336.1h0M330.8 324.3h0M319.5 372h0M320.1 361h0M330.7 343.7h0M290.8 350.9h0M328.9 368.3h0M302.8 309.4h0M337.6 370.5h0M304.3 349.4h0M350.3 368.2h0M349.3 349h0M303.4 401h0M350.7 333h0M324.5 368.5h0M351.8 308.5h0M322.2 351.8h0M321.9 372.7h0M326.4 326.6h0M367.8 293.8h0M272.4 356.5h0M344.7 366h0M333 369.4h0M322.8 340.3h0M327.2 356.4h0M347.6 327.5h0M354.7 397h0M380.7 332.6h0M310.9 386.5h0M298.3 348.2h0M321.6 346h0M327.9 376.6h0M323.6 337.3h0M352.5 370.1h0M370.9 342.9h0M337.8 336.4h0M300.2 339h0M361 379.8h0M310.7 349.6h0M331.9 345h0M345.8 325.9h0M340.9 382.2h0M330 367.4h0M336.2 355.5h0M344.4 362.3h0M391.7 332.9h0M279.1 355.9h0M317.5 353h0M321 342.1h0M354.4 355.9h0M335 338.8h0M346 339.4h0M306.3 332.1h0M323.3 354.8h0M342.4 338.5h0M330.2 342.7h0M324.2 373h0M335.9 349.7h0M359.8 348.5h0M294.5 328.1h0M377.2 333.9h0M336 366h0M316.2 360.2h0M342.6 350.8h0M331 345.8h0M365.9 350.6h0M317.1 357.7h0M347.9 344.5h0M315.4 311.9h0M336.7 381.6h0M343.2 368h0M327.4 346.6h0M342.3 372.5h0M320.8 330.4h0M349.6 370.1h0M314.8 356.7h0M318.9 365.4h0M329.1 345.2h0M328.3 354.9h0M304.8 367.9h0M345 366.5h0M329 358.9h0M347.9 361.8h0M285.2 336.9h0M290.6 399.6h0M321.9 356.8h0M313.9 347.9h0M325.8 342h0M346.5 316.9h0M350.5 337.8h0M356.7 325h0M353.3 355h0M308.7 349.5h0M346.2 355.8h0M322 331.2h0M346 338.3h0M312.8 341.3h0M354.5 365.1h0M338.4 326.5h0M321.3 309.6h0M307.5 372.3h0M336.1 356.1h0M322 326.1h0M335.5 371.8h0M318.8 375h0M321.7 369.2h0M342 317.2h0M356.9 351.1h0M309.2 338h0M324.1 343.7h0M338 325.1h0M325.3 398.2h0M323.6 340h0M394.5 354.8h0M316.6 364.1h0M337.5 360h0M322.7 357.6h0M327.1 340.1h0M261.7 360.3h0M356.4 343.2h0M327.6 314.6h0M314.4 367.4h0M379.6 330.8h0M321.7 336.8h0M320.6 344.6h0M316.5 329.2h0M349.8 330.3h0M330.8 301.3h0M325.9 358.3h0M308.2 370.6h0M303 354h0M337.2 332h0M329.3 386.3h0M269.9 345h0M316 326h0M335.2 320.4h0M377.9 351h0M307.5 391.2h0M263.6 343.6h0M352.8 332h0M322.9 346.6h0M290.6 329.4h0M341 341.3h0M327.2 354.7h0M314.5 339.9h0M290.8 378.1h0M329.1 335.1h0M332.7 361.7h0M300.3 357.6h0M359.4 338.4h0M309.2 346.9h0M371.8 339.4h0M337 376.9h0M328 337.8h0M340 382.4h0M312.3 379h0M328 341.4h0M379.1 392.1h0M321.3 313.2h0M345.5 353.6h0M315.6 353.4h0M330.9 350.8h0M348 362.9h0M310.4 345.2h0M337.1 347.2h0M265.8 385.3h0M311.3 349.7h0M317.5 322.9h0M346.6 358.7h0M351.4 347.1h0M315.3 342.4h0M326.1 365.8h0M334.5 338h0M283.3 326.2h0M338.6 345.9h0M354.7 346.2h0M352.9 350.2h0M321 331.9h0M317.8 398.1h0M302.1 370.4h0M322.6 353.2h0M326.9 354.4h0M343.1 310h0M332.7 365.1h0M315.1 335.1h0M345.5 357.7h0M356.3 316.5h0M320.6 366.7h0M327 342.2h0M327 344.8h0M302.7 376.3h0M334 377.3h0M350.1 311.8h0M365.1 337.6h0M334.6 353.4h0M326.3 347h0M325.6 372.8h0M348.3 330.8h0M353.8 298h0M316.3 336.8h0M334.6 347.4h0M349.6 364.4h0M252.2 287.5h0M328.5 425.5h0M256 334h0M263 329h0M307 290.5h0M392 403h0" stroke="#6c6c6c" stroke-width="2.35" stroke-linecap="round" fill="none"/>
<path d="M252.6 350.9 L258.6 350.9 L264.6 350.8 L270.5 350.8 L276.5 350.8 L282.5 350.7 L288.5 350.7 L294.5 350.6 L300.4 350.5 L306.4 350.4 L312.4 350.2 L318.4 350 L324.4 349.8 L330.3 349.5 L336.3 349.1 L342.3 348.7 L348.3 348.2 L354.2 347.7 L360.2 347.2 L366.2 346.7 L372.2 346.2 L378.2 345.6 L384.1 345 L390.1 344.5 L396.1 343.9 L396.1 351.1 L390.1 351.2 L384.1 351.2 L378.2 351.3 L372.2 351.4 L366.2 351.5 L360.2 351.6 L354.2 351.7 L348.3 351.8 L342.3 352 L336.3 352.2 L330.3 352.5 L324.4 352.8 L318.4 353.2 L312.4 353.6 L306.4 354.1 L300.4 354.6 L294.5 355.2 L288.5 355.7 L282.5 356.3 L276.5 356.9 L270.5 357.5 L264.6 358.1 L258.6 358.7 L252.6 359.3 Z" fill="#999" fill-opacity="0.38"/>
<line x1="252.6" y1="355.1" x2="396.1" y2="347.5" stroke="#000" stroke-width="1.5"/>
<path d="M245 277V432.7H403.7" fill="none" stroke="#444" stroke-width="1.15"/>
<line x1="243" y1="280" x2="245" y2="280" stroke="#444" stroke-width="0.9"/>
<text x="241.4" y="282.5" font-size="7.2" fill="#424242" text-anchor="end">8</text>
<line x1="243" y1="330.4" x2="245" y2="330.4" stroke="#444" stroke-width="0.9"/>
<text x="241.4" y="332.9" font-size="7.2" fill="#424242" text-anchor="end">6</text>
<line x1="243" y1="380.8" x2="245" y2="380.8" stroke="#444" stroke-width="0.9"/>
<text x="241.4" y="383.3" font-size="7.2" fill="#424242" text-anchor="end">4</text>
<line x1="243" y1="431" x2="245" y2="431" stroke="#444" stroke-width="0.9"/>
<text x="241.4" y="433.5" font-size="7.2" fill="#424242" text-anchor="end">2</text>
<line x1="257" y1="432.7" x2="257" y2="434.7" stroke="#444" stroke-width="0.9"/>
<text x="257" y="441.5" font-size="7.2" fill="#424242" text-anchor="middle">−2</text>
<line x1="300" y1="432.7" x2="300" y2="434.7" stroke="#444" stroke-width="0.9"/>
<text x="300" y="441.5" font-size="7.2" fill="#424242" text-anchor="middle">0</text>
<line x1="343.6" y1="432.7" x2="343.6" y2="434.7" stroke="#444" stroke-width="0.9"/>
<text x="343.6" y="441.5" font-size="7.2" fill="#424242" text-anchor="middle">2</text>
<line x1="386.5" y1="432.7" x2="386.5" y2="434.7" stroke="#444" stroke-width="0.9"/>
<text x="386.5" y="441.5" font-size="7.2" fill="#424242" text-anchor="middle">4</text>
<text x="272.2" y="282.2" font-size="7.55" fill="#111">r = 0.06, <tspan font-style="italic">P</tspan> = 0.034, N = 1262</text>
<text x="324.7" y="451.4" font-size="9.7" fill="#111" text-anchor="middle">log[HOMA−IR]</text>
<text x="233.9" y="354.5" font-size="10.1" fill="#111" text-anchor="middle" transform="rotate(-90 233.9 354.5)" textLength="36.4" lengthAdjust="spacingAndGlyphs">FAM20C</text>
</g>
<g id="panelE">
<text x="427.7" y="279.5" font-size="13.8" font-weight="bold" stroke="#000" stroke-width="0.45">E</text>
<path d="M570.5 390.3h0M542.9 392.1h0M532.5 349.6h0M577.7 339.7h0M563.8 356.7h0M560.6 367.2h0M522.4 376.2h0M584.2 367.1h0M576 370h0M546.1 378.2h0M562.1 351.6h0M589.7 313.1h0M556.3 375h0M588.5 398.6h0M555.4 373.6h0M532.4 366.9h0M518.2 382.3h0M516.9 369.6h0M540.5 353.3h0M604 356.8h0M544.6 382.9h0M549.3 379.3h0M563 380.1h0M530.1 360.5h0M593.6 381.1h0M512.8 410h0M577.1 360.6h0M542.1 365h0M555.1 388.8h0M568.6 371.2h0M523.6 344.6h0M573.8 358.8h0M559.7 389.6h0M575 378.1h0M513.4 401.7h0M584.5 384.1h0M569.1 376.1h0M570 385h0M581.3 359.9h0M525.1 389.2h0M555.9 368.8h0M539.9 366.1h0M564.4 376h0M545.6 360.3h0M552 355.1h0M529.5 360.4h0M567.2 377.6h0M528.6 377.8h0M519.1 376.3h0M498.2 386.6h0M565.5 357.4h0M591.3 362h0M525.1 397.3h0M559.6 357.1h0M536.3 404.5h0M560.4 366.9h0M482.5 385.2h0M601.3 373h0M504.7 372h0M564.8 372h0M596.7 391.2h0M581.2 351.7h0M565.9 356.6h0M491.9 398.1h0M564 360.7h0M492.3 372.6h0M563.4 367.8h0M497.6 365.9h0M554.7 326.8h0M572.5 368.3h0M569.9 363.3h0M601.7 333.8h0M564.9 362.3h0M597.8 373.3h0M559.6 413.6h0M535.5 359.6h0M580.3 388.3h0M544.2 365.7h0M553.4 378.1h0M564.4 366.8h0M539.2 383.4h0M573.4 373.1h0M553.7 365.8h0M564.3 332.5h0M553.9 385.6h0M585.1 347h0M559.8 355.9h0M531 398.8h0M555.2 377.2h0M546.4 373.3h0M517.3 377.8h0M593.8 371.4h0M519.8 369.5h0M550.3 376.6h0M561.1 366.9h0M581.4 360.9h0M574 376.4h0M566.2 386h0M564.7 379.2h0M557.4 384.8h0M564.9 397.3h0M545.9 396.8h0M525.1 375.5h0M559.3 355.3h0M556.1 399.6h0M505.7 378.8h0M573.3 380.9h0M554.6 362.9h0M533.7 385.6h0M545.1 356.4h0M534.2 375.8h0M564.2 351.4h0M508.7 404.5h0M556.9 367.7h0M583 339.1h0M579.8 401h0M603.4 381.2h0M533.1 393.2h0M523.7 358.3h0M557.8 376.8h0M572.3 389h0M544.3 368.5h0M554.4 381.7h0M554.8 368.7h0M538.4 368.8h0M562.6 390.7h0M568.4 359.6h0M526.6 374.8h0M592.6 383h0M543.3 374.3h0M584.3 381.2h0M556.2 343.5h0M574 398.5h0M551.2 355.3h0M544.8 367.9h0M564.4 363h0M523.2 381.4h0M564.5 366.9h0M553.7 365.9h0M507.1 393.4h0M581.7 398.8h0M563.2 362.5h0M584.5 353.5h0M525.3 366.2h0M603.5 338.1h0M550.3 342.9h0M536.2 362.3h0M486.3 388h0M569.5 363.3h0M537.4 361.6h0M540.1 371.5h0M548.2 361.1h0M552.6 410.4h0M529.4 411.9h0M549.3 373.3h0M560 347.3h0M547.3 364.4h0M546 359.5h0M509.1 354.6h0M561.4 340.2h0M523.3 367h0M505.8 361.8h0M529.3 364.3h0M562.4 339.8h0M552.2 380.9h0M532.1 353h0M524.9 319.5h0M588.9 353.9h0M539.6 389.8h0M540.5 356.7h0M509 371.6h0M571.3 377.9h0M548.7 385h0M493.4 370.3h0M488.6 384.5h0M560.9 364.7h0M578.3 325.5h0M511.7 397.6h0M572.4 368.9h0M570.4 375.9h0M551.3 368.7h0M567.4 357.8h0M562.7 363.7h0M514.8 379.7h0M515.7 356.8h0M549 393.7h0M567.2 402.5h0M550.7 316.5h0M534.6 395.5h0M534.8 366.9h0M542.6 381.1h0M527.9 376.4h0M561.8 366.3h0M556.1 393.2h0M598.2 369.9h0M531.7 394.4h0M579.6 373.8h0M563.7 350.2h0M551.6 369.4h0M507 375.7h0M539.7 364.7h0M575.2 352.3h0M571.8 397.7h0M557.6 369.6h0M492.8 376.5h0M562.6 347.8h0M570.7 378h0M525.8 372.4h0M571.2 396.8h0M581.9 393h0M567.9 354.9h0M546.1 355h0M550.9 388.3h0M583.8 395.4h0M546.4 376.8h0M559.5 389h0M564.5 363.4h0M548.3 371.8h0M587 368.7h0M546.6 342.2h0M565.1 381.1h0M544.4 383.5h0M568.6 357.3h0M524.2 366.6h0M554.7 375.8h0M527.5 384.2h0M485.2 378.4h0M558.7 360.4h0M519 380.7h0M565.1 372.4h0M533.1 359.5h0M547.8 364.7h0M505.4 370.8h0M588.3 385h0M555.8 353h0M532.7 354.3h0M525.2 365h0M549.1 372.5h0M562.1 404.4h0M547.8 369.7h0M557.5 397.1h0M561 382h0M530.2 392h0M509.9 417.7h0M569.5 378.4h0M579.3 355.8h0M526.2 369.1h0M542.3 409.2h0M534.2 425.7h0M542 403.9h0M536.6 382.9h0M560.3 359.4h0M541.1 374.2h0M607.1 374.4h0M585.2 382h0M568.4 382.5h0M565.6 349.7h0M567.4 387.1h0M571.3 362.2h0M551.1 379h0M573.2 379.2h0M550.5 389.2h0M574.3 377.2h0M545.7 359.5h0M515.1 373.3h0M564.3 384h0M590.3 362h0M534 356.9h0M597.2 306.4h0M571.8 370.7h0M519.7 362h0M570.4 370.4h0M540.9 347.1h0M551.2 365.6h0M574 361h0M530.8 396.8h0M531.6 361.1h0M603.9 338.4h0M514.9 377.9h0M571.8 390.1h0M533.3 360.5h0M579.6 376.5h0M595.4 368.3h0M520.6 381.6h0M544 346.1h0M539.3 375.2h0M520.1 370.9h0M473.1 383.8h0M551 355.3h0M545.4 369.5h0M574.2 338.7h0M565.8 370.1h0M543.6 391.7h0M556.8 374h0M522.7 382.7h0M486.8 411.8h0M539.7 363.1h0M535.8 352.2h0M551.3 344.7h0M559 361.4h0M539.7 375h0M559.3 382.6h0M561.5 352.9h0M551.3 357.2h0M541.4 385.2h0M538.3 388h0M553 360.5h0M540.8 383.3h0M572.5 365.3h0M543.7 365.3h0M575.3 367.6h0M570 349h0M564.7 346.2h0M485.6 342.8h0M572.4 358.9h0M566.2 377.4h0M539.3 378.2h0M557 391.9h0M536.9 361.5h0M564.3 369.9h0M525.1 353.2h0M535.1 358.9h0M506.3 400.5h0M526.6 371.7h0M545.1 418h0M545.2 365.2h0M566.8 360.1h0M537.7 343.1h0M529.3 392.1h0M558.8 384.9h0M568.5 421.3h0M555 421.8h0M528.8 378.2h0M507.3 360.4h0M554.3 345.9h0M568.1 360.4h0M575.2 368.5h0M547.5 350.7h0M574.4 379.4h0M578.8 392.8h0M552.2 357.3h0M574.2 365.8h0M573.9 334.7h0M562.8 384.9h0M540.7 359.5h0M511.7 358.6h0M568.7 321.3h0M550 356.8h0M559.8 396.6h0M556.3 380h0M574.6 351.6h0M538.3 371.4h0M571.9 371.1h0M538.8 357.2h0M546.1 405h0M588.1 383.6h0M558.4 399.8h0M591.3 327.8h0M601.8 327.6h0M548.4 382h0M583.9 371.7h0M580 364.7h0M561.7 353.8h0M591.8 375h0M541.2 364.8h0M506.6 408.8h0M535.1 388.8h0M562 393h0M530.6 327.3h0M570.9 374.3h0M569.3 395.2h0M546 417.4h0M540.2 390.4h0M565.6 398.4h0M525.7 362.6h0M504.8 411.9h0M521.4 401.3h0M604.6 377.2h0M597 374.9h0M568.6 367.8h0M553.2 374h0M529.6 365.7h0M527.4 380.5h0M573.6 367h0M559.4 348.7h0M503 360.3h0M559 376.7h0M549.9 392.7h0M531.7 397.1h0M579.2 401.2h0M484.6 376.7h0M570.4 385.3h0M579.1 358.8h0M582.2 359h0M545.1 385h0M582.9 372.2h0M548 360.3h0M545.6 385.8h0M526.2 394.8h0M520.4 385.4h0M541.9 391.4h0M557.9 384.4h0M582.2 382.1h0M523.8 362.3h0M572.9 323h0M557.3 366h0M557.1 323.9h0M567.2 362h0M555.6 354.8h0M496.1 379.1h0M533.5 355.1h0M527.2 373.5h0M533 360h0M509.3 371.4h0M555.7 408.1h0M560.7 355.6h0M515 349.3h0M526.4 392.7h0M530 372.2h0M546.9 361.5h0M546.9 376.2h0M568.4 364.5h0M570.9 393.5h0M518.1 369.9h0M552.5 362.1h0M522.6 381.9h0M567.3 358.3h0M575.5 382.8h0M581.2 351.5h0M585.3 360.4h0M537.4 375.2h0M600.2 349.4h0M590.5 382.1h0M544 369.6h0M528.8 376.4h0M543.6 343.5h0M573 383.2h0M521.1 376h0M539.3 343.6h0M570.3 373.3h0M572.4 377.6h0M531.2 355.2h0M506 359.5h0M556.4 350.4h0M555.4 371.4h0M526.7 374.1h0M564.6 367h0M533.1 423h0M589.8 367.1h0M575.6 371.4h0M562.6 347.3h0M578.8 373.3h0M540.6 385.7h0M543.6 359h0M530.8 403.5h0M520.5 365.8h0M548.2 373.6h0M541.3 362.7h0M534.4 367.1h0M532.3 331.3h0M574.3 390.3h0M588.7 336.1h0M590.8 385.8h0M585.5 352.1h0M560.1 362.8h0M589.5 404.2h0M564.6 356h0M556.6 365h0M550 353.2h0M545.8 369h0M541.1 378.1h0M567.8 392.5h0M558.2 332.6h0M536.8 370.4h0M552 379.8h0M520.7 386.9h0M524 362.4h0M535 374.5h0M554.4 398h0M555.2 376.3h0M556 401.5h0M566.8 359.6h0M513.8 375.1h0M556.1 345.1h0M545.8 381.1h0M528.4 357h0M490.3 384.9h0M545.9 349.9h0M571.9 357.1h0M596.9 381.9h0M538.2 348.2h0M513 336.9h0M554.5 379h0M541.2 357.6h0M563.7 379.9h0M580.6 387.5h0M539.4 381.7h0M546.7 349.6h0M555 388.9h0M540.3 399.9h0M569.4 361.1h0M489.5 366h0M521.3 409.3h0M554.1 375.7h0M563 376.5h0M556.1 398h0M570.3 377.5h0M559.4 390.9h0M585.8 372.2h0M569.6 371.7h0M578.9 361.7h0M571.3 387.4h0M543.8 354.9h0M544.7 385.1h0M516.9 359.9h0M586.3 341.7h0M548.5 396.4h0M546.5 382.8h0M558.9 375.1h0M580.1 361.4h0M561.4 370.3h0M526.7 358.1h0M509.5 408.8h0M516.6 394.6h0M554.7 370.7h0M518.6 374.8h0M535.5 377.3h0M555.1 384.6h0M567.1 373.7h0M553.1 365h0M501.1 370.6h0M578.9 373.4h0M533.8 371.3h0M518.7 369.1h0M526.4 392h0M562.8 376.9h0M553.8 384.9h0M546.8 359.4h0M550.9 384.1h0M545.7 373.3h0M567.4 366.8h0M536.9 363.3h0M536.1 357.7h0M511.2 368.7h0M554.9 374.8h0M537.2 372h0M553 401h0M573 377h0M528.7 377.5h0M552.1 370.6h0M533.4 362h0M559.1 351.5h0M600.5 376.8h0M575.6 332.3h0M523.6 398h0M551.4 394.8h0M560.6 334.7h0M566.8 388.2h0M567.1 398.5h0M588.8 385.1h0M553.7 381.7h0M575.9 393.7h0M533.4 362h0M536.7 362.4h0M577.4 378.6h0M566.1 371.5h0M577.9 349h0M552.5 383.9h0M514.3 390.3h0M577 364.9h0M557.1 377.1h0M594.6 392.5h0M561.3 340.7h0M556 363.6h0M537.5 360.7h0M568 368.5h0M591.1 338.1h0M536.5 355h0M531 377.1h0M553.8 398.4h0M552.4 354.1h0M547.7 412.8h0M583.2 393.6h0M564.2 385.5h0M550.2 391.3h0M556.9 365.5h0M561.7 387.5h0M542.8 335.8h0M573.3 358.6h0M530.6 382.7h0M545.9 383.8h0M574.5 350.2h0M538.9 345.7h0M546.6 383.3h0M560.2 375.6h0M496.1 394.8h0M556.2 370.7h0M491.3 345.4h0M569.5 387h0M581.6 380.8h0M537.4 375.9h0M563.6 402.7h0M577.1 373.4h0M527.1 412.4h0M500.7 373.8h0M554.1 329.8h0M532.5 345.5h0M547.2 332.7h0M520.9 371.5h0M502.3 406.3h0M545.4 348h0M543.1 391.4h0M538.5 369.3h0M570.9 393.5h0M532.7 379.3h0M541.3 348.8h0M535.9 388.5h0M544.7 372.3h0M560 384.5h0M603.5 416.5h0M534.7 370.9h0M549.4 413.7h0M539.2 372h0M552.8 381h0M593.6 373.8h0M561 355.3h0M588.5 372.8h0M535.3 363.2h0M504.7 391.1h0M502 361.4h0M565.7 357.1h0M540.5 385.9h0M555.5 379.8h0M518.8 389.9h0M551 387.5h0M596.8 380.8h0M536.4 387h0M509.5 357.4h0M556.8 379.4h0M584.6 351.7h0M553.3 354.3h0M522.5 370h0M562.8 380.8h0M534.2 374.2h0M541.3 399.2h0M542.9 383h0M564.3 377.5h0M584 373h0M570.5 351.3h0M590.6 369.7h0M528.7 374.8h0M521.6 400.4h0M567.9 359.5h0M559.1 370h0M517.7 365h0M545.2 375.2h0M557.6 346.9h0M556.4 376.3h0M513.1 376.9h0M536.2 376.4h0M491.1 376.4h0M501.6 389.6h0M582.2 369.9h0M576.7 397.9h0M558 404.4h0M546.3 415.8h0M539 378.4h0M520.1 356.8h0M555 378.4h0M476.3 355.1h0M532.9 352.8h0M527.1 366h0M533.2 357.9h0M595.8 368.5h0M569.9 365.5h0M569.4 360.1h0M512.6 381.3h0M541.5 355.6h0M522.7 407.6h0M543 382.4h0M545.5 366.6h0M582.6 376h0M572.3 360.6h0M545.4 363.8h0M566.9 331.7h0M545.1 385h0M584.8 417.9h0M570.7 315.7h0M503.2 348.5h0M575.6 337.4h0M548.1 341.8h0M560.8 354.4h0M469.1 370.9h0M551.1 344.4h0M530.5 371.1h0M483.1 399.1h0M534.3 362.3h0M561.1 373h0M551.7 388h0M565.2 396.3h0M554.3 370.6h0M521.9 393.2h0M565.6 378.4h0M544.9 373.5h0M481.5 370.2h0M537.1 382.9h0M523.7 384.7h0M518 342.3h0M583.4 360.3h0M591.7 373.5h0M557.8 375.9h0M531.7 378.7h0M571 394.4h0M544.1 388.2h0M544.9 354.2h0M551.1 395.4h0M555.3 354.4h0M576.6 357.7h0M529.9 401.6h0M555.1 366.9h0M578 344.9h0M600.7 383.7h0M536.8 379.9h0M546.5 380.4h0M492.7 342.1h0M580.4 381.3h0M548.7 357h0M567.3 383.9h0M529.1 342.9h0M543.1 348.8h0M541.7 343.9h0M509.2 364.3h0M540.6 388.6h0M567.5 374h0M560.5 362.8h0M524.9 409.2h0M546.6 375.4h0M568.4 381.8h0M538.7 378.1h0M569.9 368.8h0M571 372.2h0M550.5 378.5h0M508.4 392.4h0M539.4 388.5h0M559.4 384.3h0M521.6 358.2h0M573.7 322.6h0M527.6 378.7h0M524.2 378.5h0M532.9 384.9h0M559.2 356.4h0M545.3 374.5h0M583.8 353.3h0M546 373.6h0M536.4 372.1h0M517.8 370.6h0M556.3 376h0M530.8 366.3h0M579 369h0M563.7 381h0M562.6 393.1h0M516.9 380.9h0M578.7 381.5h0M608 375.4h0M512.2 399.9h0M558.9 402.1h0M581.2 353.2h0M518.3 385h0M535.5 377.7h0M559.7 394.5h0M503.3 340h0M554.7 355.4h0M544.7 328.7h0M540.3 393.1h0M575 377h0M537.9 390.1h0M597.5 373.8h0M580.5 373.4h0M534.6 379.4h0M556.9 365.2h0M570.5 340.1h0M604.8 375.6h0M565.4 369.7h0M523.2 360.2h0M582.3 360.2h0M518.3 408.1h0M559.4 360.2h0M577.3 343h0M544.5 382.2h0M583.5 406.3h0M571.3 351h0M527.3 359.4h0M564.2 355.2h0M538.9 382.8h0M568.1 378.6h0M549 407.9h0M586 367.5h0M559.3 367.4h0M539.1 364h0M561.6 399.6h0M566.9 361.6h0M579.2 348.5h0M572.7 366.5h0M578.5 368.9h0M542.4 382.8h0M566.1 361.2h0M499.8 402.1h0M577.7 418h0M558 354.6h0M531.4 377.2h0M528.5 348.4h0M590.9 361.3h0M516.2 356.7h0M542.5 368.3h0M532.3 380.3h0M511.9 379.6h0M553.9 337.6h0M546.2 342.6h0M548.9 344.7h0M540.2 390.7h0M572 367.2h0M543.4 373.5h0M573.2 391.2h0M546.1 357.4h0M490.3 387.7h0M571.6 360h0M556.1 374.1h0M595.9 320.2h0M568.3 364.3h0M552.3 369.9h0M548.3 373.5h0M556.4 335h0M578.3 363.1h0M564.8 383.5h0M510.7 373.9h0M529 395.4h0M543.1 382.1h0M546.7 366.6h0M526.9 374.9h0M568.4 356.4h0M485.7 394.4h0M552 376.4h0M538.1 390.4h0M547.9 384.5h0M579.5 377.5h0M525.3 376.8h0M576.8 382h0M571.3 390.3h0M573.9 365.5h0M569.7 351.4h0M596 347.6h0M553.3 386.2h0M499.8 388.1h0M572.7 345h0M553.7 357.3h0M586.9 345.5h0M527.4 344.9h0M597.1 359.2h0M564.2 360.4h0M578.4 392.6h0M577.2 350.6h0M549.8 362.6h0M489.4 366.1h0M481.9 378.9h0M560.6 381.6h0M527.1 361.9h0M567.2 328h0M512.6 364.3h0M566.1 376.2h0M541.1 356.5h0M588.8 393h0M544.3 357.2h0M565.2 360.9h0M586.7 361.8h0M510.9 403.5h0M559.2 390.8h0M572.7 378.8h0M542.9 357.4h0M552.6 343.3h0M551.2 361.3h0M533.3 413.8h0M585.2 401.7h0M589.7 370.4h0M567.9 352.3h0M584.4 342.7h0M560 359.3h0M556.7 378.8h0M571.7 378h0M602.7 372.8h0M520.2 356.6h0M584.7 381.6h0M568.6 367.7h0M560.1 383.8h0M558.9 374.7h0M560.6 390.4h0M559.8 375.8h0M554.6 364.4h0M554 388.8h0M540.3 357.3h0M536.9 382.8h0M525.7 367.4h0M525.2 364.7h0M596.2 374.6h0M553.7 358.3h0M554.8 356.3h0M579.9 355.4h0M560.9 342.4h0M554 372.1h0M575.8 368.2h0M597.4 328.3h0M521.9 376.2h0M554.6 385.3h0M586.7 351.7h0M555.1 358.1h0M574.3 383.1h0M556.3 368.7h0M569.2 386h0M593 363h0M535.6 351.9h0M564.3 369.6h0M547.4 371.2h0M549.7 376.1h0M561.3 349.4h0M527.8 362.2h0M565.6 400.3h0M570.3 361.8h0M564.4 393.8h0M535.9 356.5h0M552.5 374.9h0M535.3 378.5h0M509.3 397.4h0M574.7 369.5h0M567.1 360.7h0M574.6 371.1h0M552 349.9h0M552.1 348.9h0M559.5 394h0M553.2 392.6h0M536.8 400.1h0M571.9 377.1h0M547.1 350.5h0M558.9 356.4h0M539.9 377.3h0M565.3 358.2h0M524 360.2h0M538.8 356.9h0M553.2 323.6h0M582.9 375h0M502.2 365.4h0M560.1 389.4h0M553 395.8h0M551.4 370h0M596.4 394h0M526.2 401.6h0M506.7 378.7h0M555.8 368.6h0M517.6 406.9h0M552.1 381.2h0M563.4 367.9h0M565.3 357.9h0M548.8 372h0M587.6 392h0M583.5 378.9h0M592.4 359.4h0M560.7 368.6h0M546.2 374.5h0M553.1 365.5h0M525.2 372.7h0M532 359.1h0M523.9 362.3h0M551.1 378.9h0M547.9 375.4h0M539.2 368.3h0M543.4 404h0M552.3 369.1h0M520.4 392h0M534.3 377.2h0M576.3 357.7h0M519.3 391.7h0M565.8 386.4h0M563.3 371h0M528.5 381h0M554.1 349.5h0M529.7 370.7h0M576.5 383.9h0M566.7 370.4h0M570.2 358.2h0M549 364.9h0M563.6 367.3h0M571.8 366h0M544.7 373.8h0M542 412.3h0M549.1 375.2h0M504.3 366.7h0M514.2 392.5h0M497.6 392.8h0M550.5 356.4h0M547 363.4h0M587.3 352.8h0M553.3 380.1h0M487.9 399h0M572.5 366.7h0M513.4 406.1h0M552.6 363.4h0M494 372.3h0M541.1 371.7h0M571.9 372.7h0M502.2 417.6h0M550.7 355.8h0M520.8 388.7h0M581 371.4h0M565.3 387.7h0M579.4 350.1h0M567.6 353.7h0M533.3 398.1h0M526.7 405.5h0M562.6 386.5h0M546.8 369.5h0M571.4 385.4h0M534.1 373.6h0M576.5 353.9h0M568.9 368.3h0M583.2 362.7h0M517.3 359.9h0M576.8 361.3h0M533.8 356.4h0M555.2 379h0M547.4 386.3h0M599 395.5h0M564.2 398.1h0M549.1 356.6h0M530.1 382h0M566.1 382.3h0M561 377h0M496.7 363.1h0M567.4 328.4h0M555.1 373.8h0M557.1 359.3h0M550.5 384.8h0M542.5 336.3h0M546 380.2h0M561.4 360.4h0M591.8 349.1h0M557 360.3h0M559.7 368.9h0M571.9 382h0M573 389.9h0M535.4 391.1h0M551 382.7h0M594 356.9h0M557.3 364.9h0M520.5 376.8h0M550.8 363.4h0M484.2 337h0M519.9 323.7h0M558.2 390.1h0M568.2 371.9h0M570.7 398.5h0M541.4 360.1h0M588.9 383.5h0M532.9 377.2h0M533.8 380.3h0M543 373.5h0M558.6 387.1h0M573.7 377.2h0M574.9 362.8h0M580.6 367.6h0M565.7 367.1h0M528 375.9h0M546.6 375.4h0M543.2 362h0M592.7 359.7h0M530.4 373.5h0M524.5 330.3h0M551.5 377.6h0M530.7 378.9h0M502.8 331.2h0M573.2 342.8h0M526.5 373.5h0M561.4 338.3h0M568.4 376.5h0M546.9 386.3h0M533.2 380.1h0M525.4 387.6h0M559.1 368.5h0M526.6 386.2h0M590.7 385.6h0M584.3 366.9h0M545.4 374.4h0M554.7 347.3h0M528.7 354.1h0M559.5 396h0M518.1 389.6h0M522.3 362.4h0M556.5 333.3h0M555.8 322.2h0M563.4 387.3h0M582.2 373.9h0M586.5 416h0M569.6 388.4h0M552.5 400.9h0M577.8 381.3h0M553.7 363.3h0M514.5 370h0M543.9 388.4h0M553.9 350.8h0M528.3 387.8h0M555.9 361h0M548 390.5h0M527.2 365.7h0M582.6 350.6h0M558.4 384.8h0M535.8 326.4h0M569.8 385.4h0M555.3 375.5h0M566.4 361.6h0M542.5 382h0M557.7 364h0M576.1 378.4h0M574.2 371.8h0M538.6 391.5h0M546.4 358.2h0M583.5 358.9h0M529.6 400.2h0M508.4 383h0M551.5 368.9h0M577 356.2h0M565.3 362.8h0M525.3 377.2h0M574.3 339.4h0M550.5 370.5h0M528.9 369.8h0M538 324h0M549.6 371.8h0M557.5 401.3h0M546.9 365.6h0M558.4 365.5h0M598.5 371.1h0M500.3 367.3h0M567.1 344.8h0M579.5 369.4h0M548 360.6h0M556.1 361.7h0M566.3 390.2h0M571.8 371.3h0M576.4 350.7h0M562.3 360.6h0M547.3 394.9h0M588.9 379.9h0M508.1 349.6h0M544.8 387h0M551.9 364.2h0M536.8 358.2h0M484.4 405.3h0M517.7 384.8h0M529.1 352.3h0M474 377.8h0M600.5 382.9h0M568.7 368.2h0M566.4 376.2h0M537 362.7h0M532.7 405.2h0M567.3 406.1h0M525.6 364.2h0M550.7 351h0M572.7 362.8h0M554.1 383.8h0M579.9 372h0M513.5 373.4h0M533.8 377.5h0M573.1 332.8h0M546.6 371.3h0M543.8 370.7h0M548.4 356h0M526.3 385.2h0M508 359h0M592.4 351.9h0M562.3 387.9h0M538.1 381.8h0M578 370.2h0M530.8 379h0M559.5 379.1h0M548.4 347.4h0M515.3 386.8h0M543 422.3h0M524.4 379.5h0M542 365.8h0M573.3 386.6h0M528.1 382.7h0M529 354.9h0M560.8 368.3h0M567.1 361.8h0M566.3 385.1h0M525 354.9h0M491.4 408h0M513.3 365.1h0M535.9 377.2h0M554.5 360.4h0M505.5 381.2h0M547.4 388.7h0M558.5 380h0M590.6 337.8h0M587.1 361.9h0M533.1 375.1h0M563.5 417.3h0M584.3 361.2h0M516.5 368.8h0M555.4 360h0M576.1 368.6h0M530.8 389.8h0M590.3 343.4h0M580.8 403.9h0M584.8 400h0M569.8 381.6h0M576 378.4h0M575.8 404.8h0M484 362.2h0M532.1 359.6h0M553.7 402.6h0M561.4 352.9h0M589.9 376h0M537.6 370.3h0M513.6 361.3h0M549.7 358h0M554.9 368.1h0M572.6 376.4h0M537.8 379.9h0M538.7 381.3h0M539 374.4h0M522.4 374.9h0M564 379.3h0M575.9 353.6h0M522.2 354.9h0M538 384.9h0M528.6 321.8h0M584.7 382.5h0M519.7 406.1h0M510.1 344.1h0M553.6 315.8h0M567 357.8h0M545.2 376.5h0M569.3 355.9h0M574.4 395.2h0M530.6 382.7h0M560.4 356.4h0M587.2 379.5h0M550.8 350.7h0M547.8 360.5h0M565.4 373.6h0M572.7 388.9h0M562.7 390.2h0M569.8 391.7h0M539.7 351.5h0M557.1 349h0M530.7 377.4h0M560.2 393.5h0M521.9 381.6h0M558.9 401h0M568.4 352.1h0M581.9 352.4h0M549 365.3h0M527.4 359.5h0M504.6 378.4h0M519.1 366.2h0M546.2 342.8h0M492.4 382.2h0M574 334.3h0M526.9 356.2h0M559.4 375.4h0M559.7 357.7h0M511.8 374.5h0M517.9 384h0M568.5 391.6h0M498.5 406.2h0M519 387.3h0M564.1 377.6h0M548 353.4h0M592.7 346.3h0M594.7 354.9h0M540.5 358.7h0M555 369.1h0M565.6 346.2h0M543.2 365.8h0M569.4 386.1h0M543.8 361h0M520.8 345.9h0M502.8 371.6h0M556.1 368.8h0M570.8 364.4h0M563.3 423.8h0M549.6 385.1h0M540 414.7h0M590.9 352.4h0M517.9 385.4h0M494.2 382.5h0M547.1 370.5h0M561.2 358.3h0M551.4 376.6h0M498 327.4h0M531.7 387.1h0M538.6 413h0M598.3 404.2h0M566.6 339.4h0M564.9 374.7h0M580.3 357.8h0M495.8 367.3h0M561.7 363.4h0M530.4 402.3h0M539 390.4h0M564.5 357.9h0M556.4 384.6h0M573.4 371.6h0M538.2 402.1h0M587.9 346.6h0M595.6 364.1h0M608 342.3h0M573.3 368.8h0M514.2 323.7h0M552 347.7h0M554.8 369.3h0M541 356.9h0M564.9 357.1h0M572.3 367.5h0M528.5 365h0M579.8 355.1h0M577.6 362.4h0M517.8 378.9h0M532.3 347.6h0M549 365.4h0M603 395.5h0M527 352.3h0M555.9 373.6h0M546.6 364.4h0M568.7 396.2h0M542.4 389.6h0M579.3 374.9h0M529.1 360.2h0M558.5 362.8h0M600.9 345.4h0M565.7 370.4h0M568.3 392h0M538.1 399.8h0M555.9 375.1h0M538.1 375.1h0M558.1 368.6h0M570.5 376.5h0M552.1 368.1h0M526.8 416.5h0M605.8 347.4h0M517.4 375.9h0M577.1 353.4h0M588.5 381.5h0M515.1 400.4h0M494.5 385.8h0M524.5 376.4h0M543.8 373h0M534.9 381h0M552.5 364.5h0M558.2 411.3h0M571.2 395h0M536.5 387.2h0M554.1 382.9h0M584 358.5h0M570.7 396h0M543.4 352.3h0M574.2 359h0M508.8 405.8h0M467.5 368.7h0M542.9 360.6h0M538.8 398.3h0M568 387.2h0M595.8 370.7h0M584.7 328.6h0M517.7 373.4h0M585.1 349.5h0M561.6 393.2h0M534.2 394.3h0M558.6 377.4h0M546.7 378.3h0M532.4 395.6h0M553.2 396h0M544.7 343.3h0M560.8 377.5h0M578.8 352.6h0M542.4 361.7h0M545.6 388.8h0M564.7 354.8h0M552.9 368h0M568.5 284.5h0M466.2 392.5h0M471 342h0M473.8 354h0M484 343h0M560 306h0" stroke="#6c6c6c" stroke-width="2.35" stroke-linecap="round" fill="none"/>
<path d="M466.8 376 L472.8 375.7 L478.7 375.4 L484.7 375.2 L490.7 374.9 L496.6 374.6 L502.6 374.3 L508.6 374 L514.5 373.7 L520.5 373.3 L526.5 373 L532.4 372.6 L538.4 372.2 L544.4 371.8 L550.3 371.3 L556.3 370.8 L562.3 370.1 L568.2 369.5 L574.2 368.8 L580.2 368.1 L586.1 367.3 L592.1 366.5 L598.1 365.7 L604 364.9 L610 364.1 L610 370.9 L604 371.1 L598.1 371.4 L592.1 371.7 L586.1 371.9 L580.2 372.2 L574.2 372.6 L568.2 372.9 L562.3 373.3 L556.3 373.8 L550.3 374.3 L544.4 374.9 L538.4 375.5 L532.4 376.1 L526.5 376.8 L520.5 377.5 L514.5 378.3 L508.6 379 L502.6 379.8 L496.6 380.5 L490.7 381.3 L484.7 382.1 L478.7 382.8 L472.8 383.6 L466.8 384.4 Z" fill="#999" fill-opacity="0.38"/>
<line x1="466.8" y1="380.2" x2="610" y2="367.5" stroke="#000" stroke-width="1.5"/>
<path d="M458.9 277V431.6H617.5" fill="none" stroke="#444" stroke-width="1.15"/>
<line x1="456.9" y1="318.4" x2="458.9" y2="318.4" stroke="#444" stroke-width="0.9"/>
<text x="455.3" y="320.9" font-size="7.2" fill="#424242" text-anchor="end">6</text>
<line x1="456.9" y1="365.7" x2="458.9" y2="365.7" stroke="#444" stroke-width="0.9"/>
<text x="455.3" y="368.2" font-size="7.2" fill="#424242" text-anchor="end">4</text>
<line x1="456.9" y1="413.1" x2="458.9" y2="413.1" stroke="#444" stroke-width="0.9"/>
<text x="455.3" y="415.6" font-size="7.2" fill="#424242" text-anchor="end">2</text>
<line x1="489.8" y1="431.6" x2="489.8" y2="433.6" stroke="#444" stroke-width="0.9"/>
<text x="489.8" y="440.4" font-size="7.2" fill="#424242" text-anchor="middle">2</text>
<line x1="539.6" y1="431.6" x2="539.6" y2="433.6" stroke="#444" stroke-width="0.9"/>
<text x="539.6" y="440.4" font-size="7.2" fill="#424242" text-anchor="middle">4</text>
<line x1="589" y1="431.6" x2="589" y2="433.6" stroke="#444" stroke-width="0.9"/>
<text x="589" y="440.4" font-size="7.2" fill="#424242" text-anchor="middle">6</text>
<text x="492.2" y="282.2" font-size="7.55" fill="#111">r = 0.113, <tspan font-style="italic">P</tspan> = &lt;0.001, N = 1388</text>
<text x="538.5" y="451.4" font-size="9.7" fill="#111" text-anchor="middle">log[FPI]</text>
<text x="448.3" y="354.5" font-size="10.1" fill="#111" text-anchor="middle" transform="rotate(-90 448.3 354.5)" textLength="36.4" lengthAdjust="spacingAndGlyphs">FAM20C</text>
</g>
<g id="panelF">
<text x="0.9" y="478.7" font-size="13.8" font-weight="bold" stroke="#000" stroke-width="0.45">F</text>
<path d="M117.5 553.4h0M135.7 571h0M120.7 569h0M118.3 581.4h0M105.3 557.5h0M66.6 550.6h0M99.4 545.9h0M109.6 554.1h0M131.9 527.2h0M148.3 536.7h0M137.5 573.5h0M127.9 586.5h0M148.8 575.2h0M113.6 539.9h0M131.6 588.6h0M98.9 561.9h0M107.3 547.8h0M86.8 578h0M99.8 570.7h0M91.7 571h0M104 573h0M119.5 570.8h0M122.6 550.6h0M117.4 548.6h0M126 545.7h0M119.4 569.6h0M99.2 564.1h0M149.5 581.5h0M64.6 553.3h0M145.7 549.7h0M85.1 557.1h0M142.6 556h0M120.6 551.8h0M67.3 580.8h0M132.8 557.8h0M160.5 538h0M121.1 559.4h0M64.4 564.1h0M85.4 560.3h0M110.3 552.7h0M138.6 578.5h0M87 544.8h0M113.9 567.9h0M122.5 570.2h0M120.5 571h0M87.1 592h0M124.9 541.6h0M132.7 544.9h0M81.6 563.9h0M48.2 568.1h0M141.2 544.1h0M102.4 548.1h0M124.2 599.5h0M44.2 570.6h0M110.6 567h0M110.3 580.9h0M134 583.5h0M112 554.2h0M114.9 561.2h0M148 529.6h0M100.5 549.5h0M128.4 560.5h0M134.8 565.2h0M121.7 538h0M123.9 520.8h0M137.5 533.9h0M101.9 523.9h0M100 529.7h0M95.8 554.9h0M120.6 563.1h0M108.3 579.3h0M130.7 557.7h0M132.2 542.9h0M112.5 559.3h0M116.2 547.2h0M113 585.6h0M46.4 589.6h0M95.6 530.9h0M160.6 549h0M149.3 611h0M99.2 590.6h0M102.7 553.2h0M118.7 507.2h0M99.6 567.4h0M90.5 563.1h0M125.9 552.2h0M94.7 579.8h0M138.3 571.1h0M128.4 549.3h0M108.9 553.2h0M81.3 563.4h0M84.6 549.4h0M102.1 525.2h0M97.7 536.7h0M94.1 564.9h0M98.3 543.1h0M85.6 543.1h0M68.3 540.3h0M112 566h0M115.4 521.9h0M84.3 559.6h0M86.1 551.4h0M100.4 596.3h0M120.3 549.7h0M131.7 530.8h0M129 561.8h0M133.6 558.5h0M66 567.1h0M43.9 568.5h0M88.4 590h0M129.8 544.7h0M97.6 561.7h0M90.6 555.1h0M124.7 527h0M164.1 519.6h0M87.4 541.6h0M66.2 552h0M146.1 520.1h0M118.7 576.1h0M135.2 550.6h0M112.4 539h0M92 543.9h0M118.6 554.6h0M84.8 545.8h0M137.2 536h0M128.1 520.1h0M144.5 551.9h0M91.3 582.4h0M143.1 509h0M113.7 543.4h0M98.7 555.4h0M142.1 539.4h0M104.9 588.9h0M97.6 557.2h0M95.1 508.7h0M118.8 560h0M138 520.2h0M129.8 565.1h0M90.5 555h0M123.3 584.5h0M138.9 537.2h0M97.1 560.4h0M121 578.6h0M57.8 552.6h0M115.3 537.5h0M110.8 543.7h0M156.7 554.6h0M129.8 546.8h0M145.8 558.7h0M140.7 569.8h0M94.8 541.4h0M142.7 527.6h0M130.7 538.4h0M140.2 508.4h0M122.2 540.8h0M117.9 545.5h0M40.3 510.9h0M119.6 553.1h0M93.3 553.1h0M113.6 527.9h0M102.9 546.5h0M125.1 526.3h0M166 564.2h0M105.1 548.1h0M144.6 557.7h0M151.8 571.6h0M37.2 572.2h0M71.5 554h0M131.4 555.5h0M107.5 544.8h0M80.5 552.9h0M105.8 596.8h0M79.9 536.3h0M92.4 551h0M143.5 553.5h0M122.8 558.8h0M93.4 564h0M104.3 519.6h0M56 539.3h0M131.8 549h0M92.9 558.3h0M112.4 561.2h0M140.1 556.3h0M131.5 524.3h0M98.6 534.5h0M128.7 563.3h0M128.6 574.6h0M137.5 537h0M30.2 517.2h0M102 540.2h0M139.5 553.2h0M115.8 542.7h0M108.8 547.9h0M70.5 559.1h0M152.6 535h0M110.6 531.5h0M149.3 546.9h0M116.4 577.2h0M135.1 524.1h0M115 574.5h0M64.9 556.5h0M100.1 575h0M74.9 543.2h0M81.9 540.7h0M113 530.6h0M102.8 555.3h0M81.7 554.9h0M113.3 548h0M113.4 551.5h0M95.3 559h0M135.1 537.9h0M130 572.7h0M124 507h0M120.2 543.6h0M106.1 558.6h0M126 546.5h0M162.5 551h0M105.6 508.2h0M103.5 546.9h0M131.2 546.7h0M123.2 511.2h0M90.8 561h0M66.2 534.6h0M129.4 526.1h0M134.5 529.9h0M63.5 556.6h0M119.1 538.7h0M84 565.9h0M126.6 569.9h0M116 545.4h0M89.9 564.1h0M145.2 576.1h0M94.6 526.4h0M85.4 505h0M122.8 577.4h0M118.4 537.1h0M104.1 595.5h0M65.9 574.2h0M113.6 564.5h0M91.4 546.8h0M118.7 551.5h0M130.1 563.2h0M114.5 541.9h0M83.8 548h0M125.1 552.9h0M100.4 525.7h0M115.3 546.8h0M125.6 554.7h0M145.9 550.1h0M68 556h0M130.1 548.7h0M141.4 519.9h0M68.5 528.8h0M107.2 521.9h0M103.6 558.6h0M118.5 566.1h0M109.2 554.2h0M83.2 498.2h0M86.5 541.4h0M126.5 570.3h0M63.6 561.7h0M128.9 562.6h0M128.9 563.6h0M117.6 535.2h0M119.3 555.3h0M107.5 557h0M154 521.5h0M91.7 536.3h0M152.2 548h0M150.6 579.8h0M131.5 577.3h0M90 553.7h0M118.6 552.7h0M100.9 553.5h0M84.7 578.9h0M93.4 541.4h0M109.6 560.7h0M136.6 572.2h0M91.9 548.8h0M107.3 548.8h0M111.8 550.1h0M87.6 595.2h0M80.5 552.7h0M123.7 547.7h0M97.3 568.7h0M114.2 540.9h0M138.2 545.8h0M71.8 549.3h0M107.5 549.8h0M145 556.4h0M130.9 554.4h0M116.3 580.3h0M99.7 546h0M93 564.1h0M118.2 553.4h0M149.1 559.7h0M95.1 573.7h0M113.1 546.1h0M150.4 537.5h0M126.7 557.6h0M128.6 579h0M67.2 548h0M124.6 535.4h0M82.8 605.6h0M104.1 534h0M108.7 564.9h0M119.4 543.1h0M107.6 563.2h0M91.9 578.3h0M120.4 573.7h0M103.8 562.1h0M113.5 571.4h0M126.6 554.3h0M70.1 584.1h0M94 594.9h0M128.9 597h0M91 554.9h0M127 562.7h0M103.5 535.2h0M82.2 531.1h0M96.5 563.2h0M117.4 533.7h0M89.3 555.3h0M122.9 536.4h0M81.5 536.1h0M96.8 535.6h0M130.2 532.7h0M120.5 556.3h0M141.7 567.1h0M94.5 549h0M97.9 554.6h0M125.6 588.3h0M104.6 562.5h0M149 593.4h0M86.1 594.5h0M49.8 579.9h0M113.1 561.8h0M131.4 527.6h0M111.2 566.4h0M143.5 536.6h0M144.8 516h0M50.1 554.9h0M129.6 570.4h0M91.6 564h0M124 564.3h0M136.1 564.5h0M114 574h0M138.2 536h0M154.3 522h0M127.6 554.2h0M143 568.2h0M101.3 553.7h0M112.4 542.1h0M100.3 539.7h0M114.8 540.6h0M72.5 545.7h0M141.9 535.2h0M88.7 557.8h0M137.2 526.8h0M130.1 557.3h0M100.9 562.5h0M112.7 575.8h0M122.2 525.7h0M91.6 526h0M119.2 533.2h0M66.8 534.2h0M52.9 559.7h0M122.1 570.3h0M120.2 568.7h0M84.6 532.9h0M113.8 553.9h0M113.8 542.1h0M119.8 553.1h0M91.9 544.1h0M103.8 592.9h0M39.5 588.9h0M104.7 551h0M131.5 550.4h0M88.2 576.4h0M109.9 542.9h0M130.8 548.5h0M132.4 539.7h0M167.1 550.9h0M132.4 579h0M93.4 537h0M90.1 535.4h0M70.9 538.2h0M92.5 544.9h0M125.7 531.2h0M117.3 533.9h0M104.8 531h0M114.5 566.3h0M153.2 557.6h0M130.5 542.5h0M106.9 559.6h0M140.9 552.6h0M141.7 548.4h0M60.4 542.5h0M92.8 567h0M105.5 552.5h0M130.6 549.2h0M127.1 542.5h0M137.2 555.6h0M149.1 550h0M109.7 534.5h0M100.7 544.7h0M151.1 519h0M142.4 531.5h0M131.3 524.8h0M143.4 548.3h0M128.6 572.2h0M91.9 549.3h0M140.5 550.1h0M34.4 541.7h0M78.5 535.3h0M124 541.6h0M70.8 537.3h0M116.7 550.8h0M163.3 560.4h0M167.4 574.2h0M145.4 578.3h0M130.4 567.9h0M79.2 606.4h0M125.9 557.3h0M124.2 535.8h0M41.5 518.6h0M132.5 556.7h0M143 574.6h0M156.7 576.4h0M103.5 555.2h0M116.3 589.4h0M133.2 553.8h0M101.7 548.5h0M144 548h0M139.2 554h0M133 562.6h0M118.3 534.6h0M89.9 538.8h0M130.8 571.4h0M81.7 546h0M139.1 571.1h0M65.1 566.9h0M119.5 558.6h0M150.7 584.6h0M118.3 551.5h0M85.3 566h0M122.4 566.5h0M162.9 579.9h0M140.4 537.9h0M138.3 552.3h0M52.5 598.4h0M102.3 566.1h0M85 577.2h0M72.1 598.3h0M146.3 537h0M70.9 556.4h0M120.7 593.3h0M72.8 565.1h0M90.1 542h0M133.7 560.4h0M114.7 565.5h0M71.5 542.9h0M132.4 543.3h0M122.6 568.3h0M147.5 572h0M135.3 524h0M122.7 539.6h0M131.6 548.6h0M152.2 552.9h0M87.5 554.6h0M128.4 540.4h0M98.8 560.1h0M115.3 522.4h0M85.9 542.4h0M143 552.9h0M151.4 552.1h0M152.2 549.1h0M120.1 563.4h0M109.1 557.1h0M127.2 548.4h0M120.2 578.7h0M86 552.9h0M150.6 593h0M94.3 529h0M118.2 567.8h0M132 533.3h0M117.8 508.1h0M116.4 538.6h0M131.6 507.4h0M109.8 546.1h0M140.3 551h0M93.8 527.6h0M136.4 545.4h0M123.6 560.5h0M131.2 535.8h0M146.5 566.8h0M66.8 544.9h0M59.1 586.1h0M112.2 553.6h0M130.7 532h0M97 574h0M105.1 558.2h0M138.8 529.1h0M103.2 607.1h0M91.3 548.3h0M133.8 568.3h0M128.7 595.6h0M104.8 543.8h0M110.5 534.8h0M86.2 562.8h0M128.4 515.8h0M42.1 575.1h0M65.1 533.2h0M122.4 592.3h0M99.9 537.2h0M110.7 533.5h0M75.3 590.3h0M124.2 520.4h0M114.1 554.6h0M132 560.6h0M117.2 567.7h0M122.8 554.5h0M154.6 530.4h0M120.1 567.1h0M116.8 561.5h0M98.5 585.1h0M121.4 537.4h0M97.4 597.5h0M92.3 569.9h0M160.2 543.4h0M98.4 564.8h0M117.6 552.6h0M87.8 505.8h0M136.9 542.6h0M133.3 558.6h0M105.6 562.5h0M136.8 559.2h0M35.7 537.8h0M129.1 525.2h0M118.9 542.1h0M149.2 557.2h0M96.8 553.3h0M142.2 557.9h0M73.7 545.5h0M92.2 545.9h0M147.1 542.6h0M98.9 546.9h0M98.3 545.3h0M52.8 555.6h0M40.7 550.6h0M149.3 573.1h0M132.8 541.6h0M108.7 528.6h0M140.4 563.9h0M112.1 580.1h0M134.5 550.3h0M86.5 536.4h0M126.1 565.3h0M102.9 537.9h0M101.3 552.9h0M126 545.8h0M122.1 534.8h0M118.2 566.4h0M122.3 558.8h0M106.3 551.8h0M92.7 559.4h0M85.9 536.8h0M118.5 545.2h0M91.7 560.1h0M133.8 563.8h0M104.9 525.2h0M103.4 566.6h0M129.3 536.2h0M164.2 493.5h0M132.2 565.5h0M87.3 572.5h0M111.7 525.7h0M109.7 566.7h0M148.5 553.4h0M101.2 567h0M64.5 586.3h0M97.3 574.2h0M146.6 556.5h0M151.2 520.5h0M125.4 541.9h0M55.9 548.2h0M109.7 544.3h0M61.2 566.5h0M138.3 562.1h0M132 582.1h0M155.5 583h0M102.4 534.3h0M146.6 591.5h0M95.9 554.8h0M88 548.8h0M133.4 524.9h0M84.4 557.8h0M103.8 591h0M116.8 553.8h0M48.1 572.8h0M146.1 564.1h0M140.1 569.3h0M150.8 540.6h0M138.9 540.1h0M142.8 563h0M117 580.6h0M79.4 538.3h0M124.8 564.9h0M97.3 571.1h0M130.4 563.8h0M39.6 547.1h0M124.6 587.3h0M134.4 576.6h0M139.7 563.2h0M79.6 552.5h0M140 532.9h0M86.9 548.8h0M100.1 555.8h0M66.7 541.5h0M97.4 571.7h0M98.4 535.4h0M98.3 581.3h0M118.4 543.4h0M140.2 540.5h0M136.5 545.6h0M142.6 566.8h0M118 582.9h0M100.8 537.6h0M138.4 563.3h0M87 548.5h0M111.3 533h0M144.3 534.1h0M138.1 572h0M123.9 531.9h0M136.1 542.8h0M113.2 555.1h0M131.5 594.3h0M91.1 521.2h0M93.3 559.2h0M110.7 556.8h0M106.7 527.8h0M115.7 546.7h0M36.6 552.9h0M100.1 563.6h0M88.8 550.1h0M72.9 541.1h0M125.9 556.4h0M110.7 583.4h0M164.1 514.9h0M159.6 552.5h0M125.9 549.5h0M145.1 551.1h0M100.7 579.6h0M157 534.6h0M147.8 510.7h0M92.5 551.4h0M79.2 520.1h0M103.7 580.4h0M104 576.4h0M116.3 536.4h0M99.3 554.2h0M145.6 507h0M91.6 552h0M117.6 545.8h0M117 583.9h0M129.9 566h0M47.4 563.5h0M128.8 570.9h0M94.1 548.4h0M157.2 569.9h0M110 535h0M100.9 538h0M106.4 585.2h0M116.3 563.4h0M92.7 542.9h0M121.8 578.9h0M119 541.2h0M94.5 557.5h0M151.7 514.4h0M135.5 570.2h0M101.8 533.8h0M130.4 529.6h0M104.8 502.5h0M90.7 525.6h0M84.4 566.7h0M107.6 533.5h0M122.6 531.8h0M127.2 553.1h0M124.6 550.2h0M101.3 556.2h0M72.6 550.9h0M133.4 582h0M103.5 535.4h0M96.7 543.4h0M139.5 547.9h0M95.2 563.3h0M114.9 577.4h0M116.6 553.9h0M116.1 566.4h0M156 557.9h0M111.9 601.7h0M141.4 533.6h0M130.4 590.9h0M93.1 554.3h0M47.8 561.2h0M128.5 564h0M128.2 573.2h0M125.2 542.2h0M157.6 549.1h0M90.1 528.7h0M130.1 587h0M134.5 556.7h0M61.8 555.5h0M114.5 530.6h0M121.1 549.3h0M105.4 564h0M97.8 574.2h0M145.3 556.6h0M108.1 556.2h0M131.6 535.2h0M124.9 535.6h0M102.7 554.4h0M151.3 499.3h0M147.1 543.5h0M107.4 554.5h0M96.9 580.3h0M126.2 530.9h0M131.2 565.4h0M109.9 589.8h0M57.8 562.1h0M101.8 568.8h0M108.7 563.4h0M90.1 527.7h0M112.3 569.9h0M138.3 536.8h0M133.2 546.3h0M115.3 553.6h0M130 556.2h0M124.3 574.5h0M108.3 554.5h0M153.7 582.4h0M115.9 558.5h0M102 545.4h0M83 562.5h0M123.3 540.9h0M99.4 567.4h0M166.7 540h0M105.7 548.6h0M110.9 569.5h0M106.2 524.8h0M116.6 566h0M118.1 545.3h0M63.2 575.4h0M140.2 562.2h0M109.9 538.6h0M152.1 559h0M119.5 579.3h0M117.6 547.1h0M102.8 566.5h0M94.4 593.4h0M117.2 522.8h0M124.4 546.7h0M73.5 606.6h0M103 551.7h0M145.5 549.7h0M116 536.8h0M103.4 510.1h0M103.7 566.3h0M65.9 573.7h0M113.6 574.3h0M75 571.3h0M124.6 536.7h0M131.8 521.7h0M116.3 557.4h0M118.3 576.7h0M133.1 563.5h0M151.5 566h0M87.4 602.8h0M94.9 546.5h0M104.7 551.2h0M86.3 570.3h0M108.5 547h0M106.1 542.1h0M113.1 541.5h0M121.7 563.7h0M100.2 532.7h0M138.4 546.6h0M144.9 559.6h0M111.5 539.7h0M99.8 538.5h0M125 556.1h0M100.7 558.1h0M110.2 531.8h0M54.3 540.9h0M79.9 570h0M138.1 538.8h0M111.5 553.1h0M150.1 549.3h0M111.4 564.9h0M109.7 545.3h0M108.6 525.8h0M108.7 579.8h0M113.7 549.4h0M136.8 554.4h0M129.7 560.4h0M100.4 547.1h0M109.2 523h0M97.7 539.1h0M100.2 544.4h0M120.4 563.7h0M124.1 547.5h0M134 564.5h0M117.4 537h0M113.9 554.8h0M94.1 536.2h0M98.9 565.6h0M124.9 549h0M107.6 548.7h0M130.7 536h0M155.3 545h0M134.3 528.2h0M107 577.7h0M54.4 563.9h0M148.3 546.2h0M61 525.4h0M106.7 560.2h0M141.4 538h0M120.4 579.8h0M103.6 571.3h0M121.6 532.2h0M117.9 549.4h0M103.6 569.9h0M119.2 578.6h0M130.2 537h0M126.2 572.5h0M118.6 532.1h0M131.3 569h0M100.5 579.1h0M61.2 552.3h0M65.7 562.6h0M109 547.3h0M102.7 545.3h0M122.8 556.4h0M134.4 558.8h0M94.2 561.5h0M53.7 528h0M89.7 531.1h0M151.6 558h0M138.9 513.6h0M129.7 506.4h0M123 531.1h0M162.9 569.8h0M133.9 562.3h0M130.1 600.6h0M103.8 548.8h0M142.2 541.5h0M122.4 548.3h0M135.1 529.9h0M101.4 569.4h0M89.4 539.8h0M150.3 538.4h0M114 555.9h0M96.4 539.1h0M47.7 569.3h0M120.1 564.2h0M100.5 566h0M97.7 553.4h0M134.7 527.6h0M132.8 551.6h0M134.9 534.4h0M143.1 527.2h0M121 508.9h0M125.4 568.1h0M128 529.9h0M115.7 583.1h0M114.9 551.7h0M156.7 540.1h0M133.8 552.7h0M137.5 576.9h0M157.6 510.9h0M88.2 561.4h0M113.6 545.3h0M116.3 536h0M84.1 496.8h0M127.8 536.7h0M146.5 535.7h0M111.1 553.3h0M128.7 565.7h0M91.1 560.5h0M107.2 549.1h0M137 578.7h0M161.9 532.7h0M81.1 555.1h0M99 548.4h0M147 561.7h0M98.5 566.1h0M136.8 550.7h0M107.2 563.2h0M118.6 557.4h0M142.3 541.2h0M132.9 567.2h0M80.5 547.1h0M145 541.5h0M123 564.2h0M122.5 539.1h0M139.1 552.5h0M121.4 593.5h0M106.7 567.5h0M138.5 537.6h0M99.3 539.3h0M152.7 566.9h0M115.1 562.7h0M110.3 539.2h0M124.6 570.4h0M134 587.2h0M86.9 589h0M124 597.3h0M68.9 535.6h0M139.7 568.7h0M136.2 583.7h0M115.9 560.5h0M133.1 547.8h0M83.4 591.2h0M149.6 529.5h0M83.2 552.9h0M106.7 561.1h0M100.9 547.3h0M126 554.1h0M96.2 569.3h0M104.3 576.5h0M148.2 551.1h0M132.9 533.9h0M154 527.7h0M119.4 539.1h0M141.5 537.9h0M96.4 542.8h0M123.7 597.5h0M103.9 548.7h0M99.2 552.4h0M114.6 563.7h0M136.6 517.2h0M143.8 543h0M132.9 568.6h0M122.2 542.1h0M140.9 579.2h0M130.8 542.8h0M115.4 559.7h0M134 575.5h0M49.4 586.7h0M98.8 556.8h0M124 555.5h0M130 564.5h0M120.6 547.1h0M63.8 539.5h0M104.7 569.9h0M166.4 581.5h0M98.7 559.1h0M124.6 549.7h0M138.6 534.9h0M92.1 545.4h0M130.3 547.6h0M119.7 560.6h0M126.2 575.8h0M145.5 553.1h0M139.1 558.8h0M45.9 537.5h0M60.4 560h0M129.3 584.2h0M106.3 543.8h0M85.7 526h0M134.7 570.9h0M106.3 577.6h0M154.5 563.1h0M106.4 546.7h0M133.3 562.2h0M132.8 520.3h0M116.8 554.9h0M140.4 540.8h0M117.2 583.7h0M100.3 539.2h0M121.4 585.3h0M118.2 591.2h0M136.9 604.6h0M75.5 582.4h0M109.7 534.4h0M114.5 549.3h0M117.4 569h0M105.1 560.4h0M151.7 534.9h0M94.9 551.4h0M149.2 530h0M136.1 563.1h0M154 549.8h0M48.4 591.7h0M117.6 564.9h0M129.8 543.4h0M110.4 575.7h0M106 518.5h0M143.1 513.8h0M57.2 540.9h0M119.4 561.9h0M131.7 582.4h0M136.4 565.1h0M126 561h0M82.5 555.5h0M95.8 527.2h0M103.1 538.5h0M121.2 570.3h0M99.2 559.8h0M104.4 545.2h0M151.3 550.9h0M141 542.2h0M121 523.6h0M80.1 552.2h0M122 543.4h0M108.2 534.8h0M155.5 546.1h0M67.8 551.3h0M99.9 558.6h0M139.5 552.7h0M159.8 554h0M154.9 547.9h0M117.8 533.4h0M130 551.2h0M108 553.8h0M134.5 567.5h0M112.7 554.4h0M123.7 534.4h0M148.5 564.4h0M111.4 552.7h0M95 576.3h0M125.1 586.5h0M84.2 567.8h0M89.8 535.1h0M131.8 527.7h0M119.8 561.3h0M70.9 530.2h0M105.2 546.7h0M148.5 557.1h0M123.9 539.4h0M132.5 539.1h0M123.8 552.1h0M156.4 545.2h0M83 547h0M127.3 560.8h0M103.9 543.7h0M72.9 552h0M118.4 572.6h0M82.8 568.7h0M105.3 554.4h0M65.4 553.1h0M135 556.4h0M105.4 559.7h0M68.8 535h0M140.7 581.3h0M134.9 537.5h0M115.6 579.1h0M74.9 566.4h0M105.4 553.6h0M75.9 548.4h0M102.6 557.3h0M100.6 575.5h0M121.3 560.5h0M81.7 576.3h0M103.4 561.8h0M117.1 536.3h0M123.4 562.1h0M88.1 567.1h0M130.6 550.4h0M106 540.3h0M132.1 541h0M92.6 563.9h0M97.9 541.1h0M129.4 580.7h0M87.5 575.5h0M157.7 523.6h0M134 536.1h0M92.5 556.2h0M148.3 518.6h0M88.5 551.3h0M142.7 576.3h0M165.2 568.2h0M118.7 536.8h0M131.7 564.7h0M93.2 570.6h0M91.3 544.1h0M131.3 569.8h0M116.8 544.2h0M70 520.9h0M75.2 574.5h0M135.4 570.5h0M142.4 537.9h0M55 584.1h0M168.2 534.5h0M132.2 558.6h0M128.2 517.7h0M136 560.4h0M92 571.9h0M107.5 557.8h0M120.2 566h0M89.7 560h0M101.1 569.6h0M100.4 546.1h0M119.2 544.7h0M135.9 522.1h0M49.7 545.2h0M122.5 548.6h0M133.7 534.8h0M121.9 580.2h0M138.9 548.1h0M139.6 598.8h0M112.1 563.1h0M168.4 528.7h0M117.8 553.1h0M119.5 564.8h0M117.1 570.4h0M76.5 579.2h0M135.4 540.3h0M125.8 579.6h0M117.9 552.9h0M153.4 576.9h0M121 550h0M76.2 555.2h0M120.4 562.4h0M127.2 543.1h0M66.5 556.3h0M124.6 559.3h0M144 523.8h0M106.2 540.2h0M68.9 548.9h0M108.5 581h0M114.9 556h0M126.5 552.6h0M122.3 542h0M135.2 559.5h0M100.7 549.8h0M130.6 568.1h0M94.2 547.5h0M116.9 553h0M151 567.8h0M87.4 567.5h0M105.4 512.8h0M125.5 556.3h0M72.4 555.3h0M103.7 525.5h0M106.4 521.5h0M132.4 567.6h0M118.2 558.9h0M112.2 546.6h0M81.9 580.5h0M91.8 528h0M90.8 591.7h0M139.3 537.1h0M142.2 575.6h0M126.2 542.4h0M112.7 546h0M123.3 557.9h0M125.3 549.2h0M119.2 569.5h0M81.1 577h0M139.9 543.3h0M126.2 550.3h0M111.3 554.1h0M112 580.9h0M90.3 554.3h0M113.8 570h0M160.1 550.5h0M127.2 540.3h0M144.1 526.8h0M135.2 558.9h0M99.8 562.2h0M96.2 558.7h0M120 587.7h0M118.9 565h0M52.8 585.8h0M165.4 560.9h0M118.4 539.6h0M121.4 571.1h0M108.3 525.9h0M109 550.4h0M144.1 517.7h0M69.6 580.9h0M109.2 576.3h0M101.9 517.9h0M156.4 537.6h0M96.7 543.7h0M137.3 522.8h0M159.7 547.4h0M120.5 548.8h0M141.8 530.1h0M102.7 518.3h0M140.5 528.5h0M126.5 556.2h0M141.8 509.7h0M97.3 553.7h0M84.4 558h0M138 569.3h0M125.5 549.2h0M147.5 556h0M132.5 574.7h0M139.2 534.7h0M124.2 552.5h0M54.6 589.1h0M79.4 536.5h0M143.7 510.7h0M127.6 526.9h0M83.2 529.6h0M146.2 544.9h0M134.1 551.5h0M85 491.8h0M100.8 582.5h0M109.3 586.1h0M128.5 572h0M113.4 550h0M104.7 561.1h0M128.9 541.5h0M115.6 537.6h0M142.4 539.8h0M118.9 560.6h0M134 537.8h0M144.4 538.8h0M97.7 582h0M122.6 547.7h0M139.4 567.9h0M128.1 558.9h0M123 546h0M112.4 542h0M133.9 582.6h0M99.2 540h0M96.4 572.2h0M115 546.9h0M137.3 546.5h0M135.3 575.6h0M123.8 506.4h0M130.1 533.5h0M47.3 540.8h0M133.9 563.3h0M90.4 544.1h0M154.1 553.9h0M142.3 562.4h0M117 605.5h0M148.1 566.7h0M111.5 515.9h0M113.4 599.3h0M130.1 552.6h0M97.7 539.2h0M95.5 558h0M142.2 536.5h0M81.3 549.1h0M136.8 527.5h0M83.1 547.4h0M134.9 513.5h0M94.1 574.2h0M124.5 553.6h0M87.7 567.7h0M95.3 560.3h0M135.1 549h0M105.1 574.7h0M137.4 586.3h0M89.9 548.9h0M120.5 574h0M142.3 546.2h0M126.8 538.8h0M117.5 564.2h0M139.9 553h0M132.7 550.3h0M71.9 500.5h0M99.7 540.6h0M128.2 553.9h0M117.4 563.8h0M52.9 566.6h0M102.2 545.1h0M102.8 565.7h0M112.9 533.7h0M140.7 562.8h0M105.5 582.5h0M115.2 546.2h0M121.1 536.8h0M127.5 568.7h0M118.8 550.9h0M125.7 552h0M108.2 567.3h0M65.2 550.6h0M111.8 564.4h0M120.2 541.7h0M119.4 557.3h0M123.6 563.6h0M118.9 558.1h0M58 566.5h0M124.6 550.4h0M79.5 544.9h0M107.1 560.8h0M77.3 530.6h0M121.9 552h0M103.3 568.6h0M110 567.7h0M113.6 570.9h0M96.5 550.3h0M143.2 544.6h0M67.1 548.3h0M102.3 546.1h0M119.6 557.9h0M130 578h0M89.3 554h0M122.8 577.2h0M167.8 562.4h0M121.1 521.3h0M136.9 562.3h0M120.5 545.7h0M110.4 555.1h0M108.8 542.4h0M81.6 546.9h0M77.4 587.5h0M137.9 579.6h0M131.1 547.1h0M97.7 534.1h0M164.5 540.5h0M106 544.3h0M90.7 564.5h0M99 584.7h0M125.7 529h0M97.9 561.6h0M63.2 555.4h0M101.7 550.2h0M142.4 564.5h0M59.6 545h0M150.6 538.6h0M72.9 553.3h0M111.6 534.4h0M136.9 544.5h0M130.5 565.6h0M159.3 516.8h0M91 574.5h0M99.4 575.9h0M96.2 546.2h0M114.9 564.2h0M96.4 538.7h0M130.5 546.4h0M113 541.5h0M105.7 569.7h0M126.9 559.4h0M102.3 581h0M134.3 529.3h0M92.1 553.9h0M111.1 548h0M146 529.1h0M145.5 582.1h0M125.3 555.4h0M86.3 562h0M131.2 577.3h0M114.8 546.5h0M94.1 580.6h0M116 526.3h0M153.7 590.6h0M85.8 569h0M143.3 535.1h0M108 535.5h0M87.2 596.3h0M105.7 540.3h0M118.8 587.7h0M104.2 562h0M125.6 558.8h0M95.1 553.9h0M110.1 523h0M84.4 538.7h0M64.5 545.1h0M125.1 580.1h0M125.2 524.5h0M107.5 538.7h0M123.8 561h0M73.2 554.9h0M100.2 548h0M121.8 538.9h0M114.4 527.5h0M94.1 543.7h0M143.8 534.8h0M134.9 545.3h0M113.7 539.5h0M134.3 529.4h0M139.6 573.9h0M91.5 522.9h0M126.7 565.8h0M123.9 542.1h0M115.6 544.8h0M138.2 519.7h0M91.7 540.2h0M103.9 547.4h0M110.9 521.5h0M30.2 491.5h0M117.5 624.5h0M37.5 536h0M47.5 531h0M72 505h0M69 505h0M75.5 505.2h0M118.5 488.5h0" stroke="#6c6c6c" stroke-width="2.35" stroke-linecap="round" fill="none"/>
<path d="M30.9 553.3 L36.6 553.2 L42.4 553.2 L48.1 553.1 L53.9 553 L59.6 553 L65.4 552.9 L71.2 552.8 L76.9 552.7 L82.7 552.6 L88.4 552.5 L94.2 552.3 L99.9 552.1 L105.7 551.9 L111.4 551.6 L117.2 551.3 L122.9 550.9 L128.7 550.5 L134.4 550 L140.2 549.5 L145.9 548.9 L151.7 548.4 L157.4 547.8 L163.2 547.2 L168.9 546.6 L168.9 553.4 L163.2 553.4 L157.4 553.5 L151.7 553.5 L145.9 553.6 L140.2 553.7 L134.4 553.8 L128.7 553.9 L122.9 554.1 L117.2 554.3 L111.4 554.6 L105.7 555 L99.9 555.4 L94.2 555.8 L88.4 556.3 L82.7 556.8 L76.9 557.3 L71.2 557.8 L65.4 558.4 L59.6 558.9 L53.9 559.5 L48.1 560 L42.4 560.6 L36.6 561.1 L30.9 561.7 Z" fill="#999" fill-opacity="0.38"/>
<line x1="30.9" y1="557.5" x2="168.9" y2="550" stroke="#000" stroke-width="1.5"/>
<path d="M24 482V631.3H176" fill="none" stroke="#444" stroke-width="1.15"/>
<line x1="22" y1="484.4" x2="24" y2="484.4" stroke="#444" stroke-width="0.9"/>
<text x="20.4" y="486.9" font-size="7.2" fill="#424242" text-anchor="end">8</text>
<line x1="22" y1="533.2" x2="24" y2="533.2" stroke="#444" stroke-width="0.9"/>
<text x="20.4" y="535.7" font-size="7.2" fill="#424242" text-anchor="end">6</text>
<line x1="22" y1="581.6" x2="24" y2="581.6" stroke="#444" stroke-width="0.9"/>
<text x="20.4" y="584.1" font-size="7.2" fill="#424242" text-anchor="end">4</text>
<line x1="22" y1="630" x2="24" y2="630" stroke="#444" stroke-width="0.9"/>
<text x="20.4" y="632.5" font-size="7.2" fill="#424242" text-anchor="end">2</text>
<line x1="53.2" y1="631.3" x2="53.2" y2="633.3" stroke="#444" stroke-width="0.9"/>
<text x="53.2" y="640.1" font-size="7.2" fill="#424242" text-anchor="middle">2</text>
<line x1="100.9" y1="631.3" x2="100.9" y2="633.3" stroke="#444" stroke-width="0.9"/>
<text x="100.9" y="640.1" font-size="7.2" fill="#424242" text-anchor="middle">4</text>
<line x1="148.6" y1="631.3" x2="148.6" y2="633.3" stroke="#444" stroke-width="0.9"/>
<text x="148.6" y="640.1" font-size="7.2" fill="#424242" text-anchor="middle">6</text>
<text x="46.3" y="480" font-size="7.55" fill="#111">r = 0.061, <tspan font-style="italic">P</tspan> = 0.022, N = 1388</text>
<text x="100.3" y="649.6" font-size="9.7" fill="#111" text-anchor="middle">log[FPI]</text>
<text x="13.3" y="556.2" font-size="10.1" fill="#111" text-anchor="middle" transform="rotate(-90 13.3 556.2)" textLength="36.4" lengthAdjust="spacingAndGlyphs">FAM20C</text>
</g>
<g id="panelG">
<text x="214.6" y="478.7" font-size="13.8" font-weight="bold" stroke="#000" stroke-width="0.45">G</text>
<path d="M334.9 565.9h0M316.7 553.1h0M294.4 537.2h0M312.1 580.6h0M320.6 587.7h0M316.8 592.4h0M316.6 566.7h0M306.8 556.7h0M340.5 581.2h0M311.4 605.9h0M347.2 591.8h0M308.2 582.3h0M280.6 569.4h0M299 599.5h0M329 583.8h0M328.7 564.3h0M330.8 562.4h0M332.4 570.4h0M346.7 594.7h0M313.5 600.6h0M349.6 568h0M324.3 582.5h0M316.5 621.8h0M344.6 556.2h0M358.7 562.5h0M282.9 577.7h0M345.7 586.2h0M333.9 552.9h0M303.5 588.2h0M310.9 558.1h0M316.2 603.5h0M318.8 578.6h0M347.4 563.7h0M351.6 598.7h0M302.2 582.2h0M282.2 569.4h0M300.9 605.4h0M331.1 571h0M330.2 586.1h0M341.7 597.5h0M340.6 555.6h0M338.8 588.6h0M294.9 605.4h0M341.9 611.2h0M308.6 552.6h0M346.1 589.3h0M336.3 611.9h0M330.3 584.5h0M333.1 579.1h0M330.7 573.3h0M319.9 553.8h0M302.5 602h0M335 558.8h0M330.5 550.4h0M330.9 590.6h0M316 607h0M336.2 591.2h0M313.2 593.3h0M302.9 566.9h0M338 576.7h0M318.4 574.4h0M306.8 557.9h0M315.5 585.7h0M361.4 547.2h0M331.4 573.6h0M315.4 602.3h0M307.3 579.4h0M309.5 578.2h0M320 591.7h0M285.4 550.2h0M316.8 585h0M317.1 597.8h0M304 590.4h0M315.8 568.4h0M308.4 593.9h0M322.8 572.8h0M360.7 595.8h0M367.1 548h0M296.4 552.5h0M318.6 620.1h0M336 572.2h0M316.4 577h0M299.7 561.9h0M311.1 572.5h0M307.5 603.2h0M305.1 588.8h0M325.6 577.6h0M320 529.5h0M308.7 593.1h0M360.6 585.8h0M317.7 597.4h0M345.7 570h0M312.9 593.8h0M326.9 562.5h0M315.6 557.4h0M317.5 550.2h0M306.5 591.8h0M302.3 575.7h0M296.8 578.5h0M338.6 533.7h0M332.8 603.5h0M333.1 568.8h0M288.3 534.4h0M342 556h0M327.1 568.9h0M306.8 595.2h0M316.9 586.1h0M319.1 586.6h0M326.1 559.2h0M291.6 594.8h0M282.9 581.2h0M329.7 594h0M328.4 565.8h0M297 563.8h0M319.6 565.6h0M343.1 558.6h0M321.4 565.8h0M316.3 587.1h0M295.8 574.6h0M304.6 556.6h0M327.2 571h0M321.2 568h0M330.5 532h0M305 582.8h0M285.6 584.6h0M311.4 579.2h0M314 601.9h0M316.1 555.6h0M354.9 590.8h0M339.8 580.7h0M325.4 563h0M321.6 598.4h0M325.1 560h0M316 582.8h0M347.5 590.4h0M297.3 575.9h0M340.3 557.7h0M325.6 592.1h0M313.3 609.1h0M298 573.4h0M325.1 598.3h0M304.6 585.6h0M303.2 562.7h0M318.5 591.3h0M317.3 577.6h0M320 572.3h0M309.5 586.2h0M318.3 588.2h0M362.2 553.6h0M320.2 570.7h0M296.9 597.9h0M308.5 591.9h0M311.3 607.1h0M341.5 576.4h0M332.5 581.7h0M341.3 565.1h0M326.3 609.1h0M361.6 581.2h0M275.5 596.1h0M297.5 601.8h0M325.1 598h0M332.6 557.9h0M291.3 574h0M310.3 610.6h0M313.5 585.5h0M329.9 571h0M308.1 577.5h0M293.1 610.4h0M305.1 549.5h0M298.9 577.7h0M321.9 596.7h0M318 607h0M340.2 550.1h0M311.9 578.8h0M310.1 590h0M307.8 585h0M372 567.8h0M300.4 566.5h0M335.1 570.7h0M328.2 581.1h0M305.8 581.6h0M331.7 603.9h0M330.7 588.1h0M309.5 592.3h0M281.9 599.7h0M314.7 575.7h0M312.9 593.6h0M305.6 572.7h0M307.4 597.3h0M327 589.2h0M300.3 568.5h0M293 604.4h0M322.1 573h0M353.1 597.4h0M293.6 555.9h0M303.4 584.9h0M339.7 598.1h0M268.1 570.7h0M311.9 529.4h0M351.7 555.5h0M318.4 587.5h0M304.5 578.7h0M320.3 537.8h0M329.9 570.5h0M309.9 573.4h0M319.7 549.1h0M313 573.4h0M330.8 573.7h0M326.7 566.1h0M310.5 573.2h0M318.8 599.3h0M323 557.4h0M350.6 560.9h0M319.1 608.4h0M308.7 582.9h0M321.8 558.1h0M370.3 584.7h0M352.3 510.5h0M354.7 561.9h0M286.5 596.7h0M349.1 555.7h0M328 588.8h0M325.2 579.8h0M322.5 577.7h0M328.5 617.9h0M271.4 604.5h0M335.1 579.9h0M300.8 555.8h0M345.2 553h0M328.1 567.2h0M311.2 581.1h0M306.2 590.3h0M314.2 554.1h0M342.9 569.8h0M320.5 586.9h0M323.2 539h0M308.9 579h0M343.2 591.3h0M316.6 574h0M303.9 585.6h0M325.7 580.4h0M311.7 587.3h0M317.2 586.4h0M296.4 579.5h0M280.1 572.9h0M328.3 573.8h0M300.1 596.2h0M328 565.1h0M331 612.7h0M337.3 510.6h0M330 586.9h0M347 620.5h0M316.4 582.7h0M311.5 596.9h0M346.5 586.3h0M304.1 623.5h0M307 595.7h0M302.1 604.6h0M300.4 567.4h0M338.4 579.2h0M340.1 570.9h0M314 575.4h0M299.5 572.2h0M301.2 585.1h0M325 555.7h0M343.2 589.9h0M314.8 583.7h0M334.2 588.7h0M332 568.3h0M299.7 588.7h0M337.3 616h0M352.7 601h0M328.9 588.8h0M319.5 593.7h0M338.3 597.9h0M329 600.3h0M325.1 566.7h0M327.4 573.7h0M342.1 582.6h0M306.9 605h0M317.9 594.8h0M308.9 570.7h0M324.7 589.3h0M323.2 588.7h0M311.5 571.7h0M324.6 570.8h0M319.2 553h0M339.4 556.4h0M336.9 563.9h0M319.8 624.7h0M322.3 583h0M313.1 608.8h0M308.7 585.6h0M327.2 577.2h0M335.1 602.8h0M274 582.6h0M306.5 594.4h0M336.6 583h0M341.1 568.3h0M307.6 574.4h0M304.6 591.4h0M300.1 576.8h0M346.7 610.8h0M324.6 571h0M319.1 590.5h0M300.1 584.3h0M331.3 577.7h0M309.3 594h0M354.6 568.9h0M317.8 570.8h0M332.7 569.6h0M328.4 582.7h0M324 585h0M316.4 598.7h0M363.3 584.8h0M339.2 591.1h0M306.7 595.7h0M345.1 575.5h0M288.7 612.2h0M334.8 564.7h0M330.9 551.4h0M321 502.5h0M306.5 578.8h0M307.6 598.2h0M333.7 572.2h0M321 601h0M326.1 614.9h0M311.5 568.8h0M305.5 587.9h0M302.7 602.8h0M315 570.1h0M335.8 567.8h0M319.2 584.7h0M316.9 593h0M345.7 576.6h0M340.9 584.1h0M333.3 584.1h0M327.2 586.2h0M335.1 589.5h0M335.3 564.8h0M325.2 550.7h0M344.8 564.9h0M326.9 558.7h0M345.9 523.2h0M301.4 602.8h0M305.6 570.7h0M342.4 591.5h0M339.9 565.9h0M309 585.4h0M305.7 586.2h0M347 585.7h0M317.6 577.5h0M322.2 575.7h0M354.5 574.6h0M329.2 620.9h0M322.3 600.3h0M339.8 566.3h0M297 579.9h0M312.1 562.7h0M364.6 600.6h0M339.6 599.1h0M343.9 574.5h0M309 564.1h0M349.7 561.7h0M302.6 575.5h0M329.5 571.9h0M329.3 569.8h0M307.9 578h0M329.5 560.7h0M276.8 587.6h0M332.4 577.6h0M320.6 589.5h0M311.5 560.4h0M299.9 593.4h0M287.9 610.5h0M292.2 591.8h0M294.6 560.9h0M320 558h0M299 580.5h0M310.1 585.7h0M294.6 589.9h0M370.8 575.7h0M332.2 535.1h0M282.6 579.2h0M336.5 576.8h0M359.2 567.4h0M327.3 589h0M327.7 595.6h0M333.6 547.3h0M367.8 587.4h0M374.8 551.9h0M327.8 554.4h0M291.9 578.4h0M296.4 591h0M299.8 578.5h0M335.3 595.7h0M315.6 582.1h0M315.2 587.1h0M328.2 563h0M332.7 562.9h0M308.5 558.3h0M358.1 598.8h0M308.3 559.5h0M330.7 599.7h0M316.8 558.8h0M318.6 579.3h0M316.2 583h0M346.3 545.5h0M333.5 547.3h0M321.2 571.1h0M338 601.7h0M301.1 603h0M331.8 543.4h0M301.2 582h0M280.6 580.1h0M280.1 612.9h0M332.8 583.6h0M317.5 556h0M308 592.9h0M310.1 568.3h0M290.9 613.7h0M318.8 592.6h0M325 611.3h0M320.5 562h0M319.7 582.5h0M317.6 569.7h0M322.1 577h0M330.5 575.5h0M308.5 587.3h0M333.1 551.8h0M336.7 593.7h0M286.7 571.8h0M301.4 592.2h0M336.5 482.5h0M396.8 542h0M252.2 560.5h0M351 518.5h0M302.5 520h0" stroke="#6c6c6c" stroke-width="2.35" stroke-linecap="round" fill="none"/>
<path d="M252.6 580.5 L258.6 580.4 L264.6 580.2 L270.6 580 L276.6 579.9 L282.6 579.7 L288.6 579.5 L294.7 579.3 L300.7 579.1 L306.7 578.8 L312.7 578.4 L318.7 578 L324.7 577.4 L330.7 576.6 L336.7 575.6 L342.7 574.4 L348.7 573.1 L354.7 571.8 L360.8 570.4 L366.8 569.1 L372.8 567.7 L378.8 566.3 L384.8 564.9 L390.8 563.5 L396.8 562.1 L396.8 581.1 L390.8 581 L384.8 580.9 L378.8 580.8 L372.8 580.7 L366.8 580.6 L360.8 580.5 L354.7 580.4 L348.7 580.4 L342.7 580.4 L336.7 580.5 L330.7 580.7 L324.7 581.2 L318.7 581.9 L312.7 582.7 L306.7 583.7 L300.7 584.7 L294.7 585.7 L288.6 586.8 L282.6 587.9 L276.6 589 L270.6 590.1 L264.6 591.2 L258.6 592.4 L252.6 593.5 Z" fill="#999" fill-opacity="0.38"/>
<line x1="252.6" y1="587" x2="396.8" y2="571.6" stroke="#000" stroke-width="1.5"/>
<path d="M245 475V631.3H403.7" fill="none" stroke="#444" stroke-width="1.15"/>
<line x1="243" y1="519.1" x2="245" y2="519.1" stroke="#444" stroke-width="0.9"/>
<text x="241.4" y="521.6" font-size="7.2" fill="#424242" text-anchor="end">6</text>
<line x1="243" y1="571.3" x2="245" y2="571.3" stroke="#444" stroke-width="0.9"/>
<text x="241.4" y="573.8" font-size="7.2" fill="#424242" text-anchor="end">4</text>
<line x1="243" y1="623.1" x2="245" y2="623.1" stroke="#444" stroke-width="0.9"/>
<text x="241.4" y="625.6" font-size="7.2" fill="#424242" text-anchor="end">2</text>
<line x1="250.9" y1="631.3" x2="250.9" y2="633.3" stroke="#444" stroke-width="0.9"/>
<text x="250.9" y="640.1" font-size="7.2" fill="#424242" text-anchor="middle">50</text>
<line x1="283.9" y1="631.3" x2="283.9" y2="633.3" stroke="#444" stroke-width="0.9"/>
<text x="283.9" y="640.1" font-size="7.2" fill="#424242" text-anchor="middle">100</text>
<line x1="316.8" y1="631.3" x2="316.8" y2="633.3" stroke="#444" stroke-width="0.9"/>
<text x="316.8" y="640.1" font-size="7.2" fill="#424242" text-anchor="middle">150</text>
<line x1="349.8" y1="631.3" x2="349.8" y2="633.3" stroke="#444" stroke-width="0.9"/>
<text x="349.8" y="640.1" font-size="7.2" fill="#424242" text-anchor="middle">200</text>
<line x1="382.7" y1="631.3" x2="382.7" y2="633.3" stroke="#444" stroke-width="0.9"/>
<text x="382.7" y="640.1" font-size="7.2" fill="#424242" text-anchor="middle">250</text>
<text x="272.2" y="480" font-size="7.55" fill="#111">r = 0.129, <tspan font-style="italic">P</tspan> = 0.0072537, N = 433</text>
<text x="324.7" y="649.6" font-size="9.7" fill="#111" text-anchor="middle">Weight</text>
<text x="233.9" y="553.1" font-size="10.1" fill="#111" text-anchor="middle" transform="rotate(-90 233.9 553.1)" textLength="36.4" lengthAdjust="spacingAndGlyphs">FAM20C</text>
</g>
<g id="panelH">
<text x="427.7" y="478.7" font-size="13.8" font-weight="bold" stroke="#000" stroke-width="0.45">H</text>
<path d="M524.4 587.4h0M540.1 594h0M538.6 579.8h0M518.2 593.4h0M543.5 540.2h0M550.3 573.9h0M540.9 571.7h0M524 573h0M517.8 594h0M498.5 515h0M503.7 569.6h0M478 611h0M540.1 574.1h0M535 563.1h0M534.1 584.6h0M602.6 539.7h0M535.9 601.4h0M546.8 567.6h0M499 617.6h0M524.7 589.3h0M524.5 562.4h0M537.1 577.4h0M517.3 579.3h0M523.6 589.3h0M523.5 559.7h0M538.5 592.4h0M514.3 567.2h0M538.7 532h0M542.3 575.8h0M536.3 567.9h0M566.3 578.2h0M535.9 602.7h0M539.7 575.6h0M538.3 604.5h0M548.9 609h0M542 609.1h0M535.4 583.2h0M545.8 599.1h0M522.3 600.9h0M547.7 598.2h0M502.1 582.6h0M555.7 598h0M518.1 607.3h0M531 584.8h0M530.9 567h0M542.8 589h0M504.5 589.4h0M522 545.2h0M545 562.1h0M540.3 598h0M516.2 578.1h0M554.4 590.4h0M585.5 568h0M511 548.7h0M522.9 563.4h0M515.4 547.1h0M524.7 588.7h0M528.7 543.6h0M568.1 609.2h0M498.5 561.6h0M564.1 580.2h0M533.6 553.3h0M528.8 557.9h0M527 579.6h0M551 560h0M528.7 615.6h0M528.7 573.5h0M531.8 544.2h0M535.3 580h0M541.7 556.1h0M526.5 567.5h0M522.1 568.8h0M544.8 564.4h0M538 536.1h0M535.2 583.2h0M481.2 584.3h0M532.2 578h0M513.4 572.3h0M505.8 623.6h0M521.1 562.3h0M508.7 568.9h0M515 586.2h0M548.5 570.3h0M531.1 567.7h0M520.7 573.7h0M532.6 572.1h0M502.8 581h0M572.8 615.2h0M563.4 541.6h0M532.1 581.9h0M539.6 589.6h0M523.8 591.2h0M526.6 576.8h0M526.4 560.9h0M525.7 586.2h0M542.5 589.3h0M516 579.7h0M548.2 568.3h0M507.4 617h0M536.4 576.1h0M554 576.8h0M561.9 598.5h0M494.2 583.6h0M551.1 578.8h0M573.2 570.6h0M534.6 620.2h0M571.3 575.7h0M521.7 602.6h0M534.7 592.1h0M570.2 578h0M554.5 603.9h0M549.4 570.1h0M532 609.8h0M531.4 569h0M548.9 584.2h0M536.5 604.6h0M561 582.8h0M513.7 614h0M520.6 603.4h0M541.6 562.5h0M511.5 577.4h0M544.3 587.4h0M557.2 580.9h0M583.8 570.7h0M501.6 594.2h0M528.7 568.4h0M547.7 570.8h0M522.7 612.1h0M541.9 584.2h0M508.7 603.9h0M531.8 523.9h0M544.3 562h0M524.4 561.5h0M542.2 583.4h0M536.2 604.2h0M526.4 544.1h0M519.6 579.7h0M529.3 615.4h0M543.7 551.4h0M531 614h0M552.4 548h0M542.4 566.3h0M503.5 536h0M535.5 587.6h0M551.3 552.8h0M544.3 580h0M530.1 580.7h0M498.4 567h0M538 567.5h0M538.2 573.3h0M565.8 586.6h0M532.6 560.4h0M535.2 567.1h0M540.4 561.7h0M556.4 593.6h0M561 613.2h0M565.2 585.2h0M521.5 539.6h0M562.9 578.2h0M538.7 587.2h0M558.8 592.3h0M527.6 579.9h0M555 556.5h0M545.8 610.6h0M511.3 582.1h0M535.2 568.1h0M529.4 591.1h0M527.6 597.9h0M524.1 575.5h0M497.3 597h0M545.7 584.9h0M536.2 576.7h0M537.2 574.9h0M533.1 584.6h0M543.7 502.3h0M524.6 578.8h0M520.3 562.3h0M541.1 562.6h0M540.3 584.7h0M543.1 573.5h0M545.8 570.8h0M516 579.9h0M516.8 551.8h0M515.6 538.6h0M584.3 612.7h0M544.2 563.3h0M517.6 574.8h0M561.5 590.3h0M546.7 574h0M527.8 578.5h0M553.3 526.8h0M537.7 561.1h0M535.2 585h0M539.5 581.7h0M553.5 594h0M545.6 589.1h0M507.9 574.3h0M525.5 581.8h0M556.4 567.7h0M569.4 586.1h0M505.8 562.6h0M566.1 588.5h0M512 587.7h0M554.6 598.9h0M531.4 566h0M566.2 576.4h0M551.5 541.7h0M522.8 595.3h0M519.9 577.6h0M515.7 571.4h0M506.7 565.5h0M518.4 576.2h0M537.4 570.6h0M525.3 616.5h0M543.1 575.1h0M527.8 580.3h0M545.1 548.2h0M546.9 562.3h0M483.4 525.6h0M553 619.5h0M534.4 576.2h0M506 562.2h0M513.5 596.7h0M529.1 591.8h0M559.7 588.7h0M551.5 585.2h0M529.4 620.1h0M545.7 577.4h0M511.3 590.6h0M528.5 582.3h0M513.6 558.4h0M554.3 600.6h0M524.7 584.4h0M555.4 560.6h0M509.8 608.1h0M560.3 606.5h0M547.7 577h0M518.4 585.4h0M543.4 532.5h0M542.1 583h0M553.2 521h0M528.4 561.4h0M520.8 604.6h0M518.9 584.3h0M537.7 551.9h0M518.5 563.3h0M534.5 600.5h0M469.9 578.5h0M530.7 581.2h0M507 578.8h0M537.4 560.8h0M556 597.5h0M540.2 552.3h0M530.5 574.9h0M549.2 556.9h0M502.6 578.5h0M526.6 579.5h0M551.6 574.7h0M527 582.8h0M505.3 592.7h0M518.9 550.6h0M542.9 579.1h0M543.5 597.3h0M537.7 603.4h0M550 591.9h0M537 558.6h0M541.8 559.4h0M562.7 598.9h0M506.4 599.5h0M610 561.2h0M546.1 570.2h0M571 587.3h0M538.4 595.6h0M556.1 570.6h0M544.2 563h0M542.5 552.8h0M539.1 560.1h0M532.7 555.2h0M576.5 554.7h0M549.3 595.2h0M581.8 585.3h0M512.7 573.3h0M506.2 596.7h0M550 539.7h0M561.8 584.3h0M505.2 566.2h0M518.9 586.9h0M511.6 611.1h0M533.4 561.9h0M564.8 592.2h0M533.5 575.3h0M540.2 574.6h0M510.1 556.3h0M484.3 580.1h0M540 576.9h0M540.6 579.6h0M524.4 576.8h0M542.1 548.7h0M537.7 600.9h0M545.6 575h0M520 609.7h0M535.5 574.2h0M563.3 564h0M513.1 612.3h0M529 596.9h0M520.5 568.8h0M547.5 580.3h0M520.9 587.2h0M499.2 545.1h0M514.8 566.6h0M496.2 528.4h0M542.8 602.1h0M564.8 547.1h0M545.7 574.9h0M544.1 557.9h0M542.5 576.6h0M530 575.5h0M510.5 573.1h0M518.8 587.5h0M549.5 572.3h0M496.5 603.2h0M562.5 580.6h0M504.6 551.6h0M528.6 574.4h0M511.5 580.9h0M516 592.4h0M527.8 597.8h0M531.8 575.9h0M530.8 583.7h0M546.5 576.3h0M537.3 583.2h0M555.9 561.7h0M524.1 562.4h0M510.5 600.6h0M524.3 598.7h0M533.3 583.2h0M553.5 573.2h0M537.8 585.8h0M524.7 562h0M538 604.3h0M516.1 559.9h0M528.5 583.3h0M516.8 610.2h0M506.9 571.1h0M544.5 564.3h0M521.7 572.1h0M524.9 583h0M504.3 609.5h0M543.2 577h0M517.8 587.5h0M591.5 592.9h0M518.9 585.1h0M558.6 592.3h0M543.6 586.3h0M549 588h0M537.7 567h0M519.1 571.6h0M594.4 555.6h0M517.9 578h0M570.4 565.1h0M534.4 596.9h0M524.2 587.8h0M545.5 573h0M537.6 607.3h0M545 565.2h0M534.8 563.2h0M551.7 565.5h0M542.2 598.7h0M525.7 579.5h0M535.7 596.9h0M552.3 561.1h0M535.2 552.5h0M524.3 584.2h0M539.6 570.6h0M544.3 550h0M543 582h0M514.4 611.5h0M505.4 587.6h0M528 544.3h0M557.9 559h0M538.6 567.3h0M559.6 547.8h0M578.1 548.9h0M548 561.6h0M538.3 572h0M533 571.8h0M512.4 583.7h0M541.1 590.4h0M505.5 592h0M549.2 578.2h0M490.3 559.4h0M567.7 578.9h0M530.4 584.4h0M537.5 573.9h0M537.4 583.9h0M536.2 589.6h0M500.9 601.2h0M550.4 574.8h0M536.3 540.5h0M546.7 591.4h0M497.5 559.6h0M525.2 529.7h0M519.9 566.4h0M538.7 625.8h0M562 601.1h0M516.9 596h0M542.8 569.4h0M549.2 586.3h0M502.4 567.7h0M533.6 576.2h0M535.1 595.9h0M530.5 595.8h0M548.6 574.7h0M554.6 564.5h0M546.8 570.8h0M553.8 553.2h0M549.4 552.6h0M532.4 568.1h0M525.4 586.3h0M516.2 598.6h0M505 607h0M525.6 579h0M540 589.3h0M532.8 551h0M534 587.8h0M549.6 588.6h0M531.4 602.8h0M533.3 592.2h0M494.8 605.2h0M564.8 606.8h0M530.3 549.7h0M493.5 576.4h0M535.1 600.8h0M537 482.5h0M610.7 585.5h0M466.5 591.5h0M558.5 518.5h0M516.5 520.5h0" stroke="#6c6c6c" stroke-width="2.35" stroke-linecap="round" fill="none"/>
<path d="M466.8 579.2 L472.8 579.1 L478.8 579 L484.8 578.9 L490.8 578.8 L496.8 578.6 L502.8 578.5 L508.7 578.3 L514.7 578.1 L520.7 577.9 L526.7 577.6 L532.7 577.2 L538.7 576.8 L544.7 576.1 L550.7 575.3 L556.7 574.4 L562.7 573.4 L568.7 572.4 L574.6 571.3 L580.6 570.2 L586.6 569.1 L592.6 568 L598.6 566.9 L604.6 565.7 L610.6 564.6 L610.6 580.6 L604.6 580.5 L598.6 580.4 L592.6 580.2 L586.6 580.1 L580.6 580 L574.6 580 L568.7 579.9 L562.7 579.8 L556.7 579.9 L550.7 579.9 L544.7 580.2 L538.7 580.6 L532.7 581.1 L526.7 581.7 L520.7 582.5 L514.7 583.2 L508.7 584 L502.8 584.9 L496.8 585.7 L490.8 586.6 L484.8 587.5 L478.8 588.4 L472.8 589.3 L466.8 590.2 Z" fill="#999" fill-opacity="0.38"/>
<line x1="466.8" y1="584.7" x2="610.6" y2="572.6" stroke="#000" stroke-width="1.5"/>
<path d="M458.9 475V631.3H617.5" fill="none" stroke="#444" stroke-width="1.15"/>
<line x1="456.9" y1="519.1" x2="458.9" y2="519.1" stroke="#444" stroke-width="0.9"/>
<text x="455.3" y="521.6" font-size="7.2" fill="#424242" text-anchor="end">6</text>
<line x1="456.9" y1="571.3" x2="458.9" y2="571.3" stroke="#444" stroke-width="0.9"/>
<text x="455.3" y="573.8" font-size="7.2" fill="#424242" text-anchor="end">4</text>
<line x1="456.9" y1="623.1" x2="458.9" y2="623.1" stroke="#444" stroke-width="0.9"/>
<text x="455.3" y="625.6" font-size="7.2" fill="#424242" text-anchor="end">2</text>
<line x1="466.1" y1="631.3" x2="466.1" y2="633.3" stroke="#444" stroke-width="0.9"/>
<text x="466.1" y="640.1" font-size="7.2" fill="#424242" text-anchor="middle">20</text>
<line x1="512.1" y1="631.3" x2="512.1" y2="633.3" stroke="#444" stroke-width="0.9"/>
<text x="512.1" y="640.1" font-size="7.2" fill="#424242" text-anchor="middle">40</text>
<line x1="557.7" y1="631.3" x2="557.7" y2="633.3" stroke="#444" stroke-width="0.9"/>
<text x="557.7" y="640.1" font-size="7.2" fill="#424242" text-anchor="middle">60</text>
<line x1="603.7" y1="631.3" x2="603.7" y2="633.3" stroke="#444" stroke-width="0.9"/>
<text x="603.7" y="640.1" font-size="7.2" fill="#424242" text-anchor="middle">80</text>
<text x="492.2" y="480" font-size="7.55" fill="#111">r = 0.095, <tspan font-style="italic">P</tspan> = 0.049, N = 433</text>
<text x="539.2" y="649.6" font-size="9.7" fill="#111" text-anchor="middle">BMI</text>
<text x="448.3" y="553.1" font-size="10.1" fill="#111" text-anchor="middle" transform="rotate(-90 448.3 553.1)" textLength="36.4" lengthAdjust="spacingAndGlyphs">FAM20C</text>
</g>
<g id="panelI">
<text x="0.5" y="681.5" font-size="13.8" font-weight="bold" stroke="#000" stroke-width="0.45">I</text>
<path d="M158.3 783.9h0M126.3 791.8h0M100.9 741.3h0M95.3 740.6h0M173.9 761.7h0M136.5 729h0M126.5 804.9h0M124 786.2h0M115.4 822.3h0M142.6 801.3h0M137.1 800.4h0M155.5 754.8h0M78.9 808.2h0M137.2 808.7h0M126.3 815.5h0M141.9 787.5h0M134.4 778h0M73.3 779.8h0M120.3 776h0M156.8 759.5h0M138.3 814.6h0M98.8 829.4h0M77.1 794.4h0M149.6 758.7h0M123.2 809.1h0M132.2 821.5h0M100.7 812.3h0M146.1 740.5h0M115.2 738.7h0M115.5 837.4h0M91.6 823.8h0M123.7 771h0M128.6 782.6h0M97.2 790.8h0M107.4 792.2h0M132 753h0M90.5 823.4h0M129 763.1h0M142.1 745h0M120.5 822h0M87 799.5h0M118.4 823.9h0M147.5 787.3h0M121.6 815.1h0M88.9 847.6h0M139.9 789.1h0M129.2 816.6h0M153.9 758.5h0M155.4 788.8h0M114.7 784.7h0M71.6 776.3h0M71.9 749.4h0M116.4 807.7h0M104.7 792.2h0M119.7 800.7h0M96 750.7h0M96.3 802.7h0M144.4 844.9h0M126.4 804.5h0M121.5 747.1h0M159 795.7h0M102.9 797.5h0M130.8 763h0M97.2 768.7h0M109.6 795.7h0M122.2 720.8h0M114.7 820.6h0M102.5 814.7h0M112.3 805.6h0M142.6 802.4h0M99.9 831.8h0M88.9 753.1h0M156.6 780.9h0M87.4 815h0M112.3 811.4h0M89.2 784.1h0M97.3 792h0M144.1 801.1h0M136.9 800.5h0M112.2 844.8h0M155.7 721.8h0M108.1 792.6h0M145.7 771.1h0M129.2 793h0M145 781.3h0M119.8 767.5h0M129.6 792.1h0M117.8 748.1h0M59.5 773.9h0M172.9 738.2h0M133.5 789h0M121.6 810.2h0M117.4 825h0M104 751.1h0M105.1 783.6h0M120.6 821.6h0M141.4 780.8h0M126.6 827.2h0M124.6 831.1h0M138.7 765.7h0M103 778.5h0M144.2 782.2h0M110.2 768h0M134.3 781.7h0M105.2 783.4h0M142.3 835.8h0M92.8 796.2h0M163.7 754.9h0M109.1 790.9h0M109.4 797.8h0M101.8 727.7h0M94.8 760.9h0M113.4 745.6h0M84.3 792.3h0M143.3 794.2h0M116.6 760.7h0M69.7 753.3h0M120.4 807.5h0M132 768.8h0M124.5 783h0M106 807.1h0M115.6 817h0M58.9 790.5h0M87.3 766.5h0M66.5 767h0M86 768.7h0M135.1 786h0M154.3 790h0M104.1 773.6h0M128.9 778.6h0M111.1 778.1h0M128 739.9h0M123.3 784.9h0M99.2 804.3h0M146 783.3h0M107.7 766.6h0M104.5 791h0M112.4 767.9h0M103.5 781.6h0M77.9 744.8h0M116 810.5h0M128.7 774.7h0M111.7 782.1h0M158.5 794.7h0M105.8 764.1h0M62.8 853.2h0M158.8 744.9h0M146.6 809.3h0M151.6 799.4h0M82.3 792.9h0M31.2 842.5h0M70 857h0M62 729h0M73.5 731h0M176 757h0M153 715.5h0M157.5 716h0" stroke="#6c6c6c" stroke-width="2.35" stroke-linecap="round" fill="none"/>
<path d="M31.6 795.4 L37.6 794.6 L43.6 793.8 L49.7 793 L55.7 792.1 L61.7 791.3 L67.7 790.4 L73.7 789.6 L79.8 788.7 L85.8 787.8 L91.8 786.8 L97.8 785.8 L103.8 784.7 L109.9 783.5 L115.9 782.1 L121.9 780.4 L127.9 778.5 L134 776.1 L140 773.5 L146 770.7 L152 767.7 L158 764.7 L164.1 761.6 L170.1 758.5 L176.1 755.4 L176.1 779.4 L170.1 780.1 L164.1 780.8 L158 781.6 L152 782.4 L146 783.3 L140 784.3 L134 785.5 L127.9 787 L121.9 788.9 L115.9 791 L109.9 793.5 L103.8 796.1 L97.8 798.8 L91.8 801.6 L85.8 804.5 L79.8 807.4 L73.7 810.4 L67.7 813.4 L61.7 816.3 L55.7 819.3 L49.7 822.3 L43.6 825.4 L37.6 828.4 L31.6 831.4 Z" fill="#999" fill-opacity="0.38"/>
<line x1="31.6" y1="813.4" x2="176.1" y2="767.4" stroke="#000" stroke-width="1.5"/>
<path d="M24.2 709.1V864.3H182.6" fill="none" stroke="#444" stroke-width="1.15"/>
<line x1="22.2" y1="745.7" x2="24.2" y2="745.7" stroke="#444" stroke-width="0.9"/>
<text x="20.6" y="748.2" font-size="7.2" fill="#424242" text-anchor="end">6</text>
<line x1="22.2" y1="787" x2="24.2" y2="787" stroke="#444" stroke-width="0.9"/>
<text x="20.6" y="789.5" font-size="7.2" fill="#424242" text-anchor="end">5</text>
<line x1="22.2" y1="828.3" x2="24.2" y2="828.3" stroke="#444" stroke-width="0.9"/>
<text x="20.6" y="830.8" font-size="7.2" fill="#424242" text-anchor="end">4</text>
<line x1="51.5" y1="864.3" x2="51.5" y2="866.3" stroke="#444" stroke-width="0.9"/>
<text x="51.5" y="873.1" font-size="7.2" fill="#424242" text-anchor="middle">−1</text>
<line x1="79.3" y1="864.3" x2="79.3" y2="866.3" stroke="#444" stroke-width="0.9"/>
<text x="79.3" y="873.1" font-size="7.2" fill="#424242" text-anchor="middle">0</text>
<line x1="107.4" y1="864.3" x2="107.4" y2="866.3" stroke="#444" stroke-width="0.9"/>
<text x="107.4" y="873.1" font-size="7.2" fill="#424242" text-anchor="middle">1</text>
<line x1="135.6" y1="864.3" x2="135.6" y2="866.3" stroke="#444" stroke-width="0.9"/>
<text x="135.6" y="873.1" font-size="7.2" fill="#424242" text-anchor="middle">2</text>
<line x1="163.4" y1="864.3" x2="163.4" y2="866.3" stroke="#444" stroke-width="0.9"/>
<text x="163.4" y="873.1" font-size="7.2" fill="#424242" text-anchor="middle">3</text>
<text x="46.3" y="698.7" font-size="7.55" fill="#111">r = 0.249, <tspan font-style="italic">P</tspan> = 0.0016965, N = 156</text>
<text x="103.3" y="884" font-size="9.7" fill="#111" text-anchor="middle">log[HOMA−IR]</text>
<text x="13.3" y="786.3" font-size="10.1" fill="#111" text-anchor="middle" transform="rotate(-90 13.3 786.3)" textLength="36.4" lengthAdjust="spacingAndGlyphs">FAM20C</text>
</g>
<g id="panelJ">
<text x="214.6" y="681.5" font-size="13.8" font-weight="bold" stroke="#000" stroke-width="0.45">J</text>
<path d="M329.7 783.4h0M317.5 789.6h0M346.3 798h0M355.5 823.4h0M348.7 776.9h0M313.8 820.3h0M336 815h0M356.7 764.6h0M351.3 712.1h0M357.1 784.7h0M321 800.9h0M331.8 831.5h0M345.2 716.4h0M267.9 827.1h0M335.6 781.7h0M355.7 795.4h0M353.1 822.4h0M331.1 801.1h0M338.2 807.9h0M360.2 792.3h0M339.4 749.3h0M305 806.6h0M353.9 770.6h0M299.9 810.1h0M321.2 733.8h0M395.1 796.2h0M350.4 792.5h0M363.7 776.1h0M357.2 770.4h0M362.5 813.7h0M345.6 797.3h0M362.7 805.7h0M345.4 801.1h0M321.2 776.8h0M351.8 794.8h0M346.2 813.8h0M365.8 765.4h0M372.1 794.6h0M378.6 781.8h0M320.7 835.4h0M350.9 784.7h0M386.6 771.5h0M329.7 767.1h0M326 772.5h0M331.4 803.7h0M328.4 829.1h0M323.1 737.8h0M383.3 758.9h0M330 800.1h0M345.9 802.9h0M317.3 768.4h0M395.9 741h0M317.6 786.9h0M310.2 813.5h0M366.8 796.3h0M326.7 775.6h0M346.1 799h0M383.2 765.1h0M312.2 785.1h0M385.7 802.9h0M330.1 789.9h0M274.2 827.9h0M346 803.1h0M330.1 776.9h0M308.3 776.7h0M331.3 788.2h0M296.1 848.8h0M341.2 800.1h0M368.7 784h0M364.1 746.5h0M336.6 776.7h0M332.2 809.8h0M335.5 743.6h0M312.2 752.6h0M353.3 802.6h0M351.1 799.7h0M377.5 759.6h0M317.6 792.2h0M385.1 759.4h0M372.2 775.4h0M365.8 811.9h0M337.5 814.1h0M360.4 855.7h0M335.1 837.5h0M368.3 793.7h0M342.3 781.6h0M323.5 826.3h0M337.7 799.9h0M319.1 804h0M361.4 807.9h0M337 790.6h0M322 774.2h0M343.9 776.9h0M375.2 757.8h0M327.9 811.8h0M354.8 753.4h0M329.6 749.4h0M360.2 846h0M352.2 810.7h0M401.2 763.3h0M286.6 812.5h0M344.9 788.3h0M383.7 754.5h0M296.4 778.2h0M365.4 742.8h0M344.7 802.4h0M353.3 827.3h0M327.6 839.3h0M331.3 797.4h0M296.9 849h0M330.9 797.6h0M335.9 826.9h0M323.4 842.4h0M382.3 765.2h0M345.8 795h0M373.5 775.5h0M352.3 766.8h0M316.7 802h0M338.8 828.8h0M338.7 836.9h0M331.6 776.3h0M366 783.5h0M359.6 846.9h0M335.1 774.4h0M355.3 783.2h0M331.1 787.2h0M375.8 807h0M370.8 780.4h0M366.3 734.3h0M383.4 798.2h0M344.5 733h0M336.9 742.9h0M350.7 829.3h0M369.1 805.2h0M379.1 776h0M344.2 820.5h0M342.5 830h0M372.9 794.9h0M357.8 744.5h0M349.1 753.7h0M325.6 829.6h0M340 788.5h0M347 828h0M349.4 757.4h0M344.5 809.6h0M370.4 722.8h0M347 810.2h0M338.2 802.9h0M335.5 828.3h0M352.7 723.8h0M356.9 744.1h0M357.9 761.8h0M357.2 799.7h0M330.9 845.4h0M374.7 818.5h0M316.3 751.7h0M291.2 786.8h0M361.2 829.6h0M360.8 806.7h0M324.3 750.7h0M331.7 812.1h0M366.8 802.6h0M367.3 810.3h0M328.7 794.9h0M327.3 806.7h0M357 818.1h0M376.3 791.5h0M397.1 809.7h0M345.9 816.7h0M353.8 810.1h0M321.8 784.4h0M338.1 814.2h0M281.4 837.6h0M295.1 784.9h0M372.7 752.7h0M252.3 841h0M288.5 857h0M279 725h0M282.5 722.5h0M403 747.5h0M351 856h0" stroke="#6c6c6c" stroke-width="2.35" stroke-linecap="round" fill="none"/>
<path d="M252.6 787.2 L258.9 786.5 L265.1 785.8 L271.4 785.1 L277.7 784.3 L283.9 783.6 L290.2 782.8 L296.5 782.1 L302.7 781.3 L309 780.5 L315.3 779.6 L321.5 778.8 L327.8 777.8 L334.1 776.7 L340.3 775.6 L346.6 774.2 L352.9 772.5 L359.1 770.5 L365.4 768.2 L371.7 765.7 L377.9 763 L384.2 760.2 L390.5 757.3 L396.7 754.4 L403 751.5 L403 774.5 L396.7 775 L390.5 775.5 L384.2 776.1 L377.9 776.8 L371.7 777.5 L365.4 778.4 L359.1 779.5 L352.9 780.9 L346.6 782.7 L340.3 784.8 L334.1 787 L327.8 789.4 L321.5 791.9 L315.3 794.4 L309 797 L302.7 799.6 L296.5 802.3 L290.2 805 L283.9 807.6 L277.7 810.3 L271.4 813 L265.1 815.8 L258.9 818.5 L252.6 821.2 Z" fill="#999" fill-opacity="0.38"/>
<line x1="252.6" y1="804.2" x2="403" y2="763" stroke="#000" stroke-width="1.5"/>
<path d="M245.1 702.9V864.2H409.8" fill="none" stroke="#444" stroke-width="1.15"/>
<line x1="243.1" y1="740" x2="245.1" y2="740" stroke="#444" stroke-width="0.9"/>
<text x="241.5" y="742.5" font-size="7.2" fill="#424242" text-anchor="end">6</text>
<line x1="243.1" y1="782.9" x2="245.1" y2="782.9" stroke="#444" stroke-width="0.9"/>
<text x="241.5" y="785.4" font-size="7.2" fill="#424242" text-anchor="end">5</text>
<line x1="243.1" y1="825.8" x2="245.1" y2="825.8" stroke="#444" stroke-width="0.9"/>
<text x="241.5" y="828.3" font-size="7.2" fill="#424242" text-anchor="end">4</text>
<line x1="259.5" y1="864.2" x2="259.5" y2="866.2" stroke="#444" stroke-width="0.9"/>
<text x="259.5" y="873" font-size="7.2" fill="#424242" text-anchor="middle">2</text>
<line x1="289.7" y1="864.2" x2="289.7" y2="866.2" stroke="#444" stroke-width="0.9"/>
<text x="289.7" y="873" font-size="7.2" fill="#424242" text-anchor="middle">3</text>
<line x1="319.9" y1="864.2" x2="319.9" y2="866.2" stroke="#444" stroke-width="0.9"/>
<text x="319.9" y="873" font-size="7.2" fill="#424242" text-anchor="middle">4</text>
<line x1="350.1" y1="864.2" x2="350.1" y2="866.2" stroke="#444" stroke-width="0.9"/>
<text x="350.1" y="873" font-size="7.2" fill="#424242" text-anchor="middle">5</text>
<line x1="380.3" y1="864.2" x2="380.3" y2="866.2" stroke="#444" stroke-width="0.9"/>
<text x="380.3" y="873" font-size="7.2" fill="#424242" text-anchor="middle">6</text>
<text x="272.2" y="698.7" font-size="7.55" fill="#111">r = 0.227, <tspan font-style="italic">P</tspan> = 0.0021471, N = 181</text>
<text x="327.3" y="884.7" font-size="9.7" fill="#111" text-anchor="middle">log[FPI]</text>
<text x="233.5" y="783" font-size="10.1" fill="#111" text-anchor="middle" transform="rotate(-90 233.5 783)" textLength="36.4" lengthAdjust="spacingAndGlyphs">FAM20C</text>
</g>
<g id="panelK">
<text x="436.5" y="681.5" font-size="13.8" font-weight="bold" stroke="#000" stroke-width="0.45">K</text>
<rect x="480.1" y="821.9" width="72.8" height="33" fill="#9a9aa0"/>
<rect x="575.1" y="800.4" width="73.7" height="54.5" fill="#5b92c1"/>
<line x1="516.3" y1="772" x2="516.3" y2="821.9" stroke="#9a9a9a" stroke-width="0.9"/>
<line x1="612.3" y1="716" x2="612.3" y2="800.4" stroke="#9a9a9a" stroke-width="0.9"/>
<path d="M545.6 826.6h0M547 830.2h0M485.3 831.6h0M524 827.8h0M534.6 829.5h0M529.2 825.2h0M483.2 823.5h0M494.5 822.1h0M505.3 828.1h0M548 822.2h0M485.8 826.7h0M551.1 824.9h0M488.6 829h0M480.8 828.8h0M495.8 827.1h0M492 828.4h0M524.6 831.7h0M543.3 824.7h0M500.4 826.5h0M533.8 824.6h0M481.9 830.8h0M480 831.7h0M515.3 830.8h0M484.5 818.7h0M504.2 823.4h0M494.7 827.1h0M497.6 827.9h0M491.1 828.4h0M549.7 825.6h0M500.4 826.7h0M500 823.9h0M518.5 825.2h0M523.3 829.4h0M513.4 826.2h0M494.8 827.2h0M492.1 822.8h0M489.2 827.4h0M481.7 826.5h0M542.1 828.5h0M484.5 823h0M549.8 829.5h0M539.7 820.9h0M539.6 820.9h0M508.3 825.6h0M486.5 831.5h0M534.3 829.4h0M504.2 820.4h0M541.9 829.6h0M503.7 826h0M498.1 824.3h0M497.1 831.3h0M486.1 826.3h0M550.4 831.1h0M488.7 827.4h0M485.9 829h0M504.5 825.9h0M530.7 828.5h0M548.4 829.5h0M550 827h0M500 831h0M515.6 820.7h0M521.9 820.8h0M541.6 826.2h0M526.8 829h0M527.4 823.1h0M542.5 827.5h0M520 830.2h0M505.3 829.7h0M547.7 828h0M530.6 825.7h0M552.2 813.9h0M552.2 812.9h0M511.2 821.7h0M546.4 817.8h0M480.4 812.7h0M526.2 812.7h0M553 821.1h0M527.4 822h0M499.4 821.1h0M496.7 815.1h0M517.3 815h0M485.3 818.1h0M480.4 819.3h0M510.7 812.4h0M504.6 812.1h0M520.3 816.3h0M507.6 817.4h0M497.8 813.8h0M548.1 821.2h0M485.3 814h0M493.8 813h0M485.7 820.6h0M551.1 812.1h0M518.5 819.7h0M526.5 823.3h0M499.7 824.4h0M506.7 815.3h0M537.7 819.3h0M528.3 820.3h0M493.4 819.6h0M533.1 816.3h0M486 814.6h0M483.1 823.5h0M480.3 824h0M509.2 820.9h0M545 818.8h0M545.9 816.2h0M488.8 818.6h0M514.2 820.4h0M547.6 816h0M491.8 815.6h0M491.3 821.3h0M545.9 813.1h0M510.5 818.3h0M525.8 820h0M542.9 817.1h0M486.6 820.8h0M510.5 813.4h0M487.1 814.6h0M500 821.1h0M517.1 815.6h0M491.3 810.8h0M502.9 818h0M507.8 814.3h0M492.9 815.7h0M492.8 813.6h0M543.8 815.1h0M541.4 812.8h0M519.3 818.5h0M548.1 818.3h0M490.2 817.2h0M549.3 813.1h0M494 815.8h0M518 818.3h0M547.8 825.2h0M485.1 819.5h0M480.2 813.8h0M523.7 819.2h0M551.3 820.7h0M540.1 820.2h0M496.2 814.5h0M519.7 824.9h0M550.2 817.3h0M537.7 813.3h0M510 814.3h0M538.2 814.5h0M511.8 813.9h0M540.7 814h0M510.2 820.7h0M488.2 822.4h0M487.5 814.2h0M480 819h0M499.5 814.6h0M531.4 820h0M498.7 818.8h0M523.4 813.7h0M489.2 822.4h0M493.5 811.4h0M531 814.4h0M553.2 819.7h0M539.2 816.1h0M533.1 817.6h0M489.4 813h0M497 816h0M550.5 813.7h0M503.3 816.8h0M550.7 822.2h0M489.6 820.7h0M499.3 821.4h0M526.3 812.8h0M496.3 823.5h0M484.6 821.3h0M528.1 818.8h0M494.3 815.8h0M499.9 814.4h0M485.5 813.6h0M531.8 817.8h0M481.9 816.5h0M491.3 811h0M504.4 813.9h0M532 817.1h0M507.4 817.3h0M535.1 816.9h0M527.1 816.1h0M489.4 824.5h0M505.3 814.4h0M541 817.9h0M524.7 820.5h0M516.4 811.2h0M482.2 820.2h0M547.7 819h0M530.1 817h0M495.7 812.7h0M550.9 812.4h0M510.4 818.6h0M484.8 813.1h0M510.6 815.7h0M506.7 812.2h0M528.6 812.5h0M497.1 816.8h0M492.6 819.6h0M537.4 821.1h0M485 813.4h0M515.9 816.3h0M499.6 820.8h0M502.2 813.8h0M482 814.3h0M544.7 821h0M498 813.4h0M543.7 819.2h0M499.8 821.6h0M553.3 809.3h0M541.6 810.9h0M506.1 816.4h0M527.1 819.4h0M532.4 815.1h0M526.8 817.1h0M540.9 812.6h0M485.6 821.6h0M539.2 817.3h0M540.4 826.6h0M546.2 820.4h0M495.5 821.3h0M540.9 814.9h0M488.1 818.8h0M528.2 821.5h0M481.6 823h0M526.5 816.8h0M550.5 811.5h0M529.2 818.5h0M502.7 822.7h0M489.6 815.8h0M541.5 823.6h0M500.1 820.3h0M519.7 820.5h0M541.8 803.5h0M500.3 803h0M544.6 811.3h0M518.7 808.9h0M499.5 808h0M503.9 801.6h0M496.4 798.1h0M481.6 799.2h0M534.6 805h0M509.1 805.5h0M508.1 804.9h0M516.1 804.3h0M503.5 808.6h0M529.8 807.2h0M520 805.3h0M548.1 804.3h0M500.3 814.2h0M502.6 805.3h0M508.5 800.8h0M502.9 814.1h0M484.7 803.9h0M535.3 799.8h0M504.5 812.2h0M539.4 801.7h0M496.8 806.6h0M484.3 812.8h0M518.8 811.3h0M515.6 807.7h0M518.7 801.3h0M531 804.8h0M525.3 810h0M512.9 802.1h0M550.1 813.7h0M514.4 810.4h0M489.4 807.2h0M544.8 804.5h0M530.4 802.3h0M510.9 801.2h0M522.6 805h0M496.2 804.1h0M482.2 807h0M490.3 808.7h0M524.1 810.3h0M505 809.6h0M481 804h0M486.8 802.6h0M503.9 805.1h0M481.9 809h0M515 799.9h0M529.5 798.3h0M492.6 814.4h0M546.7 809.6h0M516.1 805.1h0M520 807.7h0M538.1 798.6h0M533.7 810.1h0M507.8 808.5h0M510.1 807.1h0M528.8 806.6h0M490.5 801.9h0M546.3 809.2h0M511.8 810.6h0M504.3 810.9h0M515.8 801h0M523.3 803.9h0M544.4 803.2h0M499.6 805.1h0M547 811.8h0M521 804.2h0M545.6 802.7h0M525.6 811.6h0M539.4 809.9h0M482.1 804.1h0M511.1 809.1h0M491.5 804.6h0M491.7 803.3h0M521 803.5h0M480.1 802.1h0M479.9 806h0M526.1 807.8h0M491.1 808.3h0M528.6 804.9h0M511.1 801.1h0M545.5 803.2h0M531.5 805h0M518.1 797.3h0M493.7 805.2h0M545.9 805.7h0M509.5 813.4h0M552.5 812.1h0M499.8 802.2h0M507.5 812.2h0M530 807.6h0M492.5 800.9h0M481.4 808.4h0M518.5 806.1h0M494.2 808.8h0M540.8 801.7h0M524.8 813.4h0M495.9 801.9h0M517.5 813h0M546.5 806.4h0M519.9 805h0M517.6 808.2h0M480.7 801.8h0M527.4 808.8h0M516.7 808.9h0M528.1 810.7h0M500.4 806.3h0M550 803.9h0M548 803.5h0M500.2 801.1h0M510.6 804.3h0M520.6 800.4h0M528.2 806.4h0M490.7 808.6h0M540.7 809.8h0M550.9 806.5h0M499.7 809.2h0M490.7 808.7h0M514.6 800.9h0M529.1 802.4h0M552.2 812.9h0M512.5 806.5h0M550.3 804.8h0M489.7 801.9h0M493.3 809.9h0M549 811.3h0M550.2 812.1h0M479.7 803.9h0M518.3 813.6h0M532.9 814h0M534.7 808h0M523.8 807.5h0M507.8 806.4h0M507.2 806.9h0M494.1 800.5h0M511.2 802.6h0M509.4 814.3h0M489.5 805.9h0M553.3 798.8h0M508.7 794.7h0M487.4 792.3h0M529.7 786.6h0M531.5 791.8h0M544.8 795.1h0M506.9 799.8h0M548.4 792.7h0M546.4 797.8h0M543.4 801.5h0M513.4 803.4h0M549.4 788h0M543.1 790.7h0M536.5 800.1h0M491.9 797.7h0M516.2 800.7h0M501.8 790.6h0M548.7 787.8h0M480.2 797.7h0M533.8 795.3h0M508.2 795.3h0M545 797.3h0M533.5 789.8h0M479.8 803.4h0M486.6 795.3h0M484.8 795.7h0M516.9 796.3h0M505.6 796h0M541.8 789h0M538.1 795.5h0M504.8 801.4h0M539.1 788h0M539 789.1h0M536.6 795.1h0M488.8 790.9h0M535.9 792.5h0M532 799h0M525.9 796.8h0M508.2 794.8h0M542.5 794.5h0M522.8 793h0M502.3 799.3h0M534.4 797.2h0M487 801.6h0M517.2 800.1h0M503.5 796.4h0M520.6 801.4h0M542.1 802.1h0M492.9 791.7h0M547.9 801.2h0M540.5 791.7h0M482.4 792.1h0M487.1 799.5h0M487.5 794.1h0M537.1 794.4h0M531.6 797.4h0M546.5 801.8h0M532.6 799.4h0M544.8 791.1h0M514.1 789.3h0M513.6 803.3h0M520.5 802.6h0M497.2 797.7h0M493.3 797.5h0M517.3 795h0M553.1 799.1h0M505.8 796.8h0M536.8 798.3h0M522.7 800.5h0M549.8 791.9h0M523.9 794.4h0M489.7 788.2h0M543.9 790.2h0M500.9 797.7h0M529.4 798.5h0M486.6 794.2h0M508.4 796.8h0M528.8 797.9h0M512.6 788.3h0M508 792.3h0M516.8 802.4h0M506.4 793.1h0M550.4 790.6h0M531.7 792.5h0M546.4 793.6h0M541.3 800.3h0M550.9 788.9h0M548.7 793.9h0M535.5 801h0M489 790.6h0M541.1 778.4h0M532.3 780.5h0M543.6 779h0M548.4 791.9h0M480.4 785h0M525.5 776.5h0M488.2 779.8h0M486.3 787.3h0M517.4 780.2h0M482 780.6h0M494.1 786.6h0M519.2 792.2h0M535.4 785.1h0M493.5 781.4h0M524.9 782.6h0M525.2 785.9h0M481.1 792.1h0M507.5 785.1h0M485.4 784.1h0M493 778.2h0M491.2 784.1h0M486.3 786.5h0M497.2 784.6h0M500.8 787.5h0M529.9 783.3h0M512.9 779.2h0M522.8 782.8h0M536.1 792.4h0M488.7 783.7h0M494.9 791.2h0M490.2 782.8h0M483.4 787.9h0M516.3 789.2h0M549.9 784.9h0M537.4 779.6h0M547.3 781.9h0M485.1 783.3h0M537 789.4h0M484.1 784.9h0M538.4 789.9h0M489.3 789.7h0M498.7 789.4h0M528.9 786.1h0M497.4 783.6h0M501.3 785.7h0M482.4 779.2h0M544.1 783.7h0M487.9 786.1h0M525.5 781.5h0M524.5 782h0M529.1 782.6h0M488.8 783.9h0M530.2 785.3h0M527 786h0M515 782h0M503.5 783.8h0M552.5 789.9h0M499.7 785.6h0M504.2 788.2h0M487.1 790.2h0M492.8 782.5h0M504.8 790.7h0M499.7 776.4h0M506.6 772.4h0M488.5 776.5h0M526.8 772h0M532.4 769.4h0M481.7 777.6h0M516.8 767.4h0M543.9 768.8h0M484.1 770h0M494.8 774.9h0M520.3 769.4h0M489.3 771.9h0M498.6 766.7h0M505.4 763.7h0M529.1 774.8h0M528.7 769.4h0M494.7 767.9h0M537 769.8h0M518.5 762.8h0M508 775h0M545.6 763.9h0M490.8 770.5h0M490.4 772.1h0M532 768h0M491.1 767.3h0M492 768.7h0M511.5 776.8h0M487.3 772.7h0M524.8 772.5h0M525.3 766.8h0M487.3 768.7h0M486 773.2h0M497.6 775.1h0M486.3 778h0M552.9 766.9h0M530.1 777.5h0M528.5 766.6h0M543.6 776.3h0M532.7 775.3h0M525.8 772.7h0M491.1 779.3h0M529.8 775.8h0M535.7 768.7h0M491.7 774.9h0M485.9 777.7h0M491.3 775.4h0M529.6 781.3h0M512.7 769.3h0M519.9 751.7h0M536.3 749.3h0M548 762.2h0M531.2 746.6h0M514.1 758.2h0M521.1 750.4h0M496.3 763.3h0M522.1 755.3h0M534.5 751.6h0M540.3 754h0M525 757h0M550.3 755.7h0M522.6 758.2h0M544.7 756.1h0M487.9 759.4h0M530.9 757.3h0M518.2 751.1h0M496.2 747h0M495.7 762.2h0M536.6 742.8h0M514.6 762.1h0M490.4 755h0M550.2 751.8h0M502.3 748.2h0M509.4 755.4h0M498 751.8h0M515.2 748.8h0M500.9 723.7h0M546.4 726.2h0M548.5 721.9h0M538.1 730.6h0M514.4 747.6h0M520.3 736.7h0M529.9 735.6h0M532.6 736.4h0M512.8 741.6h0M519.8 741.1h0M522 733.5h0M525.6 728.6h0M492.7 732.4h0M545.7 747.4h0M601.7 824.7h0M595.2 824.3h0M582.9 815.8h0M575.6 823.9h0M602 826.6h0M635.2 820.3h0M609.6 831.7h0M594.7 824h0M628.4 826h0M598 820.5h0M605.6 829.5h0M595.3 817.8h0M587.4 826.7h0M575.8 825.9h0M646.9 819.5h0M576.8 816.1h0M587.1 820.5h0M617.2 818.6h0M594.3 829.8h0M637.4 823.4h0M646.5 824.5h0M594.7 818.5h0M647.8 825.5h0M632.4 825.7h0M646.4 822.9h0M636.3 824.3h0M648.5 818.1h0M646.2 831.7h0M648.6 820.6h0M594.9 818.9h0M611.9 818.8h0M593.8 825.7h0M596.3 823.1h0M594 828.1h0M634.9 828.4h0M576.3 815.8h0M579.8 820.4h0M633 827.4h0M586.6 824.7h0M636.6 824.6h0M598 830.5h0M578 821.8h0M586.1 820.6h0M614.1 821.3h0M576.7 823.6h0M599.4 819.8h0M597.6 829.6h0M642.7 829.5h0M645.6 818.6h0M618.6 823.6h0M590.7 824.5h0M631.7 831.7h0M610.4 828.8h0M622.1 821.8h0M607.9 822.5h0M602.3 801.1h0M617 807.9h0M590.4 807.3h0M580.9 811.4h0M579.2 810.3h0M603.4 815.5h0M635.4 809.2h0M644.2 807.1h0M636.7 815.2h0M602 817.6h0M636 815.2h0M641 802.6h0M617.3 804.6h0M614.9 804.2h0M609.5 813.1h0M602.5 815.4h0M642.8 807.4h0M583.8 809.4h0M617.1 804.8h0M623.5 815.2h0M613.8 806.7h0M636.6 807.4h0M598.2 808.8h0M623.4 809.2h0M635.1 802.6h0M613.2 815.1h0M603.2 805.1h0M600.4 808.7h0M616.8 814.6h0M584.1 808h0M644.1 815.7h0M610.7 803.2h0M648.7 802.6h0M647.4 801.4h0M609.7 812.3h0M593 810.7h0M641.5 802.2h0M646.4 804.9h0M619.9 814.6h0M624.2 815.1h0M630 808.9h0M613 804.5h0M579.8 801.5h0M641.5 811.3h0M597.1 808.7h0M648.5 813.6h0M618.7 805.5h0M607.2 806.2h0M627.5 801.2h0M618.3 807.3h0M582.3 809h0M634.2 802.5h0M639.8 810h0M589.2 803.9h0M615.2 813.6h0M575.9 813.5h0M587.6 807.3h0M640.3 808.7h0M629.3 812.8h0M618.6 804.1h0M645.4 815.6h0M605.6 819.7h0M639.4 806.8h0M587.1 800.6h0M622.8 815.2h0M620.9 811.8h0M586.3 810.8h0M618 801.9h0M611.3 809.1h0M642 815h0M588.9 810.1h0M591.4 797.9h0M610.1 817.1h0M590.7 801.9h0M617.5 808.3h0M647.4 810.7h0M643.1 803.1h0M629.3 813.3h0M648 803.9h0M642.3 809.5h0M630.2 808.2h0M585.9 814.5h0M600.3 814.4h0M602.7 815.5h0M593.9 810.5h0M621.2 777.3h0M586.7 783.4h0M600.3 777h0M604.9 790.9h0M635.1 773.4h0M645.9 795.1h0M585.9 792.5h0M601.7 784.5h0M645 782.1h0M582.5 792.3h0M640.3 800.3h0M620.5 780h0M589.1 778.7h0M608.9 779.1h0M616.6 783.5h0M630 780.1h0M596.7 780.2h0M629 768.8h0M601.4 788.5h0M589.6 790.6h0M601 781.3h0M635.8 772.6h0M593.5 800.5h0M610.5 799.6h0M643.7 774.1h0M632.1 789.9h0M626.6 774.6h0M607.6 775.1h0M577.6 776.7h0M628.3 795.9h0M590.5 781.5h0M603.5 796.6h0M625.7 775.9h0M626.2 794.6h0M631.2 799.7h0M585.6 778.8h0M635.9 785.1h0M626.1 779.7h0M609.8 792.8h0M581.6 780.7h0M591.8 796.5h0M593.9 794.8h0M646.3 787.1h0M580.3 789.1h0M627.3 791.3h0M647.3 791h0M611.9 777.2h0M633.6 795.9h0M598.1 780.4h0M622.4 774.8h0M577.7 784.3h0M584.8 795.5h0M586.4 796.1h0M627.3 790.9h0M581 785h0M604.1 786.3h0M591.7 782.2h0M576.8 799.3h0M649.2 787.5h0M575.9 798.7h0M649.5 773.3h0M636 790.1h0M600.9 784.4h0M618.9 788.3h0M644.5 777h0M587.4 781.3h0M612.2 794.6h0M614.9 791.6h0M629 793.6h0M598.2 788.4h0M579.2 780.4h0M612 799.4h0M624.4 787.6h0M620.7 779.7h0M585.6 788h0M613.8 779.1h0M611 776.5h0M639.7 785.5h0M584 784.4h0M629.9 799.4h0M631.7 795.9h0M643.4 795.2h0M616.1 797.3h0M628.4 773.3h0M582.6 787.8h0M601 785.8h0M594 780.7h0M589.1 777.4h0M607.9 779.2h0M627.7 788.9h0M642.9 797.1h0M637.8 786h0M619.4 782.9h0M589.1 776.6h0M647.3 799.9h0M607 786.7h0M598.6 781.9h0M587.6 791.2h0M643.3 780.1h0M592 781.8h0M591.2 785h0M589.5 788.9h0M616 788.8h0M608.7 800.2h0M593.5 785h0M636.8 793.5h0M619.4 783.2h0M611.5 797h0M585.9 783.5h0M610.5 772.8h0M575.8 800.1h0M626.4 790.4h0M590.6 793.6h0M583 786.9h0M625.2 778.4h0M581 790h0M612.7 793.1h0M618.3 780.1h0M621.3 785.3h0M619.5 791.2h0M596.4 784.9h0M622.2 788.8h0M588.9 785.9h0M649.5 788.3h0M648.2 772.7h0M647.3 798.2h0M582.7 791.8h0M577.6 790.3h0M626 780.9h0M636.2 793.1h0M606.9 797.4h0M625.9 783.3h0M625.8 788.3h0M590.9 788.6h0M605.3 800.3h0M599.8 776.2h0M630.9 772.9h0M613.2 787.8h0M581.9 771.3h0M638.8 773.7h0M576.8 775.8h0M618.6 793.1h0M605 786.7h0M640 774.7h0M611.3 791.4h0M631.7 798h0M609.5 789.1h0M603.8 791h0M639.4 797h0M637.5 789.8h0M576 795h0M606.7 780.7h0M600.7 793.9h0M597.8 776.3h0M593.1 790.5h0M608.3 776.9h0M590.7 789.2h0M612.5 789h0M624.6 798.2h0M594.1 784.7h0M616.6 800.1h0M596.2 774.9h0M625.6 796.5h0M634.8 784.8h0M587.3 777.6h0M613.6 788.6h0M606.3 781.7h0M624.7 774.5h0M606.9 797.9h0M618 785.1h0M581 789.5h0M612.5 796.5h0M635.8 782.3h0M615.4 788.9h0M618.4 784.1h0M617.5 764.8h0M588.1 757.1h0M640.7 764h0M641.9 770.3h0M604.2 764.4h0M641.8 760.8h0M623.8 751.4h0M575.6 753.8h0M585.7 765.8h0M591.5 767.6h0M581.5 748.5h0M576.5 752.5h0M612.9 752.9h0M577.6 754h0M605.3 770.3h0M637.2 768.5h0M608.3 760.8h0M619.9 773.5h0M588.9 753.2h0M612.1 765h0M595.4 774.5h0M589.6 759.4h0M625.7 763.2h0M575 766.3h0M641.7 758.2h0M615 752h0M621.5 747.5h0M626.4 770.2h0M587.1 757.9h0M575.1 770h0M598 758.8h0M602 774.5h0M606.7 773.7h0M640 752.3h0M597.8 752.5h0M576.3 762.4h0M588.7 767.6h0M574.7 764.2h0M605.5 753.9h0M600.8 759.7h0M599.4 763.1h0M603.7 749.5h0M645.2 752.5h0M638.4 749.5h0M611.3 775.1h0M628.8 751.1h0M596.2 762h0M613.7 757.1h0M629.8 768.9h0M610.8 769.6h0M612.1 759.5h0M636.2 752.6h0M596.2 770.4h0M585.2 766.3h0M628.6 746.2h0M631.9 774.2h0M597 749.6h0M621.5 765.7h0M603.8 746.5h0M642 768.5h0M604.9 765.7h0M637.9 765.9h0M610.8 749h0M585.6 760.4h0M608.2 771h0M633.6 772.8h0M574.6 752.3h0M619.8 758.4h0M602.4 771.4h0M613.2 756.6h0M642.2 750.6h0M601.1 758.6h0M620 767.5h0M598.4 752.8h0M630.8 770.8h0M626.7 768.8h0M640.1 753.4h0M629.5 765.9h0M646.7 755.7h0M637.5 770.2h0M575.4 773.8h0M619.4 757.8h0M633.3 774.6h0M637.3 765h0M621.9 749h0M636.4 757h0M584.9 758.1h0M585.1 756.2h0M625 756.2h0M637.6 753.5h0M598.2 762.8h0M597.3 753.1h0M605.6 770.1h0M594.4 756.8h0M584.4 772.6h0M625.2 763.1h0M623 772.7h0M588.8 764.6h0M580.7 762.8h0M602.7 768.5h0M588.3 754.1h0M646.9 757.5h0M610 758.2h0M604.4 776.5h0M590.7 764.9h0M575.9 761.4h0M631.6 767.6h0M594.4 755.5h0M582.8 767.2h0M640.6 759.1h0M601.5 762.6h0M616.5 755.8h0M595.6 750.8h0M595.6 765.2h0M636.1 764.5h0M643.8 760h0M583.7 767.1h0M621.3 752.4h0M588.3 767.8h0M636.3 762.5h0M602.9 768.1h0M589.8 760.7h0M604.5 768.8h0M592.6 751.7h0M637.3 753.8h0M582.1 762.2h0M612.6 748h0M609.7 764h0M590.6 757.2h0M594.7 765.1h0M614.8 770.6h0M616.5 754.1h0M586 755.5h0M645.8 753.5h0M641.3 748.1h0M621.2 769.7h0M633.7 768.6h0M634.1 771.5h0M591.5 768.5h0M592.3 766.9h0M632.4 753.3h0M613.3 767.3h0M645.3 755.9h0M587.9 758.9h0M611.8 766.9h0M638.5 758.1h0M605.3 761.9h0M615.2 755.9h0M618.8 770h0M577.3 765.3h0M590 721.6h0M619.8 743.1h0M622.7 737.3h0M602.3 726.1h0M645.2 747.6h0M604.6 746.3h0M642.6 743.1h0M603.6 727h0M640 726.4h0M626.5 727.7h0M645.3 741.2h0M595.9 730.2h0M620.8 746.6h0M595.2 744.7h0M577.2 747.6h0M642.7 740.6h0M647 719.5h0M616.1 739.6h0M581.7 742.9h0M646.4 742.3h0M581.2 741.9h0M577.1 725.2h0M587.5 740h0M593.3 737.8h0M642.3 725.3h0M644.3 732.9h0M637.8 732.5h0M634.9 730.2h0M594.2 745h0M615.7 732.5h0M603 748h0M580.6 733.4h0M636.6 740.7h0M604.8 721.3h0M595.3 724.5h0M587.3 731.5h0M631.3 718.2h0M616.7 720.9h0M594 725.9h0M609.2 721.4h0M588 723.5h0M632.4 735.1h0M578.7 734.9h0M586.8 746.7h0M593.6 725.6h0M602 730.9h0M628.9 734.6h0M598.5 720.1h0M605.3 736.8h0M580.8 719.7h0M592.8 725.5h0M610.3 735.3h0M605.5 723.9h0M585.2 745.5h0M644.6 724.7h0M593 695.5h0M595.4 715h0M643.2 702.2h0M630.8 716h0M619.5 699.8h0M601.1 717.1h0M578.6 706.2h0M630.5 716.5h0M639.2 696.3h0M632 720.5h0M637.5 695.8h0M634.7 701.6h0M639.5 710.9h0M633.4 698.7h0M648.3 709.5h0M638.4 713.2h0M585.6 706.7h0M635.3 708.8h0M602 696.6h0M646.2 706.6h0M599.1 688h0M587.4 680.7h0M646.6 679.9h0M516.3 772.8h0M516.3 771.6h0M516.3 770.4h0M516.3 769.2h0M516.3 768h0M516.3 766.8h0M516.3 765.7h0M516.3 764.5h0M516.3 763.3h0M516.3 762.1h0M516.3 760.9h0M516.3 759.7h0M516.3 758.5h0M516.3 757.3h0M516.3 756.1h0M516.3 754.9h0M516.3 753.7h0M516.3 752.5h0M516.3 751.3h0M516.3 750.1h0M516.3 748.9h0M516.3 747.7h0M516.3 746.5h0M516.3 745.3h0M516.3 744.2h0M516.3 743h0M516.3 741.8h0M516.3 740.6h0M516.3 739.4h0M516.3 738.2h0M516.3 737h0M516.3 735.8h0M516.3 734.6h0M516.3 733.4h0M516.3 730.7h0M516.3 727.5h0M516.3 724.2h0M516.3 706.4h0M612.3 716.7h0M612.3 715.3h0M612.3 714h0M612.3 712.7h0M612.3 711.4h0M612.3 710.1h0M612.3 708.8h0M612.3 707.5h0M612.3 706.2h0M612.3 704.9h0M612.3 703.5h0M612.3 702.2h0M612.3 700.9h0M612.3 699.6h0M612.3 698.3h0M612.3 694.5h0M612.3 690.2h0M612.3 687.5h0M612.3 681h0M612.3 671.3h0M515.5 855h0M528.5 854.3h0M541.6 855h0M533.4 855.5h0M492 855.5h0M549.9 855.3h0M489.8 854.7h0M503.9 855.1h0M492 854.6h0M543.9 855.2h0M530.8 854.8h0M526.1 854.7h0M506.6 855h0M517.9 855.2h0M516.3 854.5h0M493.1 854.8h0M519.7 855h0M504 855h0M516.5 854.7h0M503.4 854.9h0M526.2 854.7h0M550.6 855.2h0M506.9 855h0M528.7 855.4h0M544.6 854.7h0M544.9 854.7h0M507.1 855h0M487.8 855.2h0M479.1 855h0M519.1 854.8h0M540.2 854.4h0M515.6 854.8h0M515.3 855h0M534.7 855.2h0M542.6 854.5h0M490.1 855.1h0M506.3 855h0M517.1 855.5h0M496.6 855.2h0M494.9 854.4h0M480 854.7h0M533.1 854.8h0M496.1 854.7h0M528 854.7h0M495 854.5h0M486.7 854.8h0M483.4 854.6h0M486.1 854.8h0M529.5 854.7h0M518.3 855h0M510 854.9h0M524.7 854.9h0M522.7 854.8h0M528 854.5h0M506.4 854.8h0M539.2 855.3h0M538.7 854.9h0M540.4 854.9h0M542 855h0M515.4 854.9h0M540.9 854.7h0M530 854.8h0M482.3 854.6h0M502.4 854.6h0M532.6 854.9h0M550.3 854.7h0M487.7 854.6h0M496.3 854.9h0M539.4 855.1h0M512.8 854.8h0M490.7 854.7h0M543.1 855.4h0M536.3 854.9h0M513 854.7h0M532.8 855.2h0M508 855.3h0M523.2 854.5h0M506.2 854.6h0M517.6 854.8h0M528 855.1h0M553.2 854.5h0M520 855.3h0M546.5 855h0M480.1 855.4h0M552.6 854.9h0M508 855h0M536.3 855.2h0M524.2 854.8h0M499.7 854.6h0M483.5 854.8h0M486.1 854.4h0M513.6 854.5h0M501 854.9h0M502.9 855h0M537 855.2h0M542.5 855.3h0M516.7 854.7h0M534.9 854.5h0M479.3 855.3h0M503.8 854.9h0M489.3 854.9h0M497.7 854.5h0M508.1 854.6h0M508.7 855.1h0M507.8 854.7h0M494.6 855.3h0M552.5 854.6h0M530.7 855.3h0M533.2 854.5h0M546.8 854.4h0M506.1 854.8h0M481.2 854.7h0M510.8 854.7h0M494.7 855.1h0M535 855.1h0M503.8 854.5h0M543.4 855.1h0M510 855.3h0M528.7 855.3h0M501.3 854.9h0M535.1 854.8h0M508.6 854.9h0M492.3 855h0M534 854.6h0M530 854.4h0M516 855h0M522.3 855h0M487.3 854.9h0M549.1 854.5h0M496.5 854.4h0M516.5 854.8h0M507.3 855h0M539.4 855.2h0M480.8 854.7h0M508.3 854.4h0M540.9 854.6h0M544.4 854.7h0M484 855.1h0M524.1 854.4h0M494.3 854.7h0M511.9 854.7h0M541.6 854.9h0M550.7 854.8h0M508.5 854.6h0M501.6 855.1h0M516.4 855.3h0M483 855.2h0M510 855h0M491.2 855.1h0M480 855h0M537.5 854.9h0M498.5 854.4h0M549.6 855h0M537 855h0M481.4 854.7h0M510.3 855.2h0M519.6 854.9h0M491.9 854.6h0M509.8 855.2h0M536.3 854.6h0M593.6 855h0M640.8 854.6h0M618.3 854.5h0M608.7 855h0M579.3 854.7h0M608.6 854.8h0M628.1 854.8h0M630 855h0M593.6 855.4h0M603.8 854.8h0M593.5 855h0M592.9 854.8h0M649.3 855.4h0M643.1 855h0M577.3 854.7h0M598.8 854.7h0M627.3 855.4h0M641.3 854.9h0M578.6 855.5h0M605.3 854.6h0M574.7 855.1h0M638.7 854.8h0M574 854.9h0M589.2 855h0M617.6 855.2h0M583 854.9h0M621.8 855h0M594.8 854.7h0M647.8 854.8h0M601.9 855.1h0M599.3 855.2h0M616.8 854.9h0M592.7 855.4h0M629.5 854.7h0M637.5 854.5h0M648 855.2h0M621 855h0M621.9 854.7h0M593.7 855.4h0M576.5 854.9h0M596.8 855.7h0M604 854.4h0M637.7 854.7h0M603 855.1h0M628.3 855.3h0M642.5 855.4h0M617.2 854.8h0M639.7 854.9h0M576.2 855.1h0M594.7 855.2h0M609.3 854.8h0M627.2 854.9h0M596.8 854.4h0M645 855.3h0M609.6 854.7h0M639.2 855.1h0M587.9 855h0M618.9 855h0M630.2 854.8h0M635.9 855.1h0M621.7 855.1h0M611.4 854.6h0M575.6 854.9h0M582.9 855h0M601.6 854.6h0M624.7 855h0M586.3 855.3h0M631.8 855.3h0M623.7 854.8h0M613.6 854h0M636.4 855.2h0M575.9 855.2h0M642.9 854.9h0M611.7 855h0M589.8 854.8h0M602 854.7h0M598.6 855.2h0M617.9 855.3h0M597.4 855h0M608.5 854.6h0M609.9 854.5h0M596.1 855.1h0M622.2 855.1h0M593.3 855.3h0M635.5 854.8h0M575 854.8h0M613.1 854.7h0M599.5 855.2h0M632.9 855.5h0M632.1 854.7h0M644.4 854.8h0M644.5 854.8h0M641.8 855.1h0M594.8 854.7h0M602.4 855.2h0M596.2 855.1h0M604.8 855h0M641.1 855.2h0M615.9 854.7h0M589 854.7h0M607 855.4h0M603.2 854.9h0M585.7 854.7h0M601.4 854.8h0M582.8 854.6h0M595.9 855.2h0M599.8 854.7h0M575.3 855.2h0M581.5 855.2h0M616.6 854.9h0M589.5 855.5h0M621.2 855h0M620.4 855.1h0M590.3 855.2h0M648.5 854.7h0M613.8 854.6h0M629.9 855h0M617.8 854.7h0M648.9 854.6h0M591.4 854.6h0M584.5 855.2h0M631.7 855.5h0M614.8 854.9h0M631.2 854.9h0M645.8 855h0M594.8 855.2h0M582.8 855h0M611.3 854.8h0M595.8 855.2h0M640.9 854.8h0M648.6 854.7h0M645.7 854.7h0M633.9 854.7h0M620.2 854.9h0M646.7 854.9h0M648.9 855.1h0M617.7 854.8h0M605.8 854.9h0M603.2 854.8h0M611.9 854.9h0M577.2 855.3h0M618.8 854.8h0M617.8 854.4h0M622.1 855.2h0M645.6 855.1h0M599.5 855.1h0M629.8 854.2h0M608.9 854.6h0M574.2 855h0M601.5 854.9h0M601.7 854.8h0M580.8 855.2h0M593.1 854.6h0M601 854.8h0M594.1 855h0M587.5 854.7h0M578.4 854.7h0M633.3 854.9h0M623.9 854.7h0M627.6 854.9h0M528 706.4h0M538.5 705.9h0M605 672.4h0M610 686.4h0M619 676.7h0M648 708h0M649 714.5h0M647.5 712.9h0M637 688.6h0M598 690.2h0" stroke="#000" stroke-width="1.55" stroke-linecap="round" fill="none"/>
<line x1="478.5" y1="854.9" x2="553.5" y2="854.9" stroke="#000" stroke-width="2.2"/>
<line x1="574" y1="854.9" x2="649.5" y2="854.9" stroke="#000" stroke-width="2.2"/>
<path d="M458.9 664.5V864.3H670" fill="none" stroke="#b5b5b5" stroke-width="0.9"/>
<line x1="456.9" y1="854.9" x2="458.9" y2="854.9" stroke="#b5b5b5" stroke-width="0.8"/>
<text x="455.4" y="857.9" font-size="8.4" fill="#444" text-anchor="end">0</text>
<line x1="456.9" y1="800.9" x2="458.9" y2="800.9" stroke="#b5b5b5" stroke-width="0.8"/>
<text x="455.4" y="803.9" font-size="8.4" fill="#444" text-anchor="end">1</text>
<line x1="456.9" y1="746.9" x2="458.9" y2="746.9" stroke="#b5b5b5" stroke-width="0.8"/>
<text x="455.4" y="749.9" font-size="8.4" fill="#444" text-anchor="end">2</text>
<line x1="456.9" y1="692.9" x2="458.9" y2="692.9" stroke="#b5b5b5" stroke-width="0.8"/>
<text x="455.4" y="695.9" font-size="8.4" fill="#444" text-anchor="end">3</text>
<line x1="516.3" y1="864.3" x2="516.3" y2="866.4" stroke="#b5b5b5" stroke-width="0.8"/>
<text x="516.3" y="874.1" font-size="9.6" fill="#1a1a1a" text-anchor="middle">MHO</text>
<line x1="612.3" y1="864.3" x2="612.3" y2="866.4" stroke="#b5b5b5" stroke-width="0.8"/>
<text x="612.3" y="874.1" font-size="9.6" fill="#1a1a1a" text-anchor="middle">MUO</text>
<text x="563.2" y="884.8" font-size="9.2" fill="#262626" text-anchor="middle">Status</text>
<text x="438.6" y="776.6" font-size="10.9" fill="#111" text-anchor="middle" transform="rotate(-90 438.6 776.6)">FAM20C</text>
<line x1="514.9" y1="667.1" x2="612" y2="667.1" stroke="#444" stroke-width="0.9"/>
<text x="567.2" y="665.1" font-size="7.55" fill="#111" text-anchor="middle"><tspan font-style="italic">P</tspan> = 1.19 × 10<tspan dy="-2.6" font-size="4.6">−17</tspan></text>
</g>
</svg></body></html>
